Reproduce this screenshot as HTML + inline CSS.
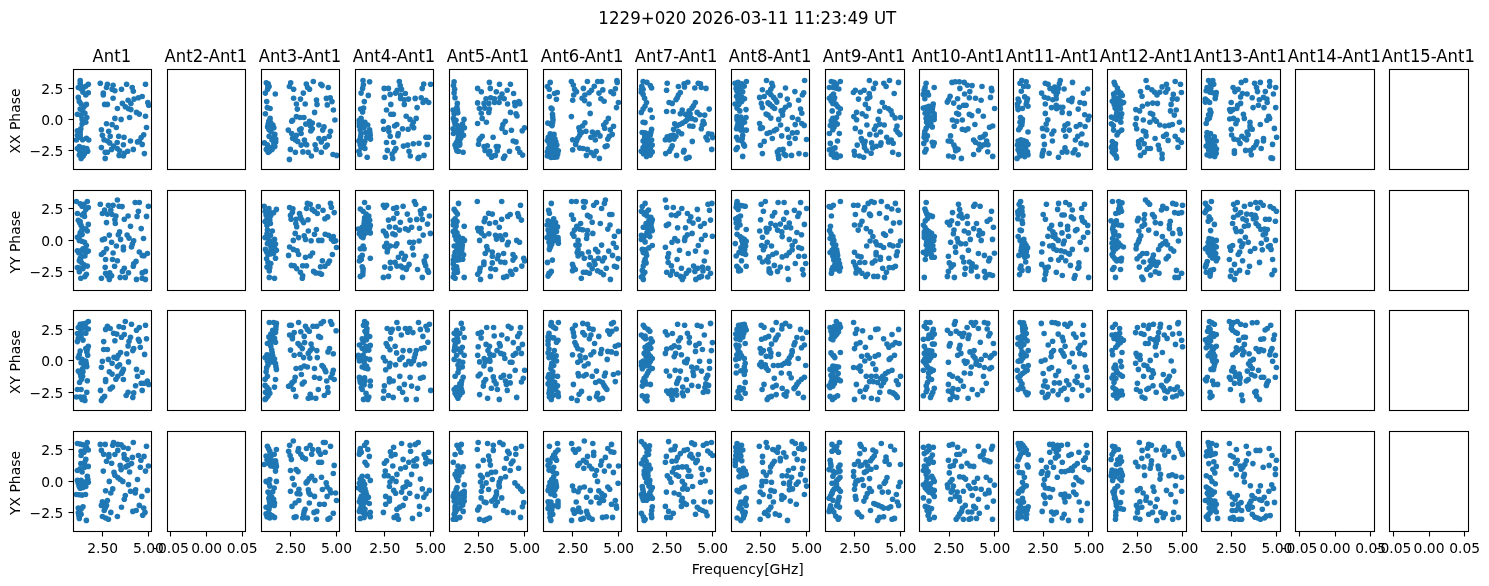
<!DOCTYPE html><html><head><meta charset="utf-8"><title>phase</title><style>html,body{margin:0;padding:0;background:#fff}svg{display:block;will-change:transform}text{font-family:"DejaVu Sans","Liberation Sans",sans-serif;fill:#000}line,rect.f{stroke:#000;stroke-width:1.1;fill:none}</style></head><body>
<svg width="1489" height="586" viewBox="0 0 1489 586">
<rect width="1489" height="586" fill="#fff"/>
<text transform="translate(747.30,24.00) scale(1.000,1.060)" font-size="16.67" text-anchor="middle">1229+020 2026-03-11 11:23:49 UT</text>
<text transform="translate(747.80,574.00) scale(1.010,1.000)" font-size="13.89" text-anchor="middle">Frequency[GHz]</text>
<g fill="#1f77b4"><circle cx="80.2" cy="80.5" r="2.8"/><circle cx="80.2" cy="83.3" r="2.8"/><circle cx="88.3" cy="84.3" r="2.8"/><circle cx="85.8" cy="86.2" r="2.8"/><circle cx="78.3" cy="87.5" r="2.8"/><circle cx="81.1" cy="89.0" r="2.8"/><circle cx="83.0" cy="92.2" r="2.8"/><circle cx="88.3" cy="92.7" r="2.8"/><circle cx="85.8" cy="95.0" r="2.8"/><circle cx="78.3" cy="97.4" r="2.8"/><circle cx="79.3" cy="101.6" r="2.8"/><circle cx="81.1" cy="104.0" r="2.8"/><circle cx="86.4" cy="104.4" r="2.8"/><circle cx="84.0" cy="106.8" r="2.8"/><circle cx="80.2" cy="109.1" r="2.8"/><circle cx="82.6" cy="110.9" r="2.8"/><circle cx="77.4" cy="114.3" r="2.8"/><circle cx="84.9" cy="113.2" r="2.8"/><circle cx="81.1" cy="115.6" r="2.8"/><circle cx="86.8" cy="117.5" r="2.8"/><circle cx="82.1" cy="119.4" r="2.8"/><circle cx="85.8" cy="122.2" r="2.8"/><circle cx="82.1" cy="124.1" r="2.8"/><circle cx="80.8" cy="128.8" r="2.8"/><circle cx="77.4" cy="130.7" r="2.8"/><circle cx="80.2" cy="131.6" r="2.8"/><circle cx="77.4" cy="135.3" r="2.8"/><circle cx="80.2" cy="137.2" r="2.8"/><circle cx="86.4" cy="138.2" r="2.8"/><circle cx="88.7" cy="140.0" r="2.8"/><circle cx="76.4" cy="140.0" r="2.8"/><circle cx="82.6" cy="139.7" r="2.8"/><circle cx="79.3" cy="146.6" r="2.8"/><circle cx="83.4" cy="147.9" r="2.8"/><circle cx="77.4" cy="148.5" r="2.8"/><circle cx="86.8" cy="148.5" r="2.8"/><circle cx="85.3" cy="150.4" r="2.8"/><circle cx="87.7" cy="151.3" r="2.8"/><circle cx="81.5" cy="152.2" r="2.8"/><circle cx="84.5" cy="153.7" r="2.8"/><circle cx="79.3" cy="155.1" r="2.8"/><circle cx="83.0" cy="156.0" r="2.8"/><circle cx="81.1" cy="158.4" r="2.8"/><circle cx="100.3" cy="83.3" r="2.8"/><circle cx="107.4" cy="84.3" r="2.8"/><circle cx="113.1" cy="85.2" r="2.8"/><circle cx="126.6" cy="84.3" r="2.8"/><circle cx="145.5" cy="84.3" r="2.8"/><circle cx="106.5" cy="87.5" r="2.8"/><circle cx="132.2" cy="87.5" r="2.8"/><circle cx="121.5" cy="89.3" r="2.8"/><circle cx="112.1" cy="89.3" r="2.8"/><circle cx="114.9" cy="90.7" r="2.8"/><circle cx="133.3" cy="91.2" r="2.8"/><circle cx="103.3" cy="93.1" r="2.8"/><circle cx="103.3" cy="95.0" r="2.8"/><circle cx="142.2" cy="96.5" r="2.8"/><circle cx="113.1" cy="98.2" r="2.8"/><circle cx="128.1" cy="100.2" r="2.8"/><circle cx="134.1" cy="99.1" r="2.8"/><circle cx="138.4" cy="97.8" r="2.8"/><circle cx="147.8" cy="102.5" r="2.8"/><circle cx="104.6" cy="104.4" r="2.8"/><circle cx="107.4" cy="104.4" r="2.8"/><circle cx="122.4" cy="103.4" r="2.8"/><circle cx="130.9" cy="103.4" r="2.8"/><circle cx="148.7" cy="105.3" r="2.8"/><circle cx="125.3" cy="106.8" r="2.8"/><circle cx="117.4" cy="108.5" r="2.8"/><circle cx="128.5" cy="108.7" r="2.8"/><circle cx="130.9" cy="109.6" r="2.8"/><circle cx="136.5" cy="112.4" r="2.8"/><circle cx="139.3" cy="114.1" r="2.8"/><circle cx="145.5" cy="116.2" r="2.8"/><circle cx="129.6" cy="117.5" r="2.8"/><circle cx="114.9" cy="118.4" r="2.8"/><circle cx="121.1" cy="119.4" r="2.8"/><circle cx="106.5" cy="123.7" r="2.8"/><circle cx="112.1" cy="124.6" r="2.8"/><circle cx="146.5" cy="127.5" r="2.8"/><circle cx="116.3" cy="127.5" r="2.8"/><circle cx="101.4" cy="129.7" r="2.8"/><circle cx="108.7" cy="131.2" r="2.8"/><circle cx="143.7" cy="134.8" r="2.8"/><circle cx="102.4" cy="135.3" r="2.8"/><circle cx="110.2" cy="136.3" r="2.8"/><circle cx="118.7" cy="136.3" r="2.8"/><circle cx="124.0" cy="137.2" r="2.8"/><circle cx="141.2" cy="137.6" r="2.8"/><circle cx="104.0" cy="139.7" r="2.8"/><circle cx="107.4" cy="141.0" r="2.8"/><circle cx="130.5" cy="141.0" r="2.8"/><circle cx="139.3" cy="141.0" r="2.8"/><circle cx="137.5" cy="141.9" r="2.8"/><circle cx="117.2" cy="142.5" r="2.8"/><circle cx="109.7" cy="142.9" r="2.8"/><circle cx="142.2" cy="144.4" r="2.8"/><circle cx="123.4" cy="144.7" r="2.8"/><circle cx="113.6" cy="146.1" r="2.8"/><circle cx="101.4" cy="147.6" r="2.8"/><circle cx="117.2" cy="148.5" r="2.8"/><circle cx="111.6" cy="149.4" r="2.8"/><circle cx="133.3" cy="149.4" r="2.8"/><circle cx="119.6" cy="150.7" r="2.8"/><circle cx="127.7" cy="151.3" r="2.8"/><circle cx="105.2" cy="152.2" r="2.8"/><circle cx="107.4" cy="152.2" r="2.8"/><circle cx="124.3" cy="153.2" r="2.8"/><circle cx="144.4" cy="153.6" r="2.8"/><circle cx="119.1" cy="155.4" r="2.8"/><circle cx="123.4" cy="156.0" r="2.8"/><circle cx="105.2" cy="158.4" r="2.8"/><circle cx="80.7" cy="86.2" r="2.8"/><circle cx="85.6" cy="151.1" r="2.8"/><circle cx="80.2" cy="134.4" r="2.8"/><circle cx="82.8" cy="156.1" r="2.8"/><circle cx="79.5" cy="150.4" r="2.8"/><circle cx="85.6" cy="149.6" r="2.8"/><circle cx="83.5" cy="87.6" r="2.8"/><circle cx="84.0" cy="150.8" r="2.8"/></g><rect class="f" x="73.5" y="69.5" width="78.0" height="100.0"/><line x1="68.5" y1="88.5" x2="73.5" y2="88.5"/><text transform="translate(63.30,94.00) scale(1.000,1.000)" font-size="13.89" text-anchor="end">2.5</text><line x1="68.5" y1="119.5" x2="73.5" y2="119.5"/><text transform="translate(63.30,125.00) scale(1.000,1.000)" font-size="13.89" text-anchor="end">0.0</text><line x1="68.5" y1="150.5" x2="73.5" y2="150.5"/><text transform="translate(63.30,156.00) scale(1.000,1.000)" font-size="13.89" text-anchor="end">−2.5</text><text transform="translate(20.00,121.00) rotate(-90) scale(1.000,1.000)" font-size="13.89" text-anchor="middle">XX Phase</text><text transform="translate(111.87,62.00) scale(0.985,1.060)" font-size="16.67" text-anchor="middle">Ant1</text>
<rect class="f" x="167.5" y="69.5" width="78.0" height="100.0"/><text transform="translate(205.91,62.00) scale(0.985,1.060)" font-size="16.67" text-anchor="middle">Ant2-Ant1</text>
<g fill="#1f77b4"><circle cx="266.3" cy="82.8" r="2.8"/><circle cx="268.2" cy="83.7" r="2.8"/><circle cx="269.1" cy="86.5" r="2.8"/><circle cx="267.6" cy="89.3" r="2.8"/><circle cx="265.4" cy="93.1" r="2.8"/><circle cx="275.3" cy="94.0" r="2.8"/><circle cx="266.7" cy="101.6" r="2.8"/><circle cx="267.3" cy="107.6" r="2.8"/><circle cx="270.1" cy="108.5" r="2.8"/><circle cx="265.4" cy="113.8" r="2.8"/><circle cx="270.1" cy="118.4" r="2.8"/><circle cx="268.8" cy="121.3" r="2.8"/><circle cx="269.5" cy="124.1" r="2.8"/><circle cx="272.9" cy="125.0" r="2.8"/><circle cx="267.6" cy="126.9" r="2.8"/><circle cx="273.8" cy="127.8" r="2.8"/><circle cx="269.1" cy="129.7" r="2.8"/><circle cx="271.0" cy="131.6" r="2.8"/><circle cx="274.8" cy="134.4" r="2.8"/><circle cx="269.1" cy="136.3" r="2.8"/><circle cx="273.8" cy="137.2" r="2.8"/><circle cx="275.7" cy="139.1" r="2.8"/><circle cx="272.0" cy="140.0" r="2.8"/><circle cx="264.4" cy="142.9" r="2.8"/><circle cx="275.7" cy="141.9" r="2.8"/><circle cx="273.8" cy="143.8" r="2.8"/><circle cx="267.3" cy="144.7" r="2.8"/><circle cx="274.8" cy="146.6" r="2.8"/><circle cx="270.1" cy="147.6" r="2.8"/><circle cx="266.3" cy="149.4" r="2.8"/><circle cx="272.0" cy="149.4" r="2.8"/><circle cx="268.2" cy="152.2" r="2.8"/><circle cx="269.5" cy="151.3" r="2.8"/><circle cx="290.7" cy="82.8" r="2.8"/><circle cx="289.4" cy="86.5" r="2.8"/><circle cx="293.6" cy="89.3" r="2.8"/><circle cx="306.3" cy="84.1" r="2.8"/><circle cx="313.3" cy="81.5" r="2.8"/><circle cx="320.8" cy="84.3" r="2.8"/><circle cx="322.1" cy="85.6" r="2.8"/><circle cx="328.3" cy="87.5" r="2.8"/><circle cx="307.6" cy="87.5" r="2.8"/><circle cx="309.5" cy="89.3" r="2.8"/><circle cx="303.3" cy="93.1" r="2.8"/><circle cx="293.6" cy="98.2" r="2.8"/><circle cx="300.5" cy="99.1" r="2.8"/><circle cx="316.5" cy="100.0" r="2.8"/><circle cx="326.4" cy="98.4" r="2.8"/><circle cx="330.2" cy="97.8" r="2.8"/><circle cx="332.0" cy="101.6" r="2.8"/><circle cx="296.4" cy="104.0" r="2.8"/><circle cx="305.2" cy="104.0" r="2.8"/><circle cx="317.0" cy="104.4" r="2.8"/><circle cx="327.3" cy="104.9" r="2.8"/><circle cx="297.3" cy="109.1" r="2.8"/><circle cx="333.4" cy="110.0" r="2.8"/><circle cx="314.6" cy="112.4" r="2.8"/><circle cx="296.4" cy="116.6" r="2.8"/><circle cx="300.1" cy="117.5" r="2.8"/><circle cx="303.9" cy="117.5" r="2.8"/><circle cx="292.6" cy="120.3" r="2.8"/><circle cx="291.7" cy="121.3" r="2.8"/><circle cx="334.9" cy="120.0" r="2.8"/><circle cx="309.5" cy="121.3" r="2.8"/><circle cx="312.3" cy="123.1" r="2.8"/><circle cx="305.8" cy="124.1" r="2.8"/><circle cx="301.1" cy="128.8" r="2.8"/><circle cx="299.6" cy="129.7" r="2.8"/><circle cx="310.4" cy="126.0" r="2.8"/><circle cx="318.9" cy="125.0" r="2.8"/><circle cx="324.0" cy="126.9" r="2.8"/><circle cx="312.3" cy="128.8" r="2.8"/><circle cx="288.3" cy="130.1" r="2.8"/><circle cx="310.8" cy="131.0" r="2.8"/><circle cx="322.7" cy="130.1" r="2.8"/><circle cx="330.5" cy="131.2" r="2.8"/><circle cx="301.1" cy="133.5" r="2.8"/><circle cx="291.7" cy="133.5" r="2.8"/><circle cx="296.4" cy="135.3" r="2.8"/><circle cx="292.6" cy="138.2" r="2.8"/><circle cx="318.9" cy="138.5" r="2.8"/><circle cx="324.5" cy="138.5" r="2.8"/><circle cx="329.2" cy="136.3" r="2.8"/><circle cx="295.4" cy="140.0" r="2.8"/><circle cx="297.7" cy="141.4" r="2.8"/><circle cx="304.4" cy="140.0" r="2.8"/><circle cx="321.3" cy="141.9" r="2.8"/><circle cx="305.2" cy="143.8" r="2.8"/><circle cx="301.1" cy="145.1" r="2.8"/><circle cx="306.7" cy="144.7" r="2.8"/><circle cx="315.1" cy="144.7" r="2.8"/><circle cx="327.3" cy="145.1" r="2.8"/><circle cx="325.5" cy="147.0" r="2.8"/><circle cx="290.4" cy="149.4" r="2.8"/><circle cx="316.1" cy="149.4" r="2.8"/><circle cx="295.4" cy="152.2" r="2.8"/><circle cx="302.9" cy="151.9" r="2.8"/><circle cx="308.2" cy="152.2" r="2.8"/><circle cx="321.3" cy="152.2" r="2.8"/><circle cx="311.4" cy="156.0" r="2.8"/><circle cx="333.0" cy="154.5" r="2.8"/><circle cx="336.7" cy="155.4" r="2.8"/><circle cx="289.4" cy="159.4" r="2.8"/><circle cx="271.7" cy="126.0" r="2.8"/><circle cx="267.9" cy="86.5" r="2.8"/><circle cx="269.8" cy="121.3" r="2.8"/><circle cx="268.2" cy="124.1" r="2.8"/><circle cx="269.3" cy="126.9" r="2.8"/><circle cx="269.1" cy="149.4" r="2.8"/><circle cx="269.3" cy="129.2" r="2.8"/><circle cx="270.8" cy="123.1" r="2.8"/></g><rect class="f" x="261.5" y="69.5" width="78.0" height="100.0"/><text transform="translate(299.94,62.00) scale(0.985,1.060)" font-size="16.67" text-anchor="middle">Ant3-Ant1</text>
<g fill="#1f77b4"><circle cx="363.0" cy="80.5" r="2.8"/><circle cx="369.6" cy="81.8" r="2.8"/><circle cx="363.4" cy="84.7" r="2.8"/><circle cx="362.6" cy="88.4" r="2.8"/><circle cx="361.1" cy="93.1" r="2.8"/><circle cx="368.3" cy="95.4" r="2.8"/><circle cx="364.3" cy="101.6" r="2.8"/><circle cx="363.6" cy="108.1" r="2.8"/><circle cx="360.6" cy="109.1" r="2.8"/><circle cx="362.6" cy="111.9" r="2.8"/><circle cx="361.1" cy="118.4" r="2.8"/><circle cx="359.3" cy="120.3" r="2.8"/><circle cx="364.9" cy="122.2" r="2.8"/><circle cx="361.1" cy="124.1" r="2.8"/><circle cx="367.7" cy="125.0" r="2.8"/><circle cx="359.3" cy="126.0" r="2.8"/><circle cx="364.0" cy="127.8" r="2.8"/><circle cx="369.6" cy="129.7" r="2.8"/><circle cx="360.2" cy="129.7" r="2.8"/><circle cx="365.8" cy="132.5" r="2.8"/><circle cx="361.1" cy="133.5" r="2.8"/><circle cx="370.2" cy="135.3" r="2.8"/><circle cx="366.8" cy="137.2" r="2.8"/><circle cx="360.2" cy="139.1" r="2.8"/><circle cx="370.5" cy="139.1" r="2.8"/><circle cx="364.9" cy="141.0" r="2.8"/><circle cx="358.9" cy="141.0" r="2.8"/><circle cx="364.0" cy="143.8" r="2.8"/><circle cx="360.2" cy="144.7" r="2.8"/><circle cx="361.1" cy="147.6" r="2.8"/><circle cx="364.9" cy="148.5" r="2.8"/><circle cx="358.9" cy="151.3" r="2.8"/><circle cx="359.8" cy="154.5" r="2.8"/><circle cx="367.2" cy="157.3" r="2.8"/><circle cx="399.3" cy="81.5" r="2.8"/><circle cx="400.2" cy="85.6" r="2.8"/><circle cx="423.7" cy="84.1" r="2.8"/><circle cx="430.6" cy="84.3" r="2.8"/><circle cx="422.2" cy="88.4" r="2.8"/><circle cx="384.2" cy="88.4" r="2.8"/><circle cx="388.4" cy="88.4" r="2.8"/><circle cx="397.2" cy="90.3" r="2.8"/><circle cx="401.5" cy="89.3" r="2.8"/><circle cx="395.5" cy="93.1" r="2.8"/><circle cx="390.2" cy="94.4" r="2.8"/><circle cx="400.6" cy="95.0" r="2.8"/><circle cx="405.3" cy="93.5" r="2.8"/><circle cx="384.2" cy="97.4" r="2.8"/><circle cx="400.6" cy="98.4" r="2.8"/><circle cx="404.3" cy="99.7" r="2.8"/><circle cx="408.5" cy="99.1" r="2.8"/><circle cx="415.2" cy="98.4" r="2.8"/><circle cx="421.2" cy="97.8" r="2.8"/><circle cx="425.9" cy="100.2" r="2.8"/><circle cx="423.1" cy="102.5" r="2.8"/><circle cx="428.7" cy="102.5" r="2.8"/><circle cx="390.8" cy="104.4" r="2.8"/><circle cx="404.3" cy="104.4" r="2.8"/><circle cx="417.1" cy="107.6" r="2.8"/><circle cx="386.5" cy="110.0" r="2.8"/><circle cx="390.8" cy="114.3" r="2.8"/><circle cx="393.4" cy="114.3" r="2.8"/><circle cx="406.2" cy="116.2" r="2.8"/><circle cx="410.0" cy="119.4" r="2.8"/><circle cx="416.2" cy="118.4" r="2.8"/><circle cx="383.3" cy="121.3" r="2.8"/><circle cx="413.3" cy="122.2" r="2.8"/><circle cx="396.8" cy="124.5" r="2.8"/><circle cx="394.6" cy="126.0" r="2.8"/><circle cx="412.2" cy="125.6" r="2.8"/><circle cx="388.4" cy="127.8" r="2.8"/><circle cx="383.7" cy="129.3" r="2.8"/><circle cx="402.5" cy="128.8" r="2.8"/><circle cx="408.1" cy="129.2" r="2.8"/><circle cx="413.7" cy="127.8" r="2.8"/><circle cx="388.9" cy="131.6" r="2.8"/><circle cx="398.3" cy="133.5" r="2.8"/><circle cx="390.2" cy="136.3" r="2.8"/><circle cx="397.8" cy="135.7" r="2.8"/><circle cx="425.9" cy="137.2" r="2.8"/><circle cx="428.7" cy="137.2" r="2.8"/><circle cx="386.5" cy="142.5" r="2.8"/><circle cx="393.6" cy="142.5" r="2.8"/><circle cx="403.4" cy="146.1" r="2.8"/><circle cx="407.7" cy="145.1" r="2.8"/><circle cx="413.3" cy="143.8" r="2.8"/><circle cx="419.0" cy="143.2" r="2.8"/><circle cx="427.2" cy="144.4" r="2.8"/><circle cx="395.9" cy="148.5" r="2.8"/><circle cx="387.4" cy="150.4" r="2.8"/><circle cx="394.6" cy="150.7" r="2.8"/><circle cx="409.0" cy="151.3" r="2.8"/><circle cx="392.1" cy="154.1" r="2.8"/><circle cx="410.3" cy="156.0" r="2.8"/><circle cx="385.2" cy="157.3" r="2.8"/><circle cx="392.7" cy="158.4" r="2.8"/><circle cx="419.0" cy="157.3" r="2.8"/><circle cx="424.0" cy="155.4" r="2.8"/><circle cx="418.0" cy="158.4" r="2.8"/><circle cx="360.7" cy="136.3" r="2.8"/><circle cx="364.4" cy="125.0" r="2.8"/><circle cx="360.7" cy="126.9" r="2.8"/><circle cx="369.9" cy="132.5" r="2.8"/><circle cx="359.3" cy="123.1" r="2.8"/><circle cx="360.2" cy="141.9" r="2.8"/><circle cx="361.1" cy="121.3" r="2.8"/><circle cx="361.4" cy="142.4" r="2.8"/></g><rect class="f" x="355.5" y="69.5" width="78.0" height="100.0"/><text transform="translate(393.98,62.00) scale(0.985,1.060)" font-size="16.67" text-anchor="middle">Ant4-Ant1</text>
<g fill="#1f77b4"><circle cx="454.1" cy="81.8" r="2.8"/><circle cx="453.5" cy="85.6" r="2.8"/><circle cx="454.6" cy="89.3" r="2.8"/><circle cx="454.1" cy="93.1" r="2.8"/><circle cx="455.0" cy="97.8" r="2.8"/><circle cx="457.3" cy="103.4" r="2.8"/><circle cx="456.9" cy="107.2" r="2.8"/><circle cx="453.1" cy="110.0" r="2.8"/><circle cx="454.1" cy="113.8" r="2.8"/><circle cx="457.8" cy="112.8" r="2.8"/><circle cx="453.5" cy="118.4" r="2.8"/><circle cx="456.0" cy="120.3" r="2.8"/><circle cx="464.0" cy="119.4" r="2.8"/><circle cx="455.0" cy="124.1" r="2.8"/><circle cx="462.5" cy="124.1" r="2.8"/><circle cx="459.7" cy="126.9" r="2.8"/><circle cx="453.1" cy="128.8" r="2.8"/><circle cx="464.4" cy="127.8" r="2.8"/><circle cx="457.8" cy="129.7" r="2.8"/><circle cx="461.6" cy="131.6" r="2.8"/><circle cx="453.5" cy="133.5" r="2.8"/><circle cx="458.8" cy="134.4" r="2.8"/><circle cx="463.5" cy="135.3" r="2.8"/><circle cx="460.7" cy="138.2" r="2.8"/><circle cx="457.8" cy="140.0" r="2.8"/><circle cx="459.7" cy="142.9" r="2.8"/><circle cx="455.0" cy="145.1" r="2.8"/><circle cx="459.7" cy="145.1" r="2.8"/><circle cx="456.9" cy="150.7" r="2.8"/><circle cx="458.4" cy="151.3" r="2.8"/><circle cx="463.1" cy="152.2" r="2.8"/><circle cx="489.4" cy="82.4" r="2.8"/><circle cx="499.5" cy="84.3" r="2.8"/><circle cx="510.4" cy="84.3" r="2.8"/><circle cx="477.6" cy="88.4" r="2.8"/><circle cx="490.3" cy="88.4" r="2.8"/><circle cx="481.3" cy="91.8" r="2.8"/><circle cx="496.3" cy="91.8" r="2.8"/><circle cx="507.2" cy="90.3" r="2.8"/><circle cx="502.0" cy="94.0" r="2.8"/><circle cx="513.6" cy="93.5" r="2.8"/><circle cx="486.0" cy="98.7" r="2.8"/><circle cx="490.7" cy="97.8" r="2.8"/><circle cx="494.5" cy="98.7" r="2.8"/><circle cx="500.1" cy="97.8" r="2.8"/><circle cx="504.2" cy="98.7" r="2.8"/><circle cx="477.6" cy="102.9" r="2.8"/><circle cx="484.1" cy="103.4" r="2.8"/><circle cx="488.8" cy="103.4" r="2.8"/><circle cx="494.5" cy="102.5" r="2.8"/><circle cx="499.1" cy="102.5" r="2.8"/><circle cx="507.6" cy="104.0" r="2.8"/><circle cx="514.7" cy="102.5" r="2.8"/><circle cx="518.9" cy="101.6" r="2.8"/><circle cx="519.8" cy="103.8" r="2.8"/><circle cx="515.1" cy="105.7" r="2.8"/><circle cx="479.4" cy="108.5" r="2.8"/><circle cx="484.7" cy="108.1" r="2.8"/><circle cx="489.4" cy="109.1" r="2.8"/><circle cx="481.3" cy="113.2" r="2.8"/><circle cx="488.8" cy="112.4" r="2.8"/><circle cx="510.4" cy="112.4" r="2.8"/><circle cx="516.0" cy="113.8" r="2.8"/><circle cx="517.0" cy="116.0" r="2.8"/><circle cx="482.2" cy="118.4" r="2.8"/><circle cx="505.3" cy="121.3" r="2.8"/><circle cx="477.6" cy="123.5" r="2.8"/><circle cx="486.4" cy="122.2" r="2.8"/><circle cx="502.9" cy="124.5" r="2.8"/><circle cx="502.0" cy="128.4" r="2.8"/><circle cx="524.5" cy="127.8" r="2.8"/><circle cx="522.2" cy="130.7" r="2.8"/><circle cx="511.4" cy="130.3" r="2.8"/><circle cx="505.3" cy="132.2" r="2.8"/><circle cx="482.2" cy="136.3" r="2.8"/><circle cx="480.4" cy="138.2" r="2.8"/><circle cx="493.1" cy="137.2" r="2.8"/><circle cx="479.1" cy="140.0" r="2.8"/><circle cx="513.2" cy="141.0" r="2.8"/><circle cx="516.0" cy="141.9" r="2.8"/><circle cx="478.5" cy="144.2" r="2.8"/><circle cx="484.1" cy="146.6" r="2.8"/><circle cx="487.3" cy="145.7" r="2.8"/><circle cx="496.3" cy="146.6" r="2.8"/><circle cx="498.2" cy="146.6" r="2.8"/><circle cx="517.9" cy="148.5" r="2.8"/><circle cx="485.1" cy="150.4" r="2.8"/><circle cx="489.8" cy="151.3" r="2.8"/><circle cx="497.3" cy="150.7" r="2.8"/><circle cx="509.5" cy="151.3" r="2.8"/><circle cx="519.8" cy="152.2" r="2.8"/><circle cx="488.8" cy="154.1" r="2.8"/><circle cx="492.6" cy="156.0" r="2.8"/><circle cx="495.4" cy="155.4" r="2.8"/><circle cx="504.8" cy="156.0" r="2.8"/><circle cx="522.6" cy="155.1" r="2.8"/><circle cx="491.6" cy="157.3" r="2.8"/><circle cx="503.5" cy="158.3" r="2.8"/><circle cx="457.4" cy="110.0" r="2.8"/><circle cx="458.3" cy="137.2" r="2.8"/><circle cx="455.7" cy="131.6" r="2.8"/><circle cx="456.4" cy="142.6" r="2.8"/><circle cx="454.3" cy="121.3" r="2.8"/><circle cx="455.5" cy="111.4" r="2.8"/><circle cx="457.4" cy="125.5" r="2.8"/><circle cx="456.0" cy="147.9" r="2.8"/></g><rect class="f" x="449.5" y="69.5" width="78.0" height="100.0"/><text transform="translate(488.01,62.00) scale(0.985,1.060)" font-size="16.67" text-anchor="middle">Ant5-Ant1</text>
<g fill="#1f77b4"><circle cx="550.2" cy="82.4" r="2.8"/><circle cx="547.4" cy="86.5" r="2.8"/><circle cx="549.3" cy="89.3" r="2.8"/><circle cx="557.3" cy="92.5" r="2.8"/><circle cx="554.5" cy="93.5" r="2.8"/><circle cx="549.3" cy="96.5" r="2.8"/><circle cx="556.4" cy="99.3" r="2.8"/><circle cx="551.1" cy="108.1" r="2.8"/><circle cx="552.1" cy="109.1" r="2.8"/><circle cx="552.5" cy="114.3" r="2.8"/><circle cx="553.0" cy="120.0" r="2.8"/><circle cx="547.8" cy="123.1" r="2.8"/><circle cx="551.1" cy="124.5" r="2.8"/><circle cx="552.1" cy="125.6" r="2.8"/><circle cx="550.2" cy="133.8" r="2.8"/><circle cx="554.0" cy="134.4" r="2.8"/><circle cx="548.3" cy="137.2" r="2.8"/><circle cx="552.1" cy="137.6" r="2.8"/><circle cx="554.9" cy="138.7" r="2.8"/><circle cx="547.4" cy="140.6" r="2.8"/><circle cx="551.1" cy="141.0" r="2.8"/><circle cx="555.8" cy="141.9" r="2.8"/><circle cx="549.3" cy="143.8" r="2.8"/><circle cx="554.0" cy="144.4" r="2.8"/><circle cx="556.8" cy="145.1" r="2.8"/><circle cx="551.1" cy="146.6" r="2.8"/><circle cx="548.3" cy="148.5" r="2.8"/><circle cx="555.8" cy="148.9" r="2.8"/><circle cx="552.1" cy="150.0" r="2.8"/><circle cx="558.3" cy="150.7" r="2.8"/><circle cx="547.4" cy="151.9" r="2.8"/><circle cx="554.0" cy="152.6" r="2.8"/><circle cx="550.2" cy="154.1" r="2.8"/><circle cx="557.7" cy="154.1" r="2.8"/><circle cx="547.4" cy="156.0" r="2.8"/><circle cx="553.0" cy="156.4" r="2.8"/><circle cx="556.8" cy="156.9" r="2.8"/><circle cx="551.1" cy="157.5" r="2.8"/><circle cx="571.4" cy="81.5" r="2.8"/><circle cx="587.4" cy="81.5" r="2.8"/><circle cx="597.7" cy="81.5" r="2.8"/><circle cx="601.5" cy="81.5" r="2.8"/><circle cx="616.9" cy="80.5" r="2.8"/><circle cx="617.2" cy="82.4" r="2.8"/><circle cx="573.3" cy="85.0" r="2.8"/><circle cx="594.3" cy="86.2" r="2.8"/><circle cx="583.4" cy="88.4" r="2.8"/><circle cx="574.6" cy="89.3" r="2.8"/><circle cx="615.4" cy="88.8" r="2.8"/><circle cx="591.5" cy="90.3" r="2.8"/><circle cx="602.8" cy="89.9" r="2.8"/><circle cx="576.5" cy="91.8" r="2.8"/><circle cx="589.1" cy="92.7" r="2.8"/><circle cx="610.9" cy="91.8" r="2.8"/><circle cx="599.0" cy="93.1" r="2.8"/><circle cx="613.5" cy="93.7" r="2.8"/><circle cx="573.7" cy="95.0" r="2.8"/><circle cx="584.9" cy="95.0" r="2.8"/><circle cx="582.1" cy="98.2" r="2.8"/><circle cx="600.9" cy="98.7" r="2.8"/><circle cx="572.7" cy="100.2" r="2.8"/><circle cx="584.6" cy="100.6" r="2.8"/><circle cx="604.1" cy="101.2" r="2.8"/><circle cx="618.4" cy="102.5" r="2.8"/><circle cx="589.1" cy="104.0" r="2.8"/><circle cx="616.5" cy="107.6" r="2.8"/><circle cx="590.2" cy="113.4" r="2.8"/><circle cx="571.4" cy="116.6" r="2.8"/><circle cx="608.4" cy="118.4" r="2.8"/><circle cx="584.9" cy="122.8" r="2.8"/><circle cx="606.0" cy="122.2" r="2.8"/><circle cx="603.7" cy="125.0" r="2.8"/><circle cx="582.5" cy="126.0" r="2.8"/><circle cx="578.9" cy="127.8" r="2.8"/><circle cx="613.5" cy="126.3" r="2.8"/><circle cx="604.7" cy="128.2" r="2.8"/><circle cx="579.7" cy="130.7" r="2.8"/><circle cx="610.3" cy="129.7" r="2.8"/><circle cx="585.9" cy="131.2" r="2.8"/><circle cx="581.6" cy="132.5" r="2.8"/><circle cx="592.4" cy="132.0" r="2.8"/><circle cx="597.7" cy="132.5" r="2.8"/><circle cx="579.7" cy="135.3" r="2.8"/><circle cx="594.7" cy="135.0" r="2.8"/><circle cx="600.0" cy="135.9" r="2.8"/><circle cx="612.2" cy="134.4" r="2.8"/><circle cx="609.3" cy="136.3" r="2.8"/><circle cx="590.9" cy="137.2" r="2.8"/><circle cx="577.8" cy="138.2" r="2.8"/><circle cx="572.7" cy="139.7" r="2.8"/><circle cx="607.8" cy="139.1" r="2.8"/><circle cx="595.3" cy="140.0" r="2.8"/><circle cx="576.5" cy="141.0" r="2.8"/><circle cx="575.6" cy="144.4" r="2.8"/><circle cx="607.1" cy="145.7" r="2.8"/><circle cx="605.2" cy="146.6" r="2.8"/><circle cx="579.7" cy="148.1" r="2.8"/><circle cx="572.7" cy="149.8" r="2.8"/><circle cx="583.1" cy="148.5" r="2.8"/><circle cx="587.4" cy="149.4" r="2.8"/><circle cx="596.2" cy="151.3" r="2.8"/><circle cx="591.1" cy="152.6" r="2.8"/><circle cx="586.4" cy="155.4" r="2.8"/><circle cx="594.0" cy="155.4" r="2.8"/><circle cx="599.4" cy="158.4" r="2.8"/><circle cx="552.6" cy="122.8" r="2.8"/><circle cx="554.4" cy="141.5" r="2.8"/><circle cx="554.0" cy="139.8" r="2.8"/><circle cx="552.7" cy="117.1" r="2.8"/><circle cx="554.0" cy="157.2" r="2.8"/><circle cx="550.2" cy="156.2" r="2.8"/><circle cx="552.6" cy="155.1" r="2.8"/><circle cx="551.1" cy="143.8" r="2.8"/></g><rect class="f" x="543.5" y="69.5" width="78.0" height="100.0"/><text transform="translate(582.04,62.00) scale(0.985,1.060)" font-size="16.67" text-anchor="middle">Ant6-Ant1</text>
<g fill="#1f77b4"><circle cx="643.1" cy="81.5" r="2.8"/><circle cx="646.9" cy="82.4" r="2.8"/><circle cx="641.8" cy="86.2" r="2.8"/><circle cx="650.3" cy="85.6" r="2.8"/><circle cx="651.6" cy="88.0" r="2.8"/><circle cx="643.1" cy="89.3" r="2.8"/><circle cx="641.3" cy="92.2" r="2.8"/><circle cx="643.1" cy="94.4" r="2.8"/><circle cx="644.6" cy="98.2" r="2.8"/><circle cx="646.5" cy="102.5" r="2.8"/><circle cx="645.0" cy="106.2" r="2.8"/><circle cx="643.1" cy="109.1" r="2.8"/><circle cx="650.3" cy="110.0" r="2.8"/><circle cx="641.3" cy="112.4" r="2.8"/><circle cx="652.2" cy="117.5" r="2.8"/><circle cx="643.1" cy="122.2" r="2.8"/><circle cx="645.0" cy="122.6" r="2.8"/><circle cx="651.6" cy="129.3" r="2.8"/><circle cx="642.2" cy="132.5" r="2.8"/><circle cx="645.0" cy="132.9" r="2.8"/><circle cx="650.3" cy="135.0" r="2.8"/><circle cx="644.6" cy="138.2" r="2.8"/><circle cx="647.8" cy="139.1" r="2.8"/><circle cx="651.6" cy="140.0" r="2.8"/><circle cx="643.1" cy="141.0" r="2.8"/><circle cx="646.5" cy="142.5" r="2.8"/><circle cx="649.7" cy="143.8" r="2.8"/><circle cx="645.0" cy="145.1" r="2.8"/><circle cx="652.2" cy="145.1" r="2.8"/><circle cx="647.8" cy="146.6" r="2.8"/><circle cx="643.1" cy="147.6" r="2.8"/><circle cx="650.3" cy="149.4" r="2.8"/><circle cx="646.0" cy="150.0" r="2.8"/><circle cx="641.3" cy="151.3" r="2.8"/><circle cx="652.2" cy="151.9" r="2.8"/><circle cx="647.8" cy="153.2" r="2.8"/><circle cx="643.5" cy="153.7" r="2.8"/><circle cx="650.3" cy="155.1" r="2.8"/><circle cx="646.5" cy="156.4" r="2.8"/><circle cx="667.2" cy="83.2" r="2.8"/><circle cx="687.8" cy="82.2" r="2.8"/><circle cx="684.1" cy="83.7" r="2.8"/><circle cx="698.2" cy="83.3" r="2.8"/><circle cx="700.4" cy="83.7" r="2.8"/><circle cx="678.4" cy="86.5" r="2.8"/><circle cx="684.5" cy="86.9" r="2.8"/><circle cx="694.8" cy="88.0" r="2.8"/><circle cx="701.3" cy="87.5" r="2.8"/><circle cx="706.0" cy="88.4" r="2.8"/><circle cx="666.6" cy="90.3" r="2.8"/><circle cx="680.3" cy="92.5" r="2.8"/><circle cx="678.4" cy="95.0" r="2.8"/><circle cx="677.3" cy="97.8" r="2.8"/><circle cx="676.0" cy="99.7" r="2.8"/><circle cx="669.1" cy="102.5" r="2.8"/><circle cx="672.2" cy="103.4" r="2.8"/><circle cx="695.3" cy="102.5" r="2.8"/><circle cx="693.5" cy="105.7" r="2.8"/><circle cx="692.0" cy="108.1" r="2.8"/><circle cx="709.2" cy="109.1" r="2.8"/><circle cx="682.2" cy="110.0" r="2.8"/><circle cx="666.6" cy="111.5" r="2.8"/><circle cx="673.2" cy="111.5" r="2.8"/><circle cx="689.1" cy="110.9" r="2.8"/><circle cx="697.2" cy="112.4" r="2.8"/><circle cx="680.3" cy="113.8" r="2.8"/><circle cx="685.4" cy="114.3" r="2.8"/><circle cx="690.1" cy="113.8" r="2.8"/><circle cx="699.8" cy="114.7" r="2.8"/><circle cx="704.7" cy="115.1" r="2.8"/><circle cx="688.2" cy="116.6" r="2.8"/><circle cx="691.6" cy="118.4" r="2.8"/><circle cx="687.3" cy="119.4" r="2.8"/><circle cx="695.3" cy="119.8" r="2.8"/><circle cx="685.4" cy="121.3" r="2.8"/><circle cx="703.2" cy="121.3" r="2.8"/><circle cx="682.6" cy="123.1" r="2.8"/><circle cx="679.8" cy="124.5" r="2.8"/><circle cx="674.7" cy="123.7" r="2.8"/><circle cx="704.2" cy="123.7" r="2.8"/><circle cx="676.9" cy="126.0" r="2.8"/><circle cx="689.7" cy="126.0" r="2.8"/><circle cx="692.9" cy="126.3" r="2.8"/><circle cx="702.3" cy="125.0" r="2.8"/><circle cx="673.6" cy="129.3" r="2.8"/><circle cx="701.3" cy="128.8" r="2.8"/><circle cx="678.4" cy="131.6" r="2.8"/><circle cx="681.6" cy="133.8" r="2.8"/><circle cx="673.2" cy="135.0" r="2.8"/><circle cx="708.5" cy="133.8" r="2.8"/><circle cx="711.7" cy="134.4" r="2.8"/><circle cx="670.4" cy="135.9" r="2.8"/><circle cx="667.2" cy="136.9" r="2.8"/><circle cx="676.0" cy="136.3" r="2.8"/><circle cx="706.0" cy="137.2" r="2.8"/><circle cx="712.6" cy="137.6" r="2.8"/><circle cx="665.3" cy="139.7" r="2.8"/><circle cx="674.1" cy="139.1" r="2.8"/><circle cx="669.4" cy="140.0" r="2.8"/><circle cx="707.4" cy="140.0" r="2.8"/><circle cx="692.3" cy="141.4" r="2.8"/><circle cx="672.2" cy="145.7" r="2.8"/><circle cx="670.9" cy="148.5" r="2.8"/><circle cx="711.7" cy="149.4" r="2.8"/><circle cx="684.1" cy="150.4" r="2.8"/><circle cx="683.5" cy="151.9" r="2.8"/><circle cx="669.4" cy="151.3" r="2.8"/><circle cx="665.7" cy="153.6" r="2.8"/><circle cx="676.6" cy="155.4" r="2.8"/><circle cx="689.1" cy="157.3" r="2.8"/><circle cx="686.3" cy="158.4" r="2.8"/><circle cx="650.0" cy="146.6" r="2.8"/><circle cx="647.7" cy="133.9" r="2.8"/><circle cx="650.3" cy="152.2" r="2.8"/><circle cx="649.1" cy="141.3" r="2.8"/><circle cx="650.9" cy="132.2" r="2.8"/><circle cx="641.5" cy="89.2" r="2.8"/><circle cx="644.8" cy="145.0" r="2.8"/><circle cx="644.8" cy="135.5" r="2.8"/></g><rect class="f" x="637.5" y="69.5" width="78.0" height="100.0"/><text transform="translate(676.08,62.00) scale(0.985,1.060)" font-size="16.67" text-anchor="middle">Ant7-Ant1</text>
<g fill="#1f77b4"><circle cx="738.0" cy="82.4" r="2.8"/><circle cx="746.4" cy="81.5" r="2.8"/><circle cx="735.1" cy="83.3" r="2.8"/><circle cx="741.7" cy="83.7" r="2.8"/><circle cx="738.0" cy="86.2" r="2.8"/><circle cx="744.2" cy="86.2" r="2.8"/><circle cx="736.1" cy="88.4" r="2.8"/><circle cx="740.8" cy="88.8" r="2.8"/><circle cx="737.0" cy="91.2" r="2.8"/><circle cx="742.7" cy="91.8" r="2.8"/><circle cx="738.9" cy="94.0" r="2.8"/><circle cx="736.6" cy="96.3" r="2.8"/><circle cx="741.7" cy="96.9" r="2.8"/><circle cx="744.5" cy="98.7" r="2.8"/><circle cx="738.0" cy="99.7" r="2.8"/><circle cx="741.7" cy="101.6" r="2.8"/><circle cx="735.1" cy="104.0" r="2.8"/><circle cx="738.9" cy="104.4" r="2.8"/><circle cx="737.0" cy="108.1" r="2.8"/><circle cx="746.0" cy="109.6" r="2.8"/><circle cx="739.8" cy="110.9" r="2.8"/><circle cx="737.0" cy="116.6" r="2.8"/><circle cx="740.8" cy="117.1" r="2.8"/><circle cx="746.0" cy="117.5" r="2.8"/><circle cx="737.0" cy="119.4" r="2.8"/><circle cx="742.7" cy="120.0" r="2.8"/><circle cx="744.5" cy="122.2" r="2.8"/><circle cx="738.0" cy="123.1" r="2.8"/><circle cx="741.7" cy="124.5" r="2.8"/><circle cx="736.6" cy="128.8" r="2.8"/><circle cx="740.8" cy="130.1" r="2.8"/><circle cx="746.4" cy="130.1" r="2.8"/><circle cx="742.7" cy="135.3" r="2.8"/><circle cx="736.6" cy="137.2" r="2.8"/><circle cx="738.0" cy="140.0" r="2.8"/><circle cx="741.7" cy="141.0" r="2.8"/><circle cx="743.6" cy="144.4" r="2.8"/><circle cx="744.5" cy="146.1" r="2.8"/><circle cx="737.4" cy="147.6" r="2.8"/><circle cx="736.1" cy="149.4" r="2.8"/><circle cx="742.7" cy="156.4" r="2.8"/><circle cx="766.5" cy="80.5" r="2.8"/><circle cx="804.6" cy="80.5" r="2.8"/><circle cx="771.8" cy="83.3" r="2.8"/><circle cx="772.7" cy="86.2" r="2.8"/><circle cx="785.5" cy="88.0" r="2.8"/><circle cx="762.4" cy="89.7" r="2.8"/><circle cx="770.8" cy="89.3" r="2.8"/><circle cx="794.9" cy="91.6" r="2.8"/><circle cx="768.0" cy="92.5" r="2.8"/><circle cx="770.8" cy="94.6" r="2.8"/><circle cx="803.7" cy="92.7" r="2.8"/><circle cx="780.2" cy="95.4" r="2.8"/><circle cx="802.4" cy="95.0" r="2.8"/><circle cx="764.2" cy="96.5" r="2.8"/><circle cx="759.6" cy="97.4" r="2.8"/><circle cx="773.6" cy="97.4" r="2.8"/><circle cx="787.3" cy="99.1" r="2.8"/><circle cx="775.5" cy="99.7" r="2.8"/><circle cx="798.6" cy="100.2" r="2.8"/><circle cx="776.8" cy="102.1" r="2.8"/><circle cx="761.4" cy="103.4" r="2.8"/><circle cx="768.0" cy="102.9" r="2.8"/><circle cx="769.9" cy="104.4" r="2.8"/><circle cx="789.2" cy="104.9" r="2.8"/><circle cx="762.4" cy="107.6" r="2.8"/><circle cx="772.3" cy="106.6" r="2.8"/><circle cx="785.5" cy="107.2" r="2.8"/><circle cx="774.6" cy="108.5" r="2.8"/><circle cx="800.5" cy="109.1" r="2.8"/><circle cx="783.0" cy="110.4" r="2.8"/><circle cx="781.1" cy="110.9" r="2.8"/><circle cx="801.8" cy="113.2" r="2.8"/><circle cx="766.1" cy="114.1" r="2.8"/><circle cx="768.0" cy="115.1" r="2.8"/><circle cx="782.6" cy="115.1" r="2.8"/><circle cx="770.8" cy="118.1" r="2.8"/><circle cx="792.4" cy="117.5" r="2.8"/><circle cx="778.7" cy="119.4" r="2.8"/><circle cx="798.0" cy="119.4" r="2.8"/><circle cx="759.6" cy="123.5" r="2.8"/><circle cx="801.8" cy="123.5" r="2.8"/><circle cx="780.6" cy="125.0" r="2.8"/><circle cx="795.2" cy="124.6" r="2.8"/><circle cx="804.2" cy="125.4" r="2.8"/><circle cx="760.5" cy="128.4" r="2.8"/><circle cx="762.4" cy="127.8" r="2.8"/><circle cx="776.5" cy="129.2" r="2.8"/><circle cx="787.3" cy="129.3" r="2.8"/><circle cx="774.2" cy="130.7" r="2.8"/><circle cx="769.9" cy="132.5" r="2.8"/><circle cx="767.1" cy="133.5" r="2.8"/><circle cx="792.4" cy="132.9" r="2.8"/><circle cx="797.1" cy="132.5" r="2.8"/><circle cx="781.7" cy="135.9" r="2.8"/><circle cx="788.7" cy="137.2" r="2.8"/><circle cx="772.3" cy="138.5" r="2.8"/><circle cx="795.2" cy="138.5" r="2.8"/><circle cx="806.5" cy="139.5" r="2.8"/><circle cx="764.2" cy="141.4" r="2.8"/><circle cx="789.6" cy="143.4" r="2.8"/><circle cx="760.5" cy="145.3" r="2.8"/><circle cx="779.3" cy="149.8" r="2.8"/><circle cx="783.0" cy="149.4" r="2.8"/><circle cx="777.4" cy="151.9" r="2.8"/><circle cx="762.4" cy="153.6" r="2.8"/><circle cx="784.0" cy="154.1" r="2.8"/><circle cx="799.0" cy="153.6" r="2.8"/><circle cx="805.6" cy="154.5" r="2.8"/><circle cx="778.3" cy="155.4" r="2.8"/><circle cx="785.8" cy="155.4" r="2.8"/><circle cx="791.5" cy="155.4" r="2.8"/><circle cx="778.7" cy="158.4" r="2.8"/><circle cx="741.2" cy="127.3" r="2.8"/><circle cx="738.4" cy="96.9" r="2.8"/><circle cx="742.2" cy="138.2" r="2.8"/><circle cx="740.3" cy="121.5" r="2.8"/><circle cx="739.8" cy="91.5" r="2.8"/><circle cx="739.8" cy="119.7" r="2.8"/><circle cx="743.6" cy="130.1" r="2.8"/><circle cx="737.3" cy="126.0" r="2.8"/></g><rect class="f" x="731.5" y="69.5" width="78.0" height="100.0"/><text transform="translate(770.11,62.00) scale(0.985,1.060)" font-size="16.67" text-anchor="middle">Ant8-Ant1</text>
<g fill="#1f77b4"><circle cx="831.3" cy="81.5" r="2.8"/><circle cx="834.1" cy="82.4" r="2.8"/><circle cx="840.3" cy="81.5" r="2.8"/><circle cx="836.5" cy="84.3" r="2.8"/><circle cx="829.4" cy="87.5" r="2.8"/><circle cx="833.1" cy="87.5" r="2.8"/><circle cx="838.8" cy="89.0" r="2.8"/><circle cx="833.5" cy="94.0" r="2.8"/><circle cx="829.4" cy="98.2" r="2.8"/><circle cx="834.6" cy="97.8" r="2.8"/><circle cx="831.3" cy="101.2" r="2.8"/><circle cx="832.8" cy="103.4" r="2.8"/><circle cx="836.0" cy="104.4" r="2.8"/><circle cx="837.8" cy="106.8" r="2.8"/><circle cx="840.3" cy="108.7" r="2.8"/><circle cx="832.2" cy="110.9" r="2.8"/><circle cx="838.8" cy="113.2" r="2.8"/><circle cx="836.5" cy="117.5" r="2.8"/><circle cx="832.8" cy="118.4" r="2.8"/><circle cx="831.3" cy="120.9" r="2.8"/><circle cx="835.0" cy="121.8" r="2.8"/><circle cx="837.3" cy="124.1" r="2.8"/><circle cx="830.3" cy="125.6" r="2.8"/><circle cx="834.1" cy="126.9" r="2.8"/><circle cx="832.8" cy="129.7" r="2.8"/><circle cx="829.4" cy="133.5" r="2.8"/><circle cx="839.3" cy="133.5" r="2.8"/><circle cx="837.5" cy="141.0" r="2.8"/><circle cx="830.3" cy="143.4" r="2.8"/><circle cx="835.0" cy="147.9" r="2.8"/><circle cx="829.4" cy="149.8" r="2.8"/><circle cx="832.2" cy="151.9" r="2.8"/><circle cx="831.3" cy="154.5" r="2.8"/><circle cx="836.0" cy="154.1" r="2.8"/><circle cx="840.3" cy="156.0" r="2.8"/><circle cx="834.1" cy="156.9" r="2.8"/><circle cx="836.9" cy="157.5" r="2.8"/><circle cx="869.4" cy="80.5" r="2.8"/><circle cx="889.5" cy="80.5" r="2.8"/><circle cx="898.5" cy="82.4" r="2.8"/><circle cx="875.4" cy="83.3" r="2.8"/><circle cx="883.8" cy="83.3" r="2.8"/><circle cx="886.1" cy="86.5" r="2.8"/><circle cx="873.5" cy="88.4" r="2.8"/><circle cx="855.3" cy="90.3" r="2.8"/><circle cx="864.1" cy="90.3" r="2.8"/><circle cx="853.4" cy="92.5" r="2.8"/><circle cx="860.4" cy="92.2" r="2.8"/><circle cx="869.2" cy="93.5" r="2.8"/><circle cx="894.2" cy="93.5" r="2.8"/><circle cx="869.8" cy="96.9" r="2.8"/><circle cx="858.5" cy="99.1" r="2.8"/><circle cx="867.3" cy="98.7" r="2.8"/><circle cx="882.3" cy="102.5" r="2.8"/><circle cx="865.4" cy="104.4" r="2.8"/><circle cx="884.8" cy="107.2" r="2.8"/><circle cx="868.4" cy="108.5" r="2.8"/><circle cx="888.5" cy="108.7" r="2.8"/><circle cx="879.7" cy="111.3" r="2.8"/><circle cx="891.0" cy="110.9" r="2.8"/><circle cx="856.6" cy="112.3" r="2.8"/><circle cx="862.2" cy="113.8" r="2.8"/><circle cx="892.3" cy="114.7" r="2.8"/><circle cx="866.0" cy="116.2" r="2.8"/><circle cx="853.8" cy="116.6" r="2.8"/><circle cx="895.1" cy="117.9" r="2.8"/><circle cx="900.4" cy="117.5" r="2.8"/><circle cx="856.6" cy="119.8" r="2.8"/><circle cx="878.2" cy="119.4" r="2.8"/><circle cx="879.7" cy="124.1" r="2.8"/><circle cx="866.9" cy="125.0" r="2.8"/><circle cx="876.0" cy="126.0" r="2.8"/><circle cx="884.2" cy="125.0" r="2.8"/><circle cx="897.0" cy="126.0" r="2.8"/><circle cx="855.3" cy="128.4" r="2.8"/><circle cx="874.4" cy="129.3" r="2.8"/><circle cx="896.0" cy="129.7" r="2.8"/><circle cx="860.4" cy="132.0" r="2.8"/><circle cx="880.5" cy="132.0" r="2.8"/><circle cx="897.9" cy="132.5" r="2.8"/><circle cx="869.8" cy="134.4" r="2.8"/><circle cx="876.3" cy="135.0" r="2.8"/><circle cx="899.8" cy="134.4" r="2.8"/><circle cx="886.7" cy="137.2" r="2.8"/><circle cx="861.3" cy="138.5" r="2.8"/><circle cx="862.2" cy="141.0" r="2.8"/><circle cx="865.1" cy="141.4" r="2.8"/><circle cx="891.3" cy="140.0" r="2.8"/><circle cx="888.5" cy="141.9" r="2.8"/><circle cx="871.6" cy="142.9" r="2.8"/><circle cx="893.2" cy="143.2" r="2.8"/><circle cx="881.0" cy="142.9" r="2.8"/><circle cx="864.1" cy="144.2" r="2.8"/><circle cx="857.2" cy="145.1" r="2.8"/><circle cx="880.5" cy="145.1" r="2.8"/><circle cx="876.3" cy="146.2" r="2.8"/><circle cx="864.5" cy="147.6" r="2.8"/><circle cx="872.6" cy="147.9" r="2.8"/><circle cx="866.6" cy="150.7" r="2.8"/><circle cx="854.2" cy="151.3" r="2.8"/><circle cx="892.7" cy="152.2" r="2.8"/><circle cx="871.1" cy="153.2" r="2.8"/><circle cx="854.7" cy="155.1" r="2.8"/><circle cx="898.5" cy="154.5" r="2.8"/><circle cx="859.4" cy="156.0" r="2.8"/><circle cx="863.6" cy="157.3" r="2.8"/><circle cx="833.6" cy="102.8" r="2.8"/><circle cx="836.0" cy="88.2" r="2.8"/><circle cx="831.5" cy="96.1" r="2.8"/><circle cx="832.2" cy="148.9" r="2.8"/><circle cx="833.7" cy="100.6" r="2.8"/><circle cx="833.9" cy="82.9" r="2.8"/><circle cx="833.1" cy="154.4" r="2.8"/><circle cx="832.7" cy="123.7" r="2.8"/></g><rect class="f" x="825.5" y="69.5" width="79.0" height="100.0"/><text transform="translate(864.15,62.00) scale(0.985,1.060)" font-size="16.67" text-anchor="middle">Ant9-Ant1</text>
<g fill="#1f77b4"><circle cx="926.1" cy="83.3" r="2.8"/><circle cx="934.2" cy="87.5" r="2.8"/><circle cx="925.1" cy="87.5" r="2.8"/><circle cx="924.2" cy="90.3" r="2.8"/><circle cx="927.4" cy="92.2" r="2.8"/><circle cx="923.3" cy="94.4" r="2.8"/><circle cx="928.5" cy="95.0" r="2.8"/><circle cx="924.8" cy="98.7" r="2.8"/><circle cx="933.2" cy="104.0" r="2.8"/><circle cx="928.9" cy="106.2" r="2.8"/><circle cx="923.3" cy="108.1" r="2.8"/><circle cx="927.0" cy="109.1" r="2.8"/><circle cx="932.3" cy="109.6" r="2.8"/><circle cx="929.8" cy="111.9" r="2.8"/><circle cx="925.1" cy="113.2" r="2.8"/><circle cx="934.2" cy="113.8" r="2.8"/><circle cx="928.0" cy="115.6" r="2.8"/><circle cx="931.7" cy="117.5" r="2.8"/><circle cx="926.1" cy="118.4" r="2.8"/><circle cx="929.5" cy="120.0" r="2.8"/><circle cx="934.2" cy="119.4" r="2.8"/><circle cx="926.6" cy="122.2" r="2.8"/><circle cx="930.8" cy="123.1" r="2.8"/><circle cx="928.0" cy="125.6" r="2.8"/><circle cx="932.3" cy="126.9" r="2.8"/><circle cx="926.1" cy="128.4" r="2.8"/><circle cx="924.8" cy="131.6" r="2.8"/><circle cx="927.4" cy="135.9" r="2.8"/><circle cx="924.2" cy="137.2" r="2.8"/><circle cx="926.1" cy="140.0" r="2.8"/><circle cx="923.8" cy="143.4" r="2.8"/><circle cx="932.3" cy="142.3" r="2.8"/><circle cx="934.2" cy="142.9" r="2.8"/><circle cx="933.2" cy="145.7" r="2.8"/><circle cx="926.1" cy="149.4" r="2.8"/><circle cx="924.8" cy="151.9" r="2.8"/><circle cx="952.0" cy="82.4" r="2.8"/><circle cx="955.2" cy="81.8" r="2.8"/><circle cx="959.3" cy="81.8" r="2.8"/><circle cx="964.2" cy="82.4" r="2.8"/><circle cx="982.0" cy="86.5" r="2.8"/><circle cx="967.4" cy="85.2" r="2.8"/><circle cx="972.1" cy="85.6" r="2.8"/><circle cx="991.4" cy="88.4" r="2.8"/><circle cx="959.9" cy="88.4" r="2.8"/><circle cx="991.8" cy="90.7" r="2.8"/><circle cx="969.8" cy="91.6" r="2.8"/><circle cx="964.6" cy="94.0" r="2.8"/><circle cx="950.1" cy="96.3" r="2.8"/><circle cx="957.6" cy="98.7" r="2.8"/><circle cx="969.3" cy="97.8" r="2.8"/><circle cx="975.5" cy="98.2" r="2.8"/><circle cx="990.5" cy="97.4" r="2.8"/><circle cx="948.6" cy="99.7" r="2.8"/><circle cx="981.1" cy="100.2" r="2.8"/><circle cx="947.3" cy="102.1" r="2.8"/><circle cx="953.7" cy="103.1" r="2.8"/><circle cx="963.6" cy="105.3" r="2.8"/><circle cx="959.3" cy="107.2" r="2.8"/><circle cx="966.1" cy="105.3" r="2.8"/><circle cx="994.6" cy="108.5" r="2.8"/><circle cx="978.3" cy="110.9" r="2.8"/><circle cx="956.7" cy="113.2" r="2.8"/><circle cx="969.3" cy="114.3" r="2.8"/><circle cx="958.6" cy="114.3" r="2.8"/><circle cx="971.7" cy="115.6" r="2.8"/><circle cx="983.3" cy="116.2" r="2.8"/><circle cx="952.4" cy="120.0" r="2.8"/><circle cx="962.3" cy="120.0" r="2.8"/><circle cx="956.7" cy="121.3" r="2.8"/><circle cx="974.9" cy="124.5" r="2.8"/><circle cx="954.2" cy="126.3" r="2.8"/><circle cx="992.7" cy="126.0" r="2.8"/><circle cx="989.5" cy="127.3" r="2.8"/><circle cx="962.3" cy="129.3" r="2.8"/><circle cx="968.0" cy="128.8" r="2.8"/><circle cx="965.5" cy="130.1" r="2.8"/><circle cx="985.2" cy="134.4" r="2.8"/><circle cx="950.5" cy="135.9" r="2.8"/><circle cx="983.0" cy="136.7" r="2.8"/><circle cx="980.2" cy="137.6" r="2.8"/><circle cx="973.6" cy="140.0" r="2.8"/><circle cx="948.2" cy="141.0" r="2.8"/><circle cx="951.1" cy="141.5" r="2.8"/><circle cx="986.7" cy="141.0" r="2.8"/><circle cx="975.5" cy="142.3" r="2.8"/><circle cx="953.9" cy="145.1" r="2.8"/><circle cx="979.2" cy="144.2" r="2.8"/><circle cx="983.9" cy="144.7" r="2.8"/><circle cx="988.0" cy="144.7" r="2.8"/><circle cx="981.1" cy="146.6" r="2.8"/><circle cx="955.2" cy="147.9" r="2.8"/><circle cx="958.0" cy="149.4" r="2.8"/><circle cx="978.7" cy="149.8" r="2.8"/><circle cx="955.7" cy="150.7" r="2.8"/><circle cx="987.7" cy="151.7" r="2.8"/><circle cx="973.6" cy="154.5" r="2.8"/><circle cx="948.6" cy="156.0" r="2.8"/><circle cx="953.3" cy="156.9" r="2.8"/><circle cx="992.7" cy="156.4" r="2.8"/><circle cx="961.4" cy="158.4" r="2.8"/><circle cx="931.2" cy="120.3" r="2.8"/><circle cx="929.4" cy="109.1" r="2.8"/><circle cx="932.7" cy="106.8" r="2.8"/><circle cx="928.9" cy="118.0" r="2.8"/><circle cx="924.5" cy="134.4" r="2.8"/><circle cx="934.2" cy="116.6" r="2.8"/><circle cx="928.7" cy="122.8" r="2.8"/><circle cx="926.1" cy="107.2" r="2.8"/></g><rect class="f" x="919.5" y="69.5" width="79.0" height="100.0"/><text transform="translate(958.18,62.00) scale(0.985,1.060)" font-size="16.67" text-anchor="middle">Ant10-Ant1</text>
<g fill="#1f77b4"><circle cx="1021.8" cy="80.5" r="2.8"/><circle cx="1026.2" cy="81.8" r="2.8"/><circle cx="1020.0" cy="83.3" r="2.8"/><circle cx="1023.7" cy="86.5" r="2.8"/><circle cx="1028.0" cy="86.5" r="2.8"/><circle cx="1021.3" cy="91.2" r="2.8"/><circle cx="1024.7" cy="96.9" r="2.8"/><circle cx="1018.1" cy="99.1" r="2.8"/><circle cx="1027.5" cy="98.7" r="2.8"/><circle cx="1019.0" cy="101.6" r="2.8"/><circle cx="1017.5" cy="104.0" r="2.8"/><circle cx="1026.2" cy="104.4" r="2.8"/><circle cx="1028.0" cy="106.2" r="2.8"/><circle cx="1022.4" cy="108.5" r="2.8"/><circle cx="1018.1" cy="109.6" r="2.8"/><circle cx="1020.5" cy="117.5" r="2.8"/><circle cx="1022.4" cy="119.4" r="2.8"/><circle cx="1020.0" cy="122.2" r="2.8"/><circle cx="1021.8" cy="125.0" r="2.8"/><circle cx="1018.6" cy="129.7" r="2.8"/><circle cx="1028.0" cy="132.0" r="2.8"/><circle cx="1020.9" cy="139.7" r="2.8"/><circle cx="1018.1" cy="141.0" r="2.8"/><circle cx="1026.2" cy="141.5" r="2.8"/><circle cx="1021.8" cy="142.9" r="2.8"/><circle cx="1028.0" cy="144.4" r="2.8"/><circle cx="1017.5" cy="145.1" r="2.8"/><circle cx="1023.7" cy="146.1" r="2.8"/><circle cx="1020.0" cy="147.6" r="2.8"/><circle cx="1025.6" cy="148.5" r="2.8"/><circle cx="1018.1" cy="149.8" r="2.8"/><circle cx="1022.4" cy="150.7" r="2.8"/><circle cx="1027.5" cy="151.9" r="2.8"/><circle cx="1019.4" cy="152.6" r="2.8"/><circle cx="1024.3" cy="154.1" r="2.8"/><circle cx="1028.0" cy="154.7" r="2.8"/><circle cx="1020.0" cy="156.0" r="2.8"/><circle cx="1024.7" cy="156.6" r="2.8"/><circle cx="1017.1" cy="158.4" r="2.8"/><circle cx="1060.3" cy="80.5" r="2.8"/><circle cx="1072.5" cy="82.4" r="2.8"/><circle cx="1045.3" cy="83.3" r="2.8"/><circle cx="1048.1" cy="84.3" r="2.8"/><circle cx="1059.4" cy="83.7" r="2.8"/><circle cx="1054.7" cy="87.1" r="2.8"/><circle cx="1050.0" cy="88.4" r="2.8"/><circle cx="1058.5" cy="88.4" r="2.8"/><circle cx="1064.1" cy="89.0" r="2.8"/><circle cx="1087.6" cy="89.0" r="2.8"/><circle cx="1053.8" cy="91.2" r="2.8"/><circle cx="1057.5" cy="92.2" r="2.8"/><circle cx="1041.6" cy="93.1" r="2.8"/><circle cx="1083.4" cy="93.1" r="2.8"/><circle cx="1056.2" cy="95.0" r="2.8"/><circle cx="1044.4" cy="97.2" r="2.8"/><circle cx="1048.1" cy="98.2" r="2.8"/><circle cx="1052.8" cy="99.7" r="2.8"/><circle cx="1056.2" cy="98.7" r="2.8"/><circle cx="1072.2" cy="98.4" r="2.8"/><circle cx="1068.8" cy="100.2" r="2.8"/><circle cx="1071.6" cy="101.6" r="2.8"/><circle cx="1080.0" cy="102.5" r="2.8"/><circle cx="1084.4" cy="103.4" r="2.8"/><circle cx="1045.3" cy="104.0" r="2.8"/><circle cx="1056.2" cy="105.3" r="2.8"/><circle cx="1051.5" cy="107.6" r="2.8"/><circle cx="1060.0" cy="107.2" r="2.8"/><circle cx="1056.6" cy="108.7" r="2.8"/><circle cx="1062.8" cy="107.2" r="2.8"/><circle cx="1078.2" cy="109.1" r="2.8"/><circle cx="1062.2" cy="112.4" r="2.8"/><circle cx="1045.3" cy="113.4" r="2.8"/><circle cx="1069.3" cy="113.4" r="2.8"/><circle cx="1084.7" cy="114.7" r="2.8"/><circle cx="1089.1" cy="116.2" r="2.8"/><circle cx="1047.8" cy="119.8" r="2.8"/><circle cx="1088.1" cy="119.8" r="2.8"/><circle cx="1046.2" cy="124.1" r="2.8"/><circle cx="1067.8" cy="123.7" r="2.8"/><circle cx="1065.0" cy="125.6" r="2.8"/><circle cx="1080.0" cy="124.6" r="2.8"/><circle cx="1076.3" cy="126.5" r="2.8"/><circle cx="1085.1" cy="126.5" r="2.8"/><circle cx="1042.5" cy="128.4" r="2.8"/><circle cx="1046.8" cy="129.7" r="2.8"/><circle cx="1063.7" cy="130.1" r="2.8"/><circle cx="1069.3" cy="130.1" r="2.8"/><circle cx="1053.8" cy="131.0" r="2.8"/><circle cx="1051.9" cy="134.0" r="2.8"/><circle cx="1081.9" cy="134.0" r="2.8"/><circle cx="1043.4" cy="136.3" r="2.8"/><circle cx="1065.6" cy="136.3" r="2.8"/><circle cx="1077.8" cy="136.3" r="2.8"/><circle cx="1075.4" cy="140.0" r="2.8"/><circle cx="1052.4" cy="141.0" r="2.8"/><circle cx="1044.4" cy="144.4" r="2.8"/><circle cx="1081.0" cy="143.4" r="2.8"/><circle cx="1086.2" cy="144.7" r="2.8"/><circle cx="1065.0" cy="147.9" r="2.8"/><circle cx="1075.0" cy="149.8" r="2.8"/><circle cx="1043.4" cy="150.4" r="2.8"/><circle cx="1066.9" cy="151.9" r="2.8"/><circle cx="1062.2" cy="152.2" r="2.8"/><circle cx="1049.1" cy="153.2" r="2.8"/><circle cx="1073.1" cy="152.8" r="2.8"/><circle cx="1042.5" cy="153.2" r="2.8"/><circle cx="1078.2" cy="154.7" r="2.8"/><circle cx="1042.1" cy="156.0" r="2.8"/><circle cx="1058.5" cy="157.3" r="2.8"/><circle cx="1022.8" cy="148.0" r="2.8"/><circle cx="1020.2" cy="127.4" r="2.8"/><circle cx="1017.8" cy="106.8" r="2.8"/><circle cx="1022.1" cy="122.2" r="2.8"/><circle cx="1026.8" cy="101.6" r="2.8"/><circle cx="1024.9" cy="151.3" r="2.8"/><circle cx="1021.2" cy="153.4" r="2.8"/><circle cx="1023.5" cy="140.6" r="2.8"/></g><rect class="f" x="1013.5" y="69.5" width="79.0" height="100.0"/><text transform="translate(1052.22,62.00) scale(0.985,1.060)" font-size="16.67" text-anchor="middle">Ant11-Ant1</text>
<g fill="#1f77b4"><circle cx="1114.2" cy="82.4" r="2.8"/><circle cx="1115.1" cy="84.7" r="2.8"/><circle cx="1117.4" cy="88.0" r="2.8"/><circle cx="1118.5" cy="91.2" r="2.8"/><circle cx="1113.6" cy="94.0" r="2.8"/><circle cx="1120.8" cy="93.1" r="2.8"/><circle cx="1122.3" cy="95.5" r="2.8"/><circle cx="1114.2" cy="97.4" r="2.8"/><circle cx="1118.9" cy="97.8" r="2.8"/><circle cx="1112.3" cy="101.2" r="2.8"/><circle cx="1116.1" cy="101.6" r="2.8"/><circle cx="1120.8" cy="101.6" r="2.8"/><circle cx="1123.6" cy="102.5" r="2.8"/><circle cx="1114.2" cy="104.4" r="2.8"/><circle cx="1118.5" cy="105.3" r="2.8"/><circle cx="1115.1" cy="108.1" r="2.8"/><circle cx="1120.4" cy="108.7" r="2.8"/><circle cx="1117.0" cy="110.9" r="2.8"/><circle cx="1121.7" cy="113.8" r="2.8"/><circle cx="1118.9" cy="114.3" r="2.8"/><circle cx="1111.4" cy="117.1" r="2.8"/><circle cx="1116.1" cy="116.6" r="2.8"/><circle cx="1120.8" cy="117.5" r="2.8"/><circle cx="1116.6" cy="119.4" r="2.8"/><circle cx="1120.8" cy="122.2" r="2.8"/><circle cx="1111.4" cy="123.7" r="2.8"/><circle cx="1113.3" cy="125.6" r="2.8"/><circle cx="1113.6" cy="130.1" r="2.8"/><circle cx="1121.7" cy="130.1" r="2.8"/><circle cx="1118.5" cy="132.2" r="2.8"/><circle cx="1117.0" cy="135.0" r="2.8"/><circle cx="1112.3" cy="141.5" r="2.8"/><circle cx="1115.5" cy="143.8" r="2.8"/><circle cx="1112.3" cy="146.1" r="2.8"/><circle cx="1115.1" cy="146.6" r="2.8"/><circle cx="1111.4" cy="147.6" r="2.8"/><circle cx="1115.5" cy="150.0" r="2.8"/><circle cx="1112.3" cy="151.9" r="2.8"/><circle cx="1116.1" cy="156.0" r="2.8"/><circle cx="1116.6" cy="157.9" r="2.8"/><circle cx="1146.1" cy="80.5" r="2.8"/><circle cx="1175.2" cy="81.5" r="2.8"/><circle cx="1180.5" cy="84.3" r="2.8"/><circle cx="1166.4" cy="84.3" r="2.8"/><circle cx="1147.6" cy="87.5" r="2.8"/><circle cx="1162.1" cy="86.9" r="2.8"/><circle cx="1151.8" cy="89.7" r="2.8"/><circle cx="1167.7" cy="89.0" r="2.8"/><circle cx="1140.5" cy="91.6" r="2.8"/><circle cx="1154.6" cy="92.2" r="2.8"/><circle cx="1159.8" cy="92.2" r="2.8"/><circle cx="1165.8" cy="92.2" r="2.8"/><circle cx="1181.4" cy="92.5" r="2.8"/><circle cx="1157.0" cy="95.0" r="2.8"/><circle cx="1173.3" cy="94.4" r="2.8"/><circle cx="1142.0" cy="96.3" r="2.8"/><circle cx="1172.4" cy="99.1" r="2.8"/><circle cx="1177.1" cy="99.1" r="2.8"/><circle cx="1147.6" cy="104.0" r="2.8"/><circle cx="1152.7" cy="103.1" r="2.8"/><circle cx="1157.4" cy="103.4" r="2.8"/><circle cx="1171.1" cy="104.4" r="2.8"/><circle cx="1142.4" cy="106.2" r="2.8"/><circle cx="1135.8" cy="109.6" r="2.8"/><circle cx="1176.2" cy="110.0" r="2.8"/><circle cx="1139.6" cy="110.9" r="2.8"/><circle cx="1170.5" cy="110.9" r="2.8"/><circle cx="1150.4" cy="113.2" r="2.8"/><circle cx="1152.7" cy="114.3" r="2.8"/><circle cx="1174.3" cy="115.1" r="2.8"/><circle cx="1136.4" cy="118.4" r="2.8"/><circle cx="1143.3" cy="120.0" r="2.8"/><circle cx="1154.2" cy="119.4" r="2.8"/><circle cx="1149.9" cy="122.2" r="2.8"/><circle cx="1156.4" cy="121.3" r="2.8"/><circle cx="1179.4" cy="122.2" r="2.8"/><circle cx="1135.4" cy="124.5" r="2.8"/><circle cx="1159.8" cy="125.0" r="2.8"/><circle cx="1164.9" cy="126.0" r="2.8"/><circle cx="1169.2" cy="125.4" r="2.8"/><circle cx="1172.4" cy="124.5" r="2.8"/><circle cx="1136.7" cy="128.8" r="2.8"/><circle cx="1182.4" cy="130.1" r="2.8"/><circle cx="1143.3" cy="131.0" r="2.8"/><circle cx="1145.6" cy="132.0" r="2.8"/><circle cx="1166.4" cy="134.4" r="2.8"/><circle cx="1146.1" cy="135.9" r="2.8"/><circle cx="1163.6" cy="136.3" r="2.8"/><circle cx="1175.2" cy="136.3" r="2.8"/><circle cx="1155.1" cy="138.5" r="2.8"/><circle cx="1141.4" cy="139.7" r="2.8"/><circle cx="1178.0" cy="139.7" r="2.8"/><circle cx="1168.1" cy="140.4" r="2.8"/><circle cx="1138.6" cy="141.5" r="2.8"/><circle cx="1181.4" cy="142.5" r="2.8"/><circle cx="1138.6" cy="144.7" r="2.8"/><circle cx="1144.2" cy="143.8" r="2.8"/><circle cx="1158.3" cy="145.3" r="2.8"/><circle cx="1139.6" cy="147.6" r="2.8"/><circle cx="1147.6" cy="148.5" r="2.8"/><circle cx="1150.4" cy="148.5" r="2.8"/><circle cx="1178.0" cy="147.2" r="2.8"/><circle cx="1159.3" cy="149.4" r="2.8"/><circle cx="1144.2" cy="152.2" r="2.8"/><circle cx="1162.1" cy="154.1" r="2.8"/><circle cx="1140.5" cy="155.4" r="2.8"/><circle cx="1162.1" cy="158.4" r="2.8"/><circle cx="1116.6" cy="113.8" r="2.8"/><circle cx="1114.0" cy="118.3" r="2.8"/><circle cx="1120.4" cy="93.4" r="2.8"/><circle cx="1116.1" cy="92.6" r="2.8"/><circle cx="1121.1" cy="103.9" r="2.8"/><circle cx="1113.7" cy="144.1" r="2.8"/><circle cx="1113.5" cy="145.7" r="2.8"/><circle cx="1114.2" cy="153.9" r="2.8"/></g><rect class="f" x="1107.5" y="69.5" width="79.0" height="100.0"/><text transform="translate(1146.26,62.00) scale(0.985,1.060)" font-size="16.67" text-anchor="middle">Ant12-Ant1</text>
<g fill="#1f77b4"><circle cx="1208.6" cy="80.5" r="2.8"/><circle cx="1212.8" cy="80.5" r="2.8"/><circle cx="1210.5" cy="83.3" r="2.8"/><circle cx="1213.7" cy="84.3" r="2.8"/><circle cx="1207.1" cy="87.5" r="2.8"/><circle cx="1210.9" cy="88.0" r="2.8"/><circle cx="1206.2" cy="90.7" r="2.8"/><circle cx="1210.0" cy="92.2" r="2.8"/><circle cx="1216.2" cy="92.5" r="2.8"/><circle cx="1212.8" cy="92.7" r="2.8"/><circle cx="1215.2" cy="98.4" r="2.8"/><circle cx="1205.3" cy="99.1" r="2.8"/><circle cx="1209.6" cy="102.5" r="2.8"/><circle cx="1205.3" cy="102.1" r="2.8"/><circle cx="1210.0" cy="110.0" r="2.8"/><circle cx="1210.9" cy="112.4" r="2.8"/><circle cx="1208.6" cy="114.7" r="2.8"/><circle cx="1209.4" cy="117.9" r="2.8"/><circle cx="1207.5" cy="119.4" r="2.8"/><circle cx="1206.2" cy="123.5" r="2.8"/><circle cx="1207.1" cy="132.5" r="2.8"/><circle cx="1210.5" cy="133.5" r="2.8"/><circle cx="1206.8" cy="136.3" r="2.8"/><circle cx="1214.3" cy="136.9" r="2.8"/><circle cx="1209.0" cy="138.2" r="2.8"/><circle cx="1211.8" cy="140.0" r="2.8"/><circle cx="1216.2" cy="141.0" r="2.8"/><circle cx="1208.1" cy="141.9" r="2.8"/><circle cx="1212.8" cy="142.9" r="2.8"/><circle cx="1210.0" cy="144.7" r="2.8"/><circle cx="1206.2" cy="146.1" r="2.8"/><circle cx="1214.7" cy="146.1" r="2.8"/><circle cx="1210.9" cy="147.9" r="2.8"/><circle cx="1216.5" cy="149.1" r="2.8"/><circle cx="1208.6" cy="150.0" r="2.8"/><circle cx="1212.8" cy="150.9" r="2.8"/><circle cx="1216.2" cy="153.2" r="2.8"/><circle cx="1207.1" cy="154.7" r="2.8"/><circle cx="1211.8" cy="155.1" r="2.8"/><circle cx="1214.7" cy="156.4" r="2.8"/><circle cx="1210.0" cy="156.0" r="2.8"/><circle cx="1245.6" cy="80.5" r="2.8"/><circle cx="1241.3" cy="82.4" r="2.8"/><circle cx="1260.3" cy="82.4" r="2.8"/><circle cx="1269.7" cy="81.5" r="2.8"/><circle cx="1254.6" cy="83.3" r="2.8"/><circle cx="1269.7" cy="86.2" r="2.8"/><circle cx="1233.1" cy="87.5" r="2.8"/><circle cx="1256.5" cy="87.5" r="2.8"/><circle cx="1275.7" cy="87.5" r="2.8"/><circle cx="1238.1" cy="89.3" r="2.8"/><circle cx="1234.9" cy="91.6" r="2.8"/><circle cx="1257.5" cy="91.6" r="2.8"/><circle cx="1265.3" cy="91.6" r="2.8"/><circle cx="1242.4" cy="93.5" r="2.8"/><circle cx="1247.1" cy="94.0" r="2.8"/><circle cx="1273.4" cy="94.0" r="2.8"/><circle cx="1240.6" cy="96.9" r="2.8"/><circle cx="1252.2" cy="97.8" r="2.8"/><circle cx="1263.5" cy="97.4" r="2.8"/><circle cx="1259.3" cy="99.7" r="2.8"/><circle cx="1266.9" cy="99.1" r="2.8"/><circle cx="1231.2" cy="102.5" r="2.8"/><circle cx="1240.6" cy="103.4" r="2.8"/><circle cx="1267.2" cy="102.5" r="2.8"/><circle cx="1237.7" cy="105.3" r="2.8"/><circle cx="1258.4" cy="105.3" r="2.8"/><circle cx="1253.1" cy="107.6" r="2.8"/><circle cx="1264.0" cy="107.6" r="2.8"/><circle cx="1275.7" cy="107.6" r="2.8"/><circle cx="1236.8" cy="108.5" r="2.8"/><circle cx="1229.7" cy="109.6" r="2.8"/><circle cx="1233.1" cy="109.6" r="2.8"/><circle cx="1230.6" cy="111.5" r="2.8"/><circle cx="1243.4" cy="114.3" r="2.8"/><circle cx="1268.7" cy="116.2" r="2.8"/><circle cx="1244.3" cy="118.4" r="2.8"/><circle cx="1229.7" cy="119.0" r="2.8"/><circle cx="1233.4" cy="118.4" r="2.8"/><circle cx="1269.7" cy="118.4" r="2.8"/><circle cx="1237.2" cy="120.3" r="2.8"/><circle cx="1266.9" cy="120.3" r="2.8"/><circle cx="1250.0" cy="122.2" r="2.8"/><circle cx="1235.9" cy="123.7" r="2.8"/><circle cx="1260.3" cy="124.5" r="2.8"/><circle cx="1250.0" cy="126.0" r="2.8"/><circle cx="1250.3" cy="128.4" r="2.8"/><circle cx="1274.4" cy="128.4" r="2.8"/><circle cx="1231.2" cy="129.3" r="2.8"/><circle cx="1252.2" cy="129.3" r="2.8"/><circle cx="1247.1" cy="132.0" r="2.8"/><circle cx="1231.6" cy="135.0" r="2.8"/><circle cx="1248.1" cy="134.8" r="2.8"/><circle cx="1241.9" cy="136.3" r="2.8"/><circle cx="1276.6" cy="137.2" r="2.8"/><circle cx="1244.7" cy="138.5" r="2.8"/><circle cx="1234.0" cy="139.1" r="2.8"/><circle cx="1238.1" cy="140.0" r="2.8"/><circle cx="1246.6" cy="139.7" r="2.8"/><circle cx="1263.5" cy="138.5" r="2.8"/><circle cx="1263.5" cy="141.0" r="2.8"/><circle cx="1256.9" cy="141.9" r="2.8"/><circle cx="1240.0" cy="143.4" r="2.8"/><circle cx="1272.5" cy="144.4" r="2.8"/><circle cx="1256.0" cy="144.7" r="2.8"/><circle cx="1253.7" cy="147.6" r="2.8"/><circle cx="1261.2" cy="148.5" r="2.8"/><circle cx="1245.6" cy="150.4" r="2.8"/><circle cx="1250.3" cy="150.4" r="2.8"/><circle cx="1234.4" cy="150.7" r="2.8"/><circle cx="1234.4" cy="153.2" r="2.8"/><circle cx="1251.3" cy="154.7" r="2.8"/><circle cx="1271.0" cy="157.9" r="2.8"/><circle cx="1272.5" cy="158.4" r="2.8"/><circle cx="1213.7" cy="148.5" r="2.8"/><circle cx="1210.1" cy="115.2" r="2.8"/><circle cx="1213.7" cy="153.7" r="2.8"/><circle cx="1207.4" cy="139.1" r="2.8"/><circle cx="1211.4" cy="153.5" r="2.8"/><circle cx="1215.7" cy="95.4" r="2.8"/><circle cx="1207.4" cy="100.8" r="2.8"/><circle cx="1208.6" cy="89.8" r="2.8"/></g><rect class="f" x="1201.5" y="69.5" width="79.0" height="100.0"/><text transform="translate(1240.29,62.00) scale(0.985,1.060)" font-size="16.67" text-anchor="middle">Ant13-Ant1</text>
<rect class="f" x="1295.5" y="69.5" width="79.0" height="100.0"/><text transform="translate(1334.33,62.00) scale(0.985,1.060)" font-size="16.67" text-anchor="middle">Ant14-Ant1</text>
<rect class="f" x="1389.5" y="69.5" width="79.0" height="100.0"/><text transform="translate(1428.36,62.00) scale(0.985,1.060)" font-size="16.67" text-anchor="middle">Ant15-Ant1</text>
<g fill="#1f77b4"><circle cx="76.4" cy="201.5" r="2.8"/><circle cx="87.3" cy="201.5" r="2.8"/><circle cx="80.2" cy="203.8" r="2.8"/><circle cx="84.0" cy="204.3" r="2.8"/><circle cx="82.1" cy="206.2" r="2.8"/><circle cx="88.3" cy="207.5" r="2.8"/><circle cx="85.8" cy="209.4" r="2.8"/><circle cx="77.4" cy="213.5" r="2.8"/><circle cx="84.0" cy="213.2" r="2.8"/><circle cx="82.1" cy="215.0" r="2.8"/><circle cx="84.5" cy="216.5" r="2.8"/><circle cx="78.3" cy="220.3" r="2.8"/><circle cx="80.2" cy="221.6" r="2.8"/><circle cx="88.3" cy="224.4" r="2.8"/><circle cx="81.1" cy="225.4" r="2.8"/><circle cx="83.0" cy="228.2" r="2.8"/><circle cx="85.8" cy="229.1" r="2.8"/><circle cx="87.3" cy="231.0" r="2.8"/><circle cx="80.2" cy="232.9" r="2.8"/><circle cx="82.1" cy="234.4" r="2.8"/><circle cx="77.4" cy="237.2" r="2.8"/><circle cx="79.3" cy="240.4" r="2.8"/><circle cx="84.5" cy="242.3" r="2.8"/><circle cx="86.4" cy="245.5" r="2.8"/><circle cx="83.0" cy="248.8" r="2.8"/><circle cx="77.4" cy="250.7" r="2.8"/><circle cx="88.3" cy="251.1" r="2.8"/><circle cx="78.9" cy="253.0" r="2.8"/><circle cx="85.8" cy="252.6" r="2.8"/><circle cx="82.1" cy="256.0" r="2.8"/><circle cx="84.9" cy="256.0" r="2.8"/><circle cx="80.2" cy="258.2" r="2.8"/><circle cx="79.3" cy="260.7" r="2.8"/><circle cx="81.5" cy="262.5" r="2.8"/><circle cx="84.0" cy="264.8" r="2.8"/><circle cx="87.3" cy="266.1" r="2.8"/><circle cx="77.4" cy="267.6" r="2.8"/><circle cx="83.0" cy="268.6" r="2.8"/><circle cx="79.3" cy="271.7" r="2.8"/><circle cx="86.4" cy="274.2" r="2.8"/><circle cx="84.9" cy="276.6" r="2.8"/><circle cx="80.8" cy="278.3" r="2.8"/><circle cx="117.4" cy="200.0" r="2.8"/><circle cx="135.2" cy="202.5" r="2.8"/><circle cx="139.3" cy="202.5" r="2.8"/><circle cx="100.3" cy="204.3" r="2.8"/><circle cx="108.4" cy="205.3" r="2.8"/><circle cx="113.1" cy="205.3" r="2.8"/><circle cx="119.1" cy="206.2" r="2.8"/><circle cx="122.1" cy="206.6" r="2.8"/><circle cx="148.4" cy="206.2" r="2.8"/><circle cx="104.6" cy="210.0" r="2.8"/><circle cx="110.8" cy="210.0" r="2.8"/><circle cx="138.4" cy="211.3" r="2.8"/><circle cx="102.4" cy="213.5" r="2.8"/><circle cx="107.4" cy="214.1" r="2.8"/><circle cx="112.1" cy="214.5" r="2.8"/><circle cx="115.9" cy="216.0" r="2.8"/><circle cx="128.1" cy="216.0" r="2.8"/><circle cx="146.5" cy="216.4" r="2.8"/><circle cx="137.1" cy="216.4" r="2.8"/><circle cx="124.3" cy="219.2" r="2.8"/><circle cx="114.9" cy="219.7" r="2.8"/><circle cx="106.5" cy="222.6" r="2.8"/><circle cx="115.3" cy="223.5" r="2.8"/><circle cx="130.5" cy="226.3" r="2.8"/><circle cx="141.2" cy="228.6" r="2.8"/><circle cx="119.6" cy="231.9" r="2.8"/><circle cx="109.3" cy="235.1" r="2.8"/><circle cx="118.3" cy="234.8" r="2.8"/><circle cx="127.1" cy="235.1" r="2.8"/><circle cx="129.0" cy="238.1" r="2.8"/><circle cx="104.6" cy="238.9" r="2.8"/><circle cx="102.4" cy="239.8" r="2.8"/><circle cx="120.6" cy="239.4" r="2.8"/><circle cx="143.5" cy="238.5" r="2.8"/><circle cx="133.7" cy="240.8" r="2.8"/><circle cx="111.6" cy="242.3" r="2.8"/><circle cx="132.4" cy="244.1" r="2.8"/><circle cx="116.4" cy="246.0" r="2.8"/><circle cx="123.4" cy="247.0" r="2.8"/><circle cx="131.5" cy="247.0" r="2.8"/><circle cx="106.5" cy="248.8" r="2.8"/><circle cx="123.4" cy="249.8" r="2.8"/><circle cx="139.3" cy="252.0" r="2.8"/><circle cx="103.7" cy="252.6" r="2.8"/><circle cx="113.1" cy="253.0" r="2.8"/><circle cx="147.4" cy="253.5" r="2.8"/><circle cx="101.4" cy="254.5" r="2.8"/><circle cx="142.2" cy="255.4" r="2.8"/><circle cx="144.0" cy="255.8" r="2.8"/><circle cx="105.6" cy="259.5" r="2.8"/><circle cx="112.5" cy="259.5" r="2.8"/><circle cx="117.4" cy="260.7" r="2.8"/><circle cx="136.0" cy="261.4" r="2.8"/><circle cx="133.7" cy="263.9" r="2.8"/><circle cx="133.3" cy="266.3" r="2.8"/><circle cx="114.6" cy="266.3" r="2.8"/><circle cx="105.2" cy="267.2" r="2.8"/><circle cx="124.3" cy="268.2" r="2.8"/><circle cx="122.4" cy="271.4" r="2.8"/><circle cx="145.4" cy="271.4" r="2.8"/><circle cx="105.6" cy="273.2" r="2.8"/><circle cx="109.7" cy="272.9" r="2.8"/><circle cx="128.5" cy="272.7" r="2.8"/><circle cx="142.2" cy="272.9" r="2.8"/><circle cx="107.4" cy="275.7" r="2.8"/><circle cx="111.6" cy="275.7" r="2.8"/><circle cx="120.2" cy="277.4" r="2.8"/><circle cx="125.3" cy="277.4" r="2.8"/><circle cx="101.4" cy="278.3" r="2.8"/><circle cx="142.2" cy="278.3" r="2.8"/><circle cx="136.5" cy="279.4" r="2.8"/><circle cx="145.4" cy="279.4" r="2.8"/><circle cx="109.3" cy="279.4" r="2.8"/><circle cx="80.2" cy="268.1" r="2.8"/><circle cx="85.6" cy="250.0" r="2.8"/><circle cx="79.7" cy="222.8" r="2.8"/><circle cx="81.9" cy="241.3" r="2.8"/><circle cx="81.0" cy="250.9" r="2.8"/><circle cx="79.7" cy="235.8" r="2.8"/><circle cx="80.7" cy="258.3" r="2.8"/><circle cx="81.6" cy="230.5" r="2.8"/></g><rect class="f" x="73.5" y="190.5" width="78.0" height="100.0"/><line x1="68.5" y1="208.5" x2="73.5" y2="208.5"/><text transform="translate(63.30,214.00) scale(1.000,1.000)" font-size="13.89" text-anchor="end">2.5</text><line x1="68.5" y1="240.5" x2="73.5" y2="240.5"/><text transform="translate(63.30,246.00) scale(1.000,1.000)" font-size="13.89" text-anchor="end">0.0</text><line x1="68.5" y1="271.5" x2="73.5" y2="271.5"/><text transform="translate(63.30,277.00) scale(1.000,1.000)" font-size="13.89" text-anchor="end">−2.5</text><text transform="translate(20.00,242.00) rotate(-90) scale(1.000,1.000)" font-size="13.89" text-anchor="middle">YY Phase</text>
<rect class="f" x="167.5" y="190.5" width="78.0" height="100.0"/>
<g fill="#1f77b4"><circle cx="264.2" cy="206.2" r="2.8"/><circle cx="268.9" cy="208.5" r="2.8"/><circle cx="276.4" cy="209.4" r="2.8"/><circle cx="265.1" cy="211.3" r="2.8"/><circle cx="269.8" cy="212.2" r="2.8"/><circle cx="273.6" cy="212.8" r="2.8"/><circle cx="266.1" cy="215.0" r="2.8"/><circle cx="270.8" cy="215.4" r="2.8"/><circle cx="267.0" cy="218.8" r="2.8"/><circle cx="269.8" cy="219.7" r="2.8"/><circle cx="265.1" cy="221.6" r="2.8"/><circle cx="270.4" cy="223.5" r="2.8"/><circle cx="267.0" cy="225.4" r="2.8"/><circle cx="267.4" cy="230.1" r="2.8"/><circle cx="272.3" cy="231.0" r="2.8"/><circle cx="267.0" cy="233.8" r="2.8"/><circle cx="270.4" cy="235.3" r="2.8"/><circle cx="265.1" cy="237.6" r="2.8"/><circle cx="268.0" cy="238.5" r="2.8"/><circle cx="274.5" cy="239.4" r="2.8"/><circle cx="271.7" cy="241.3" r="2.8"/><circle cx="267.4" cy="243.6" r="2.8"/><circle cx="275.5" cy="244.1" r="2.8"/><circle cx="270.8" cy="246.0" r="2.8"/><circle cx="274.5" cy="247.9" r="2.8"/><circle cx="265.5" cy="249.4" r="2.8"/><circle cx="276.4" cy="250.2" r="2.8"/><circle cx="271.7" cy="251.7" r="2.8"/><circle cx="273.6" cy="253.5" r="2.8"/><circle cx="268.0" cy="254.5" r="2.8"/><circle cx="266.6" cy="258.8" r="2.8"/><circle cx="275.5" cy="258.2" r="2.8"/><circle cx="268.0" cy="262.4" r="2.8"/><circle cx="270.8" cy="263.5" r="2.8"/><circle cx="267.0" cy="267.1" r="2.8"/><circle cx="269.8" cy="267.6" r="2.8"/><circle cx="269.3" cy="271.0" r="2.8"/><circle cx="269.3" cy="277.4" r="2.8"/><circle cx="274.5" cy="278.3" r="2.8"/><circle cx="307.4" cy="203.4" r="2.8"/><circle cx="310.2" cy="204.3" r="2.8"/><circle cx="330.5" cy="203.4" r="2.8"/><circle cx="331.4" cy="207.2" r="2.8"/><circle cx="289.6" cy="207.5" r="2.8"/><circle cx="318.3" cy="206.6" r="2.8"/><circle cx="292.9" cy="208.8" r="2.8"/><circle cx="306.5" cy="208.5" r="2.8"/><circle cx="312.1" cy="209.4" r="2.8"/><circle cx="323.0" cy="210.3" r="2.8"/><circle cx="314.5" cy="211.3" r="2.8"/><circle cx="292.4" cy="212.2" r="2.8"/><circle cx="299.5" cy="213.5" r="2.8"/><circle cx="334.2" cy="212.6" r="2.8"/><circle cx="317.3" cy="213.5" r="2.8"/><circle cx="290.5" cy="215.4" r="2.8"/><circle cx="327.7" cy="216.9" r="2.8"/><circle cx="300.4" cy="216.9" r="2.8"/><circle cx="324.9" cy="218.8" r="2.8"/><circle cx="291.1" cy="219.2" r="2.8"/><circle cx="296.1" cy="219.2" r="2.8"/><circle cx="301.8" cy="219.7" r="2.8"/><circle cx="308.0" cy="219.7" r="2.8"/><circle cx="303.6" cy="222.6" r="2.8"/><circle cx="295.8" cy="223.5" r="2.8"/><circle cx="296.7" cy="226.7" r="2.8"/><circle cx="316.4" cy="229.5" r="2.8"/><circle cx="308.3" cy="231.0" r="2.8"/><circle cx="295.2" cy="233.4" r="2.8"/><circle cx="314.5" cy="234.2" r="2.8"/><circle cx="325.2" cy="234.2" r="2.8"/><circle cx="328.6" cy="235.3" r="2.8"/><circle cx="304.2" cy="235.7" r="2.8"/><circle cx="333.3" cy="236.6" r="2.8"/><circle cx="298.6" cy="237.6" r="2.8"/><circle cx="331.4" cy="238.9" r="2.8"/><circle cx="305.5" cy="239.4" r="2.8"/><circle cx="293.3" cy="240.4" r="2.8"/><circle cx="311.1" cy="240.8" r="2.8"/><circle cx="318.7" cy="240.4" r="2.8"/><circle cx="321.8" cy="240.4" r="2.8"/><circle cx="335.6" cy="240.8" r="2.8"/><circle cx="333.7" cy="241.3" r="2.8"/><circle cx="289.6" cy="247.0" r="2.8"/><circle cx="336.5" cy="247.5" r="2.8"/><circle cx="293.3" cy="249.4" r="2.8"/><circle cx="297.1" cy="250.7" r="2.8"/><circle cx="312.6" cy="253.0" r="2.8"/><circle cx="298.6" cy="254.5" r="2.8"/><circle cx="332.4" cy="254.5" r="2.8"/><circle cx="288.6" cy="255.4" r="2.8"/><circle cx="310.2" cy="256.0" r="2.8"/><circle cx="305.5" cy="257.3" r="2.8"/><circle cx="322.4" cy="260.7" r="2.8"/><circle cx="329.5" cy="261.0" r="2.8"/><circle cx="328.0" cy="263.3" r="2.8"/><circle cx="291.4" cy="265.4" r="2.8"/><circle cx="294.2" cy="265.7" r="2.8"/><circle cx="302.7" cy="265.7" r="2.8"/><circle cx="306.5" cy="265.7" r="2.8"/><circle cx="324.9" cy="266.3" r="2.8"/><circle cx="320.5" cy="266.7" r="2.8"/><circle cx="296.7" cy="268.6" r="2.8"/><circle cx="313.6" cy="271.4" r="2.8"/><circle cx="300.4" cy="272.3" r="2.8"/><circle cx="315.8" cy="272.9" r="2.8"/><circle cx="319.6" cy="273.2" r="2.8"/><circle cx="321.5" cy="274.2" r="2.8"/><circle cx="302.7" cy="275.7" r="2.8"/><circle cx="302.3" cy="278.3" r="2.8"/><circle cx="270.8" cy="254.0" r="2.8"/><circle cx="274.1" cy="250.7" r="2.8"/><circle cx="271.2" cy="248.8" r="2.8"/><circle cx="267.8" cy="236.4" r="2.8"/><circle cx="266.7" cy="251.9" r="2.8"/><circle cx="268.7" cy="221.1" r="2.8"/><circle cx="267.8" cy="222.6" r="2.8"/><circle cx="268.9" cy="265.0" r="2.8"/></g><rect class="f" x="261.5" y="190.5" width="78.0" height="100.0"/>
<g fill="#1f77b4"><circle cx="364.6" cy="202.5" r="2.8"/><circle cx="368.4" cy="207.5" r="2.8"/><circle cx="360.3" cy="209.0" r="2.8"/><circle cx="363.1" cy="211.3" r="2.8"/><circle cx="366.0" cy="214.1" r="2.8"/><circle cx="368.8" cy="216.0" r="2.8"/><circle cx="364.6" cy="217.9" r="2.8"/><circle cx="369.7" cy="220.3" r="2.8"/><circle cx="366.9" cy="222.2" r="2.8"/><circle cx="364.1" cy="223.5" r="2.8"/><circle cx="370.3" cy="225.4" r="2.8"/><circle cx="367.8" cy="226.3" r="2.8"/><circle cx="362.2" cy="227.2" r="2.8"/><circle cx="358.4" cy="229.1" r="2.8"/><circle cx="365.0" cy="229.5" r="2.8"/><circle cx="361.3" cy="231.0" r="2.8"/><circle cx="368.8" cy="231.0" r="2.8"/><circle cx="370.3" cy="232.9" r="2.8"/><circle cx="359.4" cy="233.8" r="2.8"/><circle cx="364.1" cy="234.2" r="2.8"/><circle cx="361.3" cy="236.6" r="2.8"/><circle cx="363.1" cy="237.6" r="2.8"/><circle cx="363.1" cy="246.0" r="2.8"/><circle cx="360.3" cy="248.8" r="2.8"/><circle cx="364.1" cy="248.8" r="2.8"/><circle cx="362.2" cy="255.4" r="2.8"/><circle cx="360.3" cy="257.3" r="2.8"/><circle cx="370.3" cy="258.2" r="2.8"/><circle cx="361.3" cy="259.5" r="2.8"/><circle cx="359.4" cy="261.0" r="2.8"/><circle cx="362.2" cy="266.7" r="2.8"/><circle cx="363.1" cy="268.9" r="2.8"/><circle cx="362.8" cy="274.7" r="2.8"/><circle cx="360.3" cy="276.4" r="2.8"/><circle cx="414.4" cy="201.5" r="2.8"/><circle cx="415.7" cy="204.3" r="2.8"/><circle cx="383.4" cy="205.3" r="2.8"/><circle cx="386.6" cy="205.3" r="2.8"/><circle cx="403.1" cy="206.2" r="2.8"/><circle cx="384.7" cy="207.5" r="2.8"/><circle cx="393.6" cy="208.5" r="2.8"/><circle cx="396.6" cy="207.5" r="2.8"/><circle cx="424.2" cy="208.5" r="2.8"/><circle cx="420.4" cy="210.7" r="2.8"/><circle cx="396.9" cy="213.2" r="2.8"/><circle cx="407.3" cy="214.1" r="2.8"/><circle cx="421.0" cy="214.1" r="2.8"/><circle cx="429.4" cy="216.0" r="2.8"/><circle cx="393.6" cy="218.4" r="2.8"/><circle cx="416.7" cy="219.4" r="2.8"/><circle cx="422.3" cy="219.4" r="2.8"/><circle cx="388.5" cy="220.1" r="2.8"/><circle cx="410.1" cy="220.1" r="2.8"/><circle cx="400.3" cy="222.2" r="2.8"/><circle cx="427.5" cy="224.1" r="2.8"/><circle cx="389.4" cy="226.9" r="2.8"/><circle cx="395.4" cy="227.2" r="2.8"/><circle cx="411.6" cy="227.2" r="2.8"/><circle cx="419.5" cy="228.2" r="2.8"/><circle cx="405.4" cy="228.7" r="2.8"/><circle cx="399.4" cy="230.1" r="2.8"/><circle cx="408.2" cy="230.1" r="2.8"/><circle cx="383.4" cy="231.0" r="2.8"/><circle cx="430.4" cy="233.4" r="2.8"/><circle cx="385.7" cy="233.4" r="2.8"/><circle cx="392.8" cy="233.8" r="2.8"/><circle cx="395.1" cy="234.8" r="2.8"/><circle cx="386.6" cy="235.7" r="2.8"/><circle cx="423.2" cy="235.1" r="2.8"/><circle cx="419.1" cy="241.0" r="2.8"/><circle cx="409.7" cy="242.3" r="2.8"/><circle cx="413.5" cy="242.3" r="2.8"/><circle cx="386.6" cy="243.2" r="2.8"/><circle cx="396.9" cy="243.8" r="2.8"/><circle cx="384.7" cy="246.6" r="2.8"/><circle cx="390.4" cy="246.0" r="2.8"/><circle cx="395.6" cy="246.0" r="2.8"/><circle cx="412.5" cy="247.9" r="2.8"/><circle cx="387.6" cy="249.4" r="2.8"/><circle cx="387.2" cy="252.0" r="2.8"/><circle cx="401.6" cy="253.2" r="2.8"/><circle cx="413.5" cy="255.0" r="2.8"/><circle cx="405.4" cy="256.3" r="2.8"/><circle cx="426.0" cy="256.3" r="2.8"/><circle cx="398.4" cy="257.3" r="2.8"/><circle cx="404.1" cy="259.2" r="2.8"/><circle cx="424.2" cy="260.7" r="2.8"/><circle cx="390.4" cy="262.4" r="2.8"/><circle cx="395.1" cy="262.4" r="2.8"/><circle cx="424.7" cy="262.9" r="2.8"/><circle cx="409.1" cy="264.4" r="2.8"/><circle cx="425.7" cy="265.7" r="2.8"/><circle cx="396.9" cy="266.1" r="2.8"/><circle cx="400.7" cy="266.1" r="2.8"/><circle cx="384.7" cy="267.1" r="2.8"/><circle cx="390.4" cy="268.2" r="2.8"/><circle cx="402.6" cy="267.6" r="2.8"/><circle cx="406.9" cy="267.6" r="2.8"/><circle cx="417.6" cy="269.5" r="2.8"/><circle cx="406.3" cy="269.5" r="2.8"/><circle cx="427.5" cy="270.4" r="2.8"/><circle cx="428.5" cy="272.3" r="2.8"/><circle cx="388.5" cy="276.4" r="2.8"/><circle cx="383.4" cy="277.4" r="2.8"/><circle cx="402.6" cy="277.4" r="2.8"/><circle cx="422.3" cy="277.4" r="2.8"/><circle cx="365.0" cy="226.8" r="2.8"/><circle cx="366.4" cy="232.6" r="2.8"/><circle cx="364.4" cy="220.7" r="2.8"/><circle cx="361.3" cy="233.8" r="2.8"/><circle cx="367.2" cy="219.1" r="2.8"/><circle cx="369.5" cy="228.2" r="2.8"/><circle cx="363.0" cy="271.8" r="2.8"/><circle cx="364.6" cy="226.5" r="2.8"/></g><rect class="f" x="355.5" y="190.5" width="78.0" height="100.0"/>
<g fill="#1f77b4"><circle cx="458.5" cy="203.4" r="2.8"/><circle cx="454.2" cy="209.4" r="2.8"/><circle cx="457.4" cy="214.1" r="2.8"/><circle cx="455.1" cy="218.8" r="2.8"/><circle cx="453.3" cy="220.7" r="2.8"/><circle cx="457.0" cy="221.6" r="2.8"/><circle cx="453.3" cy="225.0" r="2.8"/><circle cx="456.1" cy="225.9" r="2.8"/><circle cx="464.2" cy="226.3" r="2.8"/><circle cx="455.1" cy="230.1" r="2.8"/><circle cx="453.3" cy="231.6" r="2.8"/><circle cx="457.0" cy="232.9" r="2.8"/><circle cx="454.8" cy="235.7" r="2.8"/><circle cx="458.5" cy="236.6" r="2.8"/><circle cx="462.7" cy="238.5" r="2.8"/><circle cx="456.1" cy="239.4" r="2.8"/><circle cx="464.5" cy="240.4" r="2.8"/><circle cx="460.8" cy="241.3" r="2.8"/><circle cx="458.0" cy="243.2" r="2.8"/><circle cx="462.3" cy="245.1" r="2.8"/><circle cx="454.2" cy="246.0" r="2.8"/><circle cx="459.8" cy="247.0" r="2.8"/><circle cx="457.0" cy="249.8" r="2.8"/><circle cx="461.7" cy="250.7" r="2.8"/><circle cx="455.1" cy="252.2" r="2.8"/><circle cx="459.8" cy="253.5" r="2.8"/><circle cx="463.6" cy="254.8" r="2.8"/><circle cx="454.2" cy="256.0" r="2.8"/><circle cx="458.9" cy="256.9" r="2.8"/><circle cx="462.7" cy="259.2" r="2.8"/><circle cx="453.3" cy="260.1" r="2.8"/><circle cx="457.0" cy="260.1" r="2.8"/><circle cx="453.3" cy="263.9" r="2.8"/><circle cx="456.6" cy="266.7" r="2.8"/><circle cx="453.8" cy="268.6" r="2.8"/><circle cx="457.4" cy="272.3" r="2.8"/><circle cx="454.2" cy="273.2" r="2.8"/><circle cx="453.3" cy="277.0" r="2.8"/><circle cx="455.1" cy="278.3" r="2.8"/><circle cx="464.2" cy="277.4" r="2.8"/><circle cx="477.3" cy="201.5" r="2.8"/><circle cx="501.7" cy="201.5" r="2.8"/><circle cx="520.5" cy="205.3" r="2.8"/><circle cx="488.6" cy="213.2" r="2.8"/><circle cx="492.3" cy="214.1" r="2.8"/><circle cx="510.2" cy="214.5" r="2.8"/><circle cx="517.7" cy="213.5" r="2.8"/><circle cx="507.7" cy="216.4" r="2.8"/><circle cx="518.6" cy="216.4" r="2.8"/><circle cx="485.2" cy="218.4" r="2.8"/><circle cx="501.7" cy="219.2" r="2.8"/><circle cx="521.4" cy="220.1" r="2.8"/><circle cx="484.2" cy="221.6" r="2.8"/><circle cx="489.5" cy="223.5" r="2.8"/><circle cx="495.5" cy="222.6" r="2.8"/><circle cx="499.3" cy="227.2" r="2.8"/><circle cx="477.7" cy="228.2" r="2.8"/><circle cx="481.1" cy="228.6" r="2.8"/><circle cx="478.6" cy="231.0" r="2.8"/><circle cx="481.4" cy="232.9" r="2.8"/><circle cx="488.9" cy="233.8" r="2.8"/><circle cx="495.5" cy="235.3" r="2.8"/><circle cx="500.2" cy="235.7" r="2.8"/><circle cx="505.5" cy="234.8" r="2.8"/><circle cx="484.2" cy="235.7" r="2.8"/><circle cx="496.5" cy="239.1" r="2.8"/><circle cx="502.1" cy="239.4" r="2.8"/><circle cx="479.6" cy="240.4" r="2.8"/><circle cx="516.7" cy="240.4" r="2.8"/><circle cx="508.3" cy="242.3" r="2.8"/><circle cx="519.5" cy="242.3" r="2.8"/><circle cx="507.3" cy="244.7" r="2.8"/><circle cx="486.7" cy="246.6" r="2.8"/><circle cx="487.6" cy="249.8" r="2.8"/><circle cx="492.3" cy="252.0" r="2.8"/><circle cx="503.6" cy="253.5" r="2.8"/><circle cx="485.2" cy="253.5" r="2.8"/><circle cx="513.0" cy="254.5" r="2.8"/><circle cx="498.3" cy="255.4" r="2.8"/><circle cx="492.3" cy="256.3" r="2.8"/><circle cx="514.9" cy="257.3" r="2.8"/><circle cx="523.7" cy="258.2" r="2.8"/><circle cx="513.0" cy="260.1" r="2.8"/><circle cx="497.4" cy="258.8" r="2.8"/><circle cx="524.6" cy="261.0" r="2.8"/><circle cx="483.9" cy="262.0" r="2.8"/><circle cx="500.8" cy="262.0" r="2.8"/><circle cx="504.9" cy="262.4" r="2.8"/><circle cx="492.3" cy="262.9" r="2.8"/><circle cx="521.8" cy="266.1" r="2.8"/><circle cx="483.9" cy="264.4" r="2.8"/><circle cx="480.1" cy="268.2" r="2.8"/><circle cx="490.8" cy="268.6" r="2.8"/><circle cx="495.5" cy="269.5" r="2.8"/><circle cx="515.8" cy="269.5" r="2.8"/><circle cx="510.5" cy="271.4" r="2.8"/><circle cx="479.6" cy="271.4" r="2.8"/><circle cx="477.7" cy="274.2" r="2.8"/><circle cx="512.0" cy="274.2" r="2.8"/><circle cx="490.4" cy="276.4" r="2.8"/><circle cx="506.8" cy="276.4" r="2.8"/><circle cx="503.6" cy="277.4" r="2.8"/><circle cx="480.5" cy="279.4" r="2.8"/><circle cx="459.8" cy="259.6" r="2.8"/><circle cx="457.0" cy="246.5" r="2.8"/><circle cx="460.3" cy="244.1" r="2.8"/><circle cx="457.0" cy="269.5" r="2.8"/><circle cx="455.8" cy="211.8" r="2.8"/><circle cx="462.0" cy="247.9" r="2.8"/><circle cx="455.0" cy="232.9" r="2.8"/><circle cx="454.7" cy="223.3" r="2.8"/></g><rect class="f" x="449.5" y="190.5" width="78.0" height="100.0"/>
<g fill="#1f77b4"><circle cx="551.3" cy="203.4" r="2.8"/><circle cx="548.6" cy="210.3" r="2.8"/><circle cx="549.4" cy="213.2" r="2.8"/><circle cx="553.7" cy="218.8" r="2.8"/><circle cx="548.1" cy="220.7" r="2.8"/><circle cx="551.8" cy="221.6" r="2.8"/><circle cx="555.6" cy="222.6" r="2.8"/><circle cx="547.1" cy="225.0" r="2.8"/><circle cx="550.9" cy="225.4" r="2.8"/><circle cx="557.5" cy="226.9" r="2.8"/><circle cx="553.7" cy="227.8" r="2.8"/><circle cx="548.1" cy="230.1" r="2.8"/><circle cx="551.8" cy="230.6" r="2.8"/><circle cx="556.5" cy="231.6" r="2.8"/><circle cx="549.0" cy="233.8" r="2.8"/><circle cx="553.7" cy="234.8" r="2.8"/><circle cx="547.1" cy="237.6" r="2.8"/><circle cx="558.0" cy="237.6" r="2.8"/><circle cx="550.9" cy="238.5" r="2.8"/><circle cx="554.7" cy="240.4" r="2.8"/><circle cx="549.0" cy="242.3" r="2.8"/><circle cx="558.4" cy="243.2" r="2.8"/><circle cx="551.8" cy="244.1" r="2.8"/><circle cx="550.0" cy="246.0" r="2.8"/><circle cx="549.4" cy="249.4" r="2.8"/><circle cx="552.4" cy="260.1" r="2.8"/><circle cx="547.5" cy="262.4" r="2.8"/><circle cx="551.3" cy="271.4" r="2.8"/><circle cx="549.0" cy="273.2" r="2.8"/><circle cx="548.1" cy="276.1" r="2.8"/><circle cx="571.6" cy="201.5" r="2.8"/><circle cx="576.2" cy="201.5" r="2.8"/><circle cx="583.4" cy="201.5" r="2.8"/><circle cx="585.3" cy="201.9" r="2.8"/><circle cx="605.4" cy="200.0" r="2.8"/><circle cx="596.5" cy="202.5" r="2.8"/><circle cx="604.4" cy="203.4" r="2.8"/><circle cx="593.7" cy="205.3" r="2.8"/><circle cx="583.8" cy="207.2" r="2.8"/><circle cx="601.6" cy="208.5" r="2.8"/><circle cx="609.7" cy="214.5" r="2.8"/><circle cx="611.9" cy="214.5" r="2.8"/><circle cx="571.6" cy="215.0" r="2.8"/><circle cx="587.5" cy="215.4" r="2.8"/><circle cx="590.0" cy="216.9" r="2.8"/><circle cx="573.4" cy="219.2" r="2.8"/><circle cx="592.2" cy="222.2" r="2.8"/><circle cx="600.3" cy="223.5" r="2.8"/><circle cx="580.6" cy="223.5" r="2.8"/><circle cx="610.0" cy="225.0" r="2.8"/><circle cx="576.8" cy="226.3" r="2.8"/><circle cx="607.8" cy="229.1" r="2.8"/><circle cx="574.4" cy="230.1" r="2.8"/><circle cx="579.6" cy="229.1" r="2.8"/><circle cx="582.8" cy="229.7" r="2.8"/><circle cx="587.5" cy="230.6" r="2.8"/><circle cx="618.5" cy="231.4" r="2.8"/><circle cx="592.8" cy="233.4" r="2.8"/><circle cx="572.5" cy="233.8" r="2.8"/><circle cx="587.1" cy="234.8" r="2.8"/><circle cx="574.0" cy="236.3" r="2.8"/><circle cx="614.4" cy="236.3" r="2.8"/><circle cx="586.6" cy="238.5" r="2.8"/><circle cx="578.1" cy="240.4" r="2.8"/><circle cx="613.4" cy="243.2" r="2.8"/><circle cx="575.9" cy="245.1" r="2.8"/><circle cx="579.1" cy="245.1" r="2.8"/><circle cx="601.6" cy="245.1" r="2.8"/><circle cx="616.2" cy="247.5" r="2.8"/><circle cx="595.6" cy="249.4" r="2.8"/><circle cx="578.1" cy="249.8" r="2.8"/><circle cx="597.8" cy="251.7" r="2.8"/><circle cx="608.7" cy="251.1" r="2.8"/><circle cx="588.5" cy="252.0" r="2.8"/><circle cx="577.2" cy="252.6" r="2.8"/><circle cx="581.9" cy="253.9" r="2.8"/><circle cx="578.1" cy="256.0" r="2.8"/><circle cx="612.5" cy="255.4" r="2.8"/><circle cx="590.3" cy="257.3" r="2.8"/><circle cx="604.4" cy="257.7" r="2.8"/><circle cx="584.3" cy="258.2" r="2.8"/><circle cx="598.4" cy="258.2" r="2.8"/><circle cx="618.1" cy="258.6" r="2.8"/><circle cx="602.5" cy="261.0" r="2.8"/><circle cx="594.1" cy="261.0" r="2.8"/><circle cx="595.0" cy="264.2" r="2.8"/><circle cx="572.5" cy="264.2" r="2.8"/><circle cx="589.4" cy="264.8" r="2.8"/><circle cx="573.4" cy="267.1" r="2.8"/><circle cx="614.4" cy="266.3" r="2.8"/><circle cx="616.6" cy="267.1" r="2.8"/><circle cx="606.3" cy="268.2" r="2.8"/><circle cx="592.2" cy="268.6" r="2.8"/><circle cx="575.3" cy="269.5" r="2.8"/><circle cx="572.5" cy="270.8" r="2.8"/><circle cx="597.5" cy="270.8" r="2.8"/><circle cx="583.4" cy="272.3" r="2.8"/><circle cx="600.7" cy="272.3" r="2.8"/><circle cx="586.2" cy="272.3" r="2.8"/><circle cx="589.4" cy="273.2" r="2.8"/><circle cx="603.5" cy="274.6" r="2.8"/><circle cx="581.3" cy="278.3" r="2.8"/><circle cx="610.4" cy="279.4" r="2.8"/><circle cx="551.4" cy="241.3" r="2.8"/><circle cx="554.2" cy="237.6" r="2.8"/><circle cx="549.7" cy="273.7" r="2.8"/><circle cx="558.2" cy="240.4" r="2.8"/><circle cx="549.5" cy="223.3" r="2.8"/><circle cx="550.6" cy="246.8" r="2.8"/><circle cx="554.7" cy="225.2" r="2.8"/><circle cx="553.2" cy="224.0" r="2.8"/></g><rect class="f" x="543.5" y="190.5" width="78.0" height="100.0"/>
<g fill="#1f77b4"><circle cx="645.1" cy="203.4" r="2.8"/><circle cx="642.3" cy="206.6" r="2.8"/><circle cx="648.5" cy="210.0" r="2.8"/><circle cx="641.4" cy="211.3" r="2.8"/><circle cx="644.2" cy="214.1" r="2.8"/><circle cx="647.0" cy="216.0" r="2.8"/><circle cx="650.8" cy="217.3" r="2.8"/><circle cx="652.3" cy="219.7" r="2.8"/><circle cx="648.9" cy="220.7" r="2.8"/><circle cx="646.1" cy="223.5" r="2.8"/><circle cx="650.8" cy="225.0" r="2.8"/><circle cx="643.3" cy="227.2" r="2.8"/><circle cx="648.5" cy="227.8" r="2.8"/><circle cx="652.3" cy="230.6" r="2.8"/><circle cx="647.0" cy="232.5" r="2.8"/><circle cx="641.4" cy="235.3" r="2.8"/><circle cx="645.1" cy="235.7" r="2.8"/><circle cx="649.8" cy="236.6" r="2.8"/><circle cx="641.4" cy="239.4" r="2.8"/><circle cx="645.1" cy="241.9" r="2.8"/><circle cx="652.3" cy="245.5" r="2.8"/><circle cx="648.9" cy="247.9" r="2.8"/><circle cx="642.3" cy="249.4" r="2.8"/><circle cx="645.1" cy="249.8" r="2.8"/><circle cx="643.3" cy="252.6" r="2.8"/><circle cx="646.6" cy="255.4" r="2.8"/><circle cx="645.1" cy="259.2" r="2.8"/><circle cx="644.2" cy="262.0" r="2.8"/><circle cx="646.1" cy="262.9" r="2.8"/><circle cx="643.3" cy="266.1" r="2.8"/><circle cx="642.3" cy="270.4" r="2.8"/><circle cx="644.8" cy="272.3" r="2.8"/><circle cx="641.4" cy="277.0" r="2.8"/><circle cx="643.3" cy="279.4" r="2.8"/><circle cx="665.4" cy="200.0" r="2.8"/><circle cx="708.0" cy="204.3" r="2.8"/><circle cx="711.8" cy="203.4" r="2.8"/><circle cx="666.7" cy="207.5" r="2.8"/><circle cx="673.3" cy="207.5" r="2.8"/><circle cx="681.8" cy="208.5" r="2.8"/><circle cx="697.3" cy="209.4" r="2.8"/><circle cx="709.5" cy="210.3" r="2.8"/><circle cx="678.6" cy="213.2" r="2.8"/><circle cx="687.4" cy="213.5" r="2.8"/><circle cx="671.4" cy="215.0" r="2.8"/><circle cx="676.1" cy="215.4" r="2.8"/><circle cx="690.8" cy="216.9" r="2.8"/><circle cx="698.3" cy="219.2" r="2.8"/><circle cx="710.5" cy="220.1" r="2.8"/><circle cx="689.3" cy="221.0" r="2.8"/><circle cx="693.0" cy="223.1" r="2.8"/><circle cx="668.6" cy="224.1" r="2.8"/><circle cx="704.3" cy="223.5" r="2.8"/><circle cx="666.4" cy="225.4" r="2.8"/><circle cx="700.5" cy="226.3" r="2.8"/><circle cx="677.6" cy="227.8" r="2.8"/><circle cx="685.5" cy="227.8" r="2.8"/><circle cx="692.1" cy="233.4" r="2.8"/><circle cx="687.4" cy="234.8" r="2.8"/><circle cx="705.2" cy="235.3" r="2.8"/><circle cx="712.4" cy="236.3" r="2.8"/><circle cx="685.1" cy="237.6" r="2.8"/><circle cx="674.8" cy="238.5" r="2.8"/><circle cx="677.6" cy="241.0" r="2.8"/><circle cx="701.5" cy="239.4" r="2.8"/><circle cx="672.0" cy="242.3" r="2.8"/><circle cx="684.6" cy="240.4" r="2.8"/><circle cx="698.3" cy="245.5" r="2.8"/><circle cx="665.4" cy="247.3" r="2.8"/><circle cx="679.5" cy="250.2" r="2.8"/><circle cx="695.5" cy="251.1" r="2.8"/><circle cx="706.2" cy="252.0" r="2.8"/><circle cx="688.3" cy="253.5" r="2.8"/><circle cx="668.6" cy="253.5" r="2.8"/><circle cx="667.7" cy="257.3" r="2.8"/><circle cx="677.1" cy="259.5" r="2.8"/><circle cx="704.3" cy="261.0" r="2.8"/><circle cx="668.2" cy="262.5" r="2.8"/><circle cx="671.4" cy="265.7" r="2.8"/><circle cx="693.6" cy="266.1" r="2.8"/><circle cx="681.4" cy="268.2" r="2.8"/><circle cx="702.4" cy="267.1" r="2.8"/><circle cx="697.7" cy="268.2" r="2.8"/><circle cx="708.0" cy="268.2" r="2.8"/><circle cx="688.9" cy="270.4" r="2.8"/><circle cx="666.7" cy="272.3" r="2.8"/><circle cx="672.4" cy="271.0" r="2.8"/><circle cx="694.9" cy="271.4" r="2.8"/><circle cx="703.0" cy="271.0" r="2.8"/><circle cx="710.5" cy="273.2" r="2.8"/><circle cx="670.5" cy="275.1" r="2.8"/><circle cx="676.7" cy="274.2" r="2.8"/><circle cx="686.4" cy="273.2" r="2.8"/><circle cx="680.4" cy="276.4" r="2.8"/><circle cx="683.6" cy="277.0" r="2.8"/><circle cx="707.7" cy="277.0" r="2.8"/><circle cx="701.5" cy="276.4" r="2.8"/><circle cx="699.2" cy="277.4" r="2.8"/><circle cx="695.8" cy="279.4" r="2.8"/><circle cx="682.3" cy="279.4" r="2.8"/><circle cx="643.1" cy="274.7" r="2.8"/><circle cx="649.6" cy="231.6" r="2.8"/><circle cx="645.9" cy="252.6" r="2.8"/><circle cx="651.5" cy="227.8" r="2.8"/><circle cx="651.5" cy="222.4" r="2.8"/><circle cx="646.4" cy="212.0" r="2.8"/><circle cx="643.3" cy="237.6" r="2.8"/><circle cx="645.9" cy="227.5" r="2.8"/></g><rect class="f" x="637.5" y="190.5" width="78.0" height="100.0"/>
<g fill="#1f77b4"><circle cx="737.1" cy="201.5" r="2.8"/><circle cx="740.0" cy="205.3" r="2.8"/><circle cx="736.2" cy="207.2" r="2.8"/><circle cx="745.2" cy="206.2" r="2.8"/><circle cx="738.1" cy="209.4" r="2.8"/><circle cx="740.5" cy="216.0" r="2.8"/><circle cx="735.8" cy="218.8" r="2.8"/><circle cx="739.0" cy="220.7" r="2.8"/><circle cx="736.2" cy="223.1" r="2.8"/><circle cx="740.0" cy="225.0" r="2.8"/><circle cx="737.1" cy="227.8" r="2.8"/><circle cx="746.2" cy="229.5" r="2.8"/><circle cx="737.1" cy="234.2" r="2.8"/><circle cx="740.0" cy="236.6" r="2.8"/><circle cx="744.3" cy="239.4" r="2.8"/><circle cx="741.8" cy="240.4" r="2.8"/><circle cx="746.2" cy="241.3" r="2.8"/><circle cx="735.3" cy="243.6" r="2.8"/><circle cx="742.8" cy="244.1" r="2.8"/><circle cx="745.6" cy="246.0" r="2.8"/><circle cx="740.9" cy="247.9" r="2.8"/><circle cx="744.7" cy="249.8" r="2.8"/><circle cx="739.0" cy="252.6" r="2.8"/><circle cx="742.8" cy="253.5" r="2.8"/><circle cx="736.2" cy="256.0" r="2.8"/><circle cx="745.6" cy="254.5" r="2.8"/><circle cx="741.5" cy="260.7" r="2.8"/><circle cx="736.8" cy="266.3" r="2.8"/><circle cx="746.2" cy="266.3" r="2.8"/><circle cx="740.5" cy="270.4" r="2.8"/><circle cx="738.6" cy="271.0" r="2.8"/><circle cx="765.3" cy="201.5" r="2.8"/><circle cx="778.1" cy="202.5" r="2.8"/><circle cx="784.1" cy="202.5" r="2.8"/><circle cx="800.6" cy="202.5" r="2.8"/><circle cx="761.2" cy="204.3" r="2.8"/><circle cx="806.6" cy="208.5" r="2.8"/><circle cx="794.4" cy="210.3" r="2.8"/><circle cx="763.4" cy="211.3" r="2.8"/><circle cx="786.5" cy="212.6" r="2.8"/><circle cx="774.7" cy="212.6" r="2.8"/><circle cx="799.1" cy="213.2" r="2.8"/><circle cx="772.4" cy="216.0" r="2.8"/><circle cx="797.8" cy="216.5" r="2.8"/><circle cx="783.7" cy="219.2" r="2.8"/><circle cx="760.6" cy="219.7" r="2.8"/><circle cx="770.9" cy="223.5" r="2.8"/><circle cx="780.3" cy="224.1" r="2.8"/><circle cx="789.3" cy="223.1" r="2.8"/><circle cx="804.4" cy="224.4" r="2.8"/><circle cx="775.6" cy="225.4" r="2.8"/><circle cx="786.0" cy="227.2" r="2.8"/><circle cx="766.2" cy="228.2" r="2.8"/><circle cx="769.1" cy="228.6" r="2.8"/><circle cx="790.7" cy="227.8" r="2.8"/><circle cx="777.5" cy="230.1" r="2.8"/><circle cx="759.7" cy="231.0" r="2.8"/><circle cx="781.8" cy="231.9" r="2.8"/><circle cx="766.8" cy="231.9" r="2.8"/><circle cx="796.9" cy="232.5" r="2.8"/><circle cx="801.5" cy="234.8" r="2.8"/><circle cx="782.2" cy="236.6" r="2.8"/><circle cx="762.5" cy="237.2" r="2.8"/><circle cx="789.3" cy="239.4" r="2.8"/><circle cx="795.0" cy="241.3" r="2.8"/><circle cx="767.2" cy="242.3" r="2.8"/><circle cx="792.2" cy="245.5" r="2.8"/><circle cx="761.6" cy="245.5" r="2.8"/><circle cx="771.5" cy="246.0" r="2.8"/><circle cx="764.9" cy="246.6" r="2.8"/><circle cx="798.7" cy="247.5" r="2.8"/><circle cx="801.5" cy="248.5" r="2.8"/><circle cx="792.2" cy="249.8" r="2.8"/><circle cx="763.4" cy="249.8" r="2.8"/><circle cx="789.3" cy="252.6" r="2.8"/><circle cx="776.2" cy="253.0" r="2.8"/><circle cx="772.8" cy="254.5" r="2.8"/><circle cx="786.5" cy="255.4" r="2.8"/><circle cx="782.2" cy="256.9" r="2.8"/><circle cx="798.7" cy="256.3" r="2.8"/><circle cx="804.4" cy="256.3" r="2.8"/><circle cx="768.7" cy="256.9" r="2.8"/><circle cx="759.7" cy="257.7" r="2.8"/><circle cx="766.8" cy="260.1" r="2.8"/><circle cx="762.5" cy="262.0" r="2.8"/><circle cx="768.1" cy="262.0" r="2.8"/><circle cx="795.3" cy="263.5" r="2.8"/><circle cx="805.7" cy="263.5" r="2.8"/><circle cx="774.3" cy="265.4" r="2.8"/><circle cx="780.3" cy="267.1" r="2.8"/><circle cx="787.5" cy="268.2" r="2.8"/><circle cx="769.1" cy="268.9" r="2.8"/><circle cx="802.5" cy="269.5" r="2.8"/><circle cx="777.5" cy="271.4" r="2.8"/><circle cx="769.1" cy="271.7" r="2.8"/><circle cx="770.6" cy="272.9" r="2.8"/><circle cx="803.4" cy="274.6" r="2.8"/><circle cx="788.4" cy="279.4" r="2.8"/><circle cx="736.7" cy="204.3" r="2.8"/><circle cx="738.6" cy="268.4" r="2.8"/><circle cx="738.2" cy="217.4" r="2.8"/><circle cx="741.8" cy="250.7" r="2.8"/><circle cx="743.7" cy="247.0" r="2.8"/><circle cx="742.6" cy="205.7" r="2.8"/><circle cx="742.1" cy="238.0" r="2.8"/><circle cx="741.8" cy="251.2" r="2.8"/></g><rect class="f" x="731.5" y="190.5" width="78.0" height="100.0"/>
<g fill="#1f77b4"><circle cx="840.4" cy="201.5" r="2.8"/><circle cx="833.3" cy="205.3" r="2.8"/><circle cx="829.1" cy="206.6" r="2.8"/><circle cx="831.0" cy="207.2" r="2.8"/><circle cx="831.4" cy="216.0" r="2.8"/><circle cx="830.5" cy="226.3" r="2.8"/><circle cx="829.5" cy="230.6" r="2.8"/><circle cx="831.0" cy="233.8" r="2.8"/><circle cx="832.9" cy="236.6" r="2.8"/><circle cx="830.1" cy="238.5" r="2.8"/><circle cx="833.8" cy="240.4" r="2.8"/><circle cx="832.5" cy="243.2" r="2.8"/><circle cx="835.7" cy="245.1" r="2.8"/><circle cx="833.8" cy="247.9" r="2.8"/><circle cx="836.7" cy="249.8" r="2.8"/><circle cx="830.1" cy="252.6" r="2.8"/><circle cx="834.8" cy="252.6" r="2.8"/><circle cx="837.6" cy="255.4" r="2.8"/><circle cx="832.9" cy="256.3" r="2.8"/><circle cx="836.3" cy="258.2" r="2.8"/><circle cx="838.5" cy="260.1" r="2.8"/><circle cx="833.8" cy="260.1" r="2.8"/><circle cx="836.7" cy="262.4" r="2.8"/><circle cx="839.5" cy="263.9" r="2.8"/><circle cx="834.8" cy="264.8" r="2.8"/><circle cx="837.6" cy="266.1" r="2.8"/><circle cx="840.4" cy="267.6" r="2.8"/><circle cx="832.9" cy="267.6" r="2.8"/><circle cx="836.7" cy="268.9" r="2.8"/><circle cx="839.5" cy="271.0" r="2.8"/><circle cx="831.4" cy="273.2" r="2.8"/><circle cx="832.0" cy="269.5" r="2.8"/><circle cx="871.4" cy="201.5" r="2.8"/><circle cx="874.2" cy="202.5" r="2.8"/><circle cx="881.3" cy="201.5" r="2.8"/><circle cx="895.4" cy="203.4" r="2.8"/><circle cx="868.2" cy="203.4" r="2.8"/><circle cx="853.6" cy="205.3" r="2.8"/><circle cx="857.9" cy="205.3" r="2.8"/><circle cx="887.4" cy="206.6" r="2.8"/><circle cx="864.8" cy="207.5" r="2.8"/><circle cx="863.9" cy="210.0" r="2.8"/><circle cx="891.7" cy="209.0" r="2.8"/><circle cx="898.2" cy="210.3" r="2.8"/><circle cx="855.4" cy="214.5" r="2.8"/><circle cx="869.5" cy="214.1" r="2.8"/><circle cx="870.5" cy="215.4" r="2.8"/><circle cx="879.5" cy="213.5" r="2.8"/><circle cx="886.4" cy="217.9" r="2.8"/><circle cx="862.0" cy="221.2" r="2.8"/><circle cx="893.5" cy="223.1" r="2.8"/><circle cx="899.6" cy="222.6" r="2.8"/><circle cx="854.5" cy="225.0" r="2.8"/><circle cx="860.1" cy="225.0" r="2.8"/><circle cx="866.3" cy="228.6" r="2.8"/><circle cx="858.2" cy="230.1" r="2.8"/><circle cx="890.7" cy="231.0" r="2.8"/><circle cx="870.5" cy="231.9" r="2.8"/><circle cx="883.6" cy="233.8" r="2.8"/><circle cx="885.5" cy="235.3" r="2.8"/><circle cx="872.9" cy="236.6" r="2.8"/><circle cx="870.1" cy="241.0" r="2.8"/><circle cx="900.5" cy="241.0" r="2.8"/><circle cx="875.7" cy="241.9" r="2.8"/><circle cx="877.0" cy="244.7" r="2.8"/><circle cx="880.4" cy="245.5" r="2.8"/><circle cx="889.8" cy="244.7" r="2.8"/><circle cx="866.7" cy="246.0" r="2.8"/><circle cx="893.0" cy="246.0" r="2.8"/><circle cx="898.2" cy="245.5" r="2.8"/><circle cx="883.6" cy="247.5" r="2.8"/><circle cx="897.3" cy="251.7" r="2.8"/><circle cx="854.5" cy="252.2" r="2.8"/><circle cx="876.1" cy="252.6" r="2.8"/><circle cx="876.1" cy="255.0" r="2.8"/><circle cx="896.4" cy="255.4" r="2.8"/><circle cx="857.9" cy="256.0" r="2.8"/><circle cx="861.1" cy="256.9" r="2.8"/><circle cx="880.4" cy="257.3" r="2.8"/><circle cx="888.9" cy="258.2" r="2.8"/><circle cx="880.4" cy="259.5" r="2.8"/><circle cx="875.1" cy="260.7" r="2.8"/><circle cx="853.6" cy="262.0" r="2.8"/><circle cx="864.8" cy="262.5" r="2.8"/><circle cx="872.3" cy="262.9" r="2.8"/><circle cx="859.8" cy="262.5" r="2.8"/><circle cx="855.4" cy="265.4" r="2.8"/><circle cx="895.4" cy="266.3" r="2.8"/><circle cx="882.7" cy="268.2" r="2.8"/><circle cx="889.2" cy="267.6" r="2.8"/><circle cx="893.0" cy="267.6" r="2.8"/><circle cx="856.4" cy="268.6" r="2.8"/><circle cx="859.2" cy="270.4" r="2.8"/><circle cx="886.4" cy="272.3" r="2.8"/><circle cx="856.0" cy="272.9" r="2.8"/><circle cx="862.0" cy="273.2" r="2.8"/><circle cx="867.6" cy="274.2" r="2.8"/><circle cx="865.8" cy="276.4" r="2.8"/><circle cx="873.8" cy="276.4" r="2.8"/><circle cx="877.6" cy="276.4" r="2.8"/><circle cx="884.5" cy="277.4" r="2.8"/><circle cx="837.1" cy="252.6" r="2.8"/><circle cx="838.1" cy="266.4" r="2.8"/><circle cx="832.2" cy="270.4" r="2.8"/><circle cx="835.5" cy="255.4" r="2.8"/><circle cx="833.4" cy="267.1" r="2.8"/><circle cx="836.7" cy="262.5" r="2.8"/><circle cx="832.0" cy="250.2" r="2.8"/><circle cx="835.7" cy="257.8" r="2.8"/></g><rect class="f" x="825.5" y="190.5" width="79.0" height="100.0"/>
<g fill="#1f77b4"><circle cx="926.2" cy="202.5" r="2.8"/><circle cx="924.9" cy="209.0" r="2.8"/><circle cx="926.8" cy="214.1" r="2.8"/><circle cx="932.4" cy="216.4" r="2.8"/><circle cx="927.5" cy="218.4" r="2.8"/><circle cx="925.3" cy="220.7" r="2.8"/><circle cx="923.4" cy="225.0" r="2.8"/><circle cx="926.8" cy="230.1" r="2.8"/><circle cx="924.3" cy="231.9" r="2.8"/><circle cx="931.5" cy="233.4" r="2.8"/><circle cx="928.1" cy="234.8" r="2.8"/><circle cx="934.3" cy="236.6" r="2.8"/><circle cx="924.3" cy="237.6" r="2.8"/><circle cx="930.9" cy="238.5" r="2.8"/><circle cx="927.1" cy="239.4" r="2.8"/><circle cx="933.7" cy="240.4" r="2.8"/><circle cx="929.4" cy="242.3" r="2.8"/><circle cx="926.2" cy="245.1" r="2.8"/><circle cx="932.8" cy="245.5" r="2.8"/><circle cx="929.0" cy="247.9" r="2.8"/><circle cx="933.7" cy="249.8" r="2.8"/><circle cx="927.1" cy="249.8" r="2.8"/><circle cx="923.4" cy="252.2" r="2.8"/><circle cx="930.5" cy="251.7" r="2.8"/><circle cx="926.2" cy="254.5" r="2.8"/><circle cx="931.8" cy="257.3" r="2.8"/><circle cx="934.3" cy="257.3" r="2.8"/><circle cx="925.3" cy="259.5" r="2.8"/><circle cx="924.3" cy="277.4" r="2.8"/><circle cx="958.5" cy="204.3" r="2.8"/><circle cx="975.0" cy="204.3" r="2.8"/><circle cx="980.1" cy="206.2" r="2.8"/><circle cx="973.7" cy="206.2" r="2.8"/><circle cx="959.6" cy="209.4" r="2.8"/><circle cx="991.5" cy="211.3" r="2.8"/><circle cx="952.5" cy="212.6" r="2.8"/><circle cx="960.9" cy="214.1" r="2.8"/><circle cx="959.1" cy="216.0" r="2.8"/><circle cx="967.1" cy="216.4" r="2.8"/><circle cx="962.4" cy="217.9" r="2.8"/><circle cx="990.0" cy="219.2" r="2.8"/><circle cx="987.2" cy="221.2" r="2.8"/><circle cx="947.4" cy="222.2" r="2.8"/><circle cx="951.6" cy="220.7" r="2.8"/><circle cx="957.7" cy="223.5" r="2.8"/><circle cx="967.5" cy="223.5" r="2.8"/><circle cx="976.5" cy="223.5" r="2.8"/><circle cx="949.7" cy="225.0" r="2.8"/><circle cx="993.4" cy="227.2" r="2.8"/><circle cx="973.7" cy="228.6" r="2.8"/><circle cx="954.0" cy="230.1" r="2.8"/><circle cx="964.3" cy="231.0" r="2.8"/><circle cx="979.3" cy="230.6" r="2.8"/><circle cx="968.4" cy="232.9" r="2.8"/><circle cx="953.4" cy="233.8" r="2.8"/><circle cx="982.5" cy="233.4" r="2.8"/><circle cx="978.8" cy="235.3" r="2.8"/><circle cx="957.2" cy="238.5" r="2.8"/><circle cx="970.3" cy="239.4" r="2.8"/><circle cx="981.2" cy="240.4" r="2.8"/><circle cx="992.5" cy="239.4" r="2.8"/><circle cx="950.6" cy="242.3" r="2.8"/><circle cx="958.1" cy="241.9" r="2.8"/><circle cx="960.9" cy="243.8" r="2.8"/><circle cx="965.6" cy="243.8" r="2.8"/><circle cx="955.3" cy="247.0" r="2.8"/><circle cx="968.4" cy="250.3" r="2.8"/><circle cx="955.7" cy="252.2" r="2.8"/><circle cx="994.4" cy="253.2" r="2.8"/><circle cx="978.4" cy="253.5" r="2.8"/><circle cx="984.4" cy="255.4" r="2.8"/><circle cx="948.4" cy="256.3" r="2.8"/><circle cx="962.4" cy="257.3" r="2.8"/><circle cx="989.7" cy="258.2" r="2.8"/><circle cx="988.7" cy="261.0" r="2.8"/><circle cx="963.8" cy="262.0" r="2.8"/><circle cx="969.4" cy="262.0" r="2.8"/><circle cx="949.3" cy="262.9" r="2.8"/><circle cx="972.2" cy="263.9" r="2.8"/><circle cx="953.4" cy="264.8" r="2.8"/><circle cx="976.0" cy="267.1" r="2.8"/><circle cx="951.2" cy="267.1" r="2.8"/><circle cx="965.3" cy="268.2" r="2.8"/><circle cx="971.3" cy="267.6" r="2.8"/><circle cx="971.3" cy="271.0" r="2.8"/><circle cx="948.4" cy="271.4" r="2.8"/><circle cx="984.4" cy="271.4" r="2.8"/><circle cx="964.7" cy="274.2" r="2.8"/><circle cx="986.9" cy="275.1" r="2.8"/><circle cx="989.7" cy="274.6" r="2.8"/><circle cx="992.5" cy="275.5" r="2.8"/><circle cx="947.4" cy="276.4" r="2.8"/><circle cx="954.4" cy="277.4" r="2.8"/><circle cx="977.5" cy="276.4" r="2.8"/><circle cx="985.3" cy="277.4" r="2.8"/><circle cx="926.7" cy="242.3" r="2.8"/><circle cx="929.2" cy="245.1" r="2.8"/><circle cx="924.3" cy="234.8" r="2.8"/><circle cx="931.2" cy="254.5" r="2.8"/><circle cx="929.1" cy="231.8" r="2.8"/><circle cx="925.8" cy="211.6" r="2.8"/><circle cx="929.6" cy="215.2" r="2.8"/><circle cx="925.1" cy="227.5" r="2.8"/></g><rect class="f" x="919.5" y="190.5" width="79.0" height="100.0"/>
<g fill="#1f77b4"><circle cx="1020.6" cy="201.5" r="2.8"/><circle cx="1019.1" cy="204.3" r="2.8"/><circle cx="1022.0" cy="207.5" r="2.8"/><circle cx="1017.8" cy="211.7" r="2.8"/><circle cx="1022.0" cy="211.3" r="2.8"/><circle cx="1018.2" cy="214.5" r="2.8"/><circle cx="1022.9" cy="215.4" r="2.8"/><circle cx="1017.8" cy="218.8" r="2.8"/><circle cx="1022.0" cy="220.7" r="2.8"/><circle cx="1022.5" cy="223.5" r="2.8"/><circle cx="1020.1" cy="230.1" r="2.8"/><circle cx="1021.4" cy="230.6" r="2.8"/><circle cx="1018.2" cy="236.6" r="2.8"/><circle cx="1023.8" cy="239.4" r="2.8"/><circle cx="1020.1" cy="240.4" r="2.8"/><circle cx="1024.8" cy="243.2" r="2.8"/><circle cx="1022.0" cy="245.1" r="2.8"/><circle cx="1022.9" cy="247.9" r="2.8"/><circle cx="1027.6" cy="247.9" r="2.8"/><circle cx="1021.0" cy="250.7" r="2.8"/><circle cx="1026.3" cy="251.7" r="2.8"/><circle cx="1023.8" cy="253.5" r="2.8"/><circle cx="1018.8" cy="255.4" r="2.8"/><circle cx="1027.2" cy="256.0" r="2.8"/><circle cx="1024.8" cy="257.3" r="2.8"/><circle cx="1025.7" cy="262.0" r="2.8"/><circle cx="1021.0" cy="266.1" r="2.8"/><circle cx="1020.1" cy="268.6" r="2.8"/><circle cx="1028.2" cy="268.6" r="2.8"/><circle cx="1022.0" cy="270.4" r="2.8"/><circle cx="1028.2" cy="270.4" r="2.8"/><circle cx="1019.5" cy="274.6" r="2.8"/><circle cx="1046.4" cy="204.3" r="2.8"/><circle cx="1058.6" cy="203.4" r="2.8"/><circle cx="1065.7" cy="202.5" r="2.8"/><circle cx="1069.5" cy="204.7" r="2.8"/><circle cx="1084.5" cy="204.3" r="2.8"/><circle cx="1057.6" cy="209.4" r="2.8"/><circle cx="1072.3" cy="210.0" r="2.8"/><circle cx="1081.7" cy="208.5" r="2.8"/><circle cx="1043.2" cy="214.5" r="2.8"/><circle cx="1062.0" cy="215.0" r="2.8"/><circle cx="1064.2" cy="215.0" r="2.8"/><circle cx="1045.4" cy="219.2" r="2.8"/><circle cx="1071.3" cy="216.9" r="2.8"/><circle cx="1073.6" cy="218.8" r="2.8"/><circle cx="1081.7" cy="217.5" r="2.8"/><circle cx="1082.6" cy="220.7" r="2.8"/><circle cx="1084.5" cy="222.2" r="2.8"/><circle cx="1060.5" cy="224.4" r="2.8"/><circle cx="1051.6" cy="225.4" r="2.8"/><circle cx="1087.7" cy="225.4" r="2.8"/><circle cx="1067.6" cy="226.3" r="2.8"/><circle cx="1049.7" cy="228.6" r="2.8"/><circle cx="1067.6" cy="229.5" r="2.8"/><circle cx="1075.5" cy="230.6" r="2.8"/><circle cx="1077.0" cy="229.5" r="2.8"/><circle cx="1052.9" cy="231.9" r="2.8"/><circle cx="1087.7" cy="232.5" r="2.8"/><circle cx="1062.0" cy="232.9" r="2.8"/><circle cx="1054.8" cy="234.4" r="2.8"/><circle cx="1047.9" cy="236.3" r="2.8"/><circle cx="1052.9" cy="236.3" r="2.8"/><circle cx="1068.5" cy="236.3" r="2.8"/><circle cx="1083.5" cy="237.2" r="2.8"/><circle cx="1055.8" cy="238.5" r="2.8"/><circle cx="1058.2" cy="240.4" r="2.8"/><circle cx="1064.2" cy="241.0" r="2.8"/><circle cx="1080.2" cy="242.3" r="2.8"/><circle cx="1042.6" cy="243.8" r="2.8"/><circle cx="1063.3" cy="243.8" r="2.8"/><circle cx="1049.7" cy="246.0" r="2.8"/><circle cx="1052.9" cy="245.6" r="2.8"/><circle cx="1053.9" cy="248.8" r="2.8"/><circle cx="1072.3" cy="249.4" r="2.8"/><circle cx="1086.4" cy="249.4" r="2.8"/><circle cx="1056.7" cy="250.2" r="2.8"/><circle cx="1061.0" cy="250.7" r="2.8"/><circle cx="1064.8" cy="251.7" r="2.8"/><circle cx="1041.7" cy="252.0" r="2.8"/><circle cx="1068.5" cy="253.5" r="2.8"/><circle cx="1069.5" cy="254.1" r="2.8"/><circle cx="1061.4" cy="257.3" r="2.8"/><circle cx="1050.7" cy="259.5" r="2.8"/><circle cx="1058.6" cy="260.1" r="2.8"/><circle cx="1065.7" cy="260.7" r="2.8"/><circle cx="1078.9" cy="262.9" r="2.8"/><circle cx="1041.7" cy="264.4" r="2.8"/><circle cx="1070.4" cy="265.4" r="2.8"/><circle cx="1045.1" cy="267.6" r="2.8"/><circle cx="1048.2" cy="267.1" r="2.8"/><circle cx="1078.9" cy="267.1" r="2.8"/><circle cx="1077.9" cy="268.2" r="2.8"/><circle cx="1046.0" cy="271.4" r="2.8"/><circle cx="1056.3" cy="272.3" r="2.8"/><circle cx="1045.4" cy="274.2" r="2.8"/><circle cx="1062.3" cy="275.5" r="2.8"/><circle cx="1075.1" cy="275.5" r="2.8"/><circle cx="1044.5" cy="279.4" r="2.8"/><circle cx="1074.2" cy="278.3" r="2.8"/><circle cx="1088.6" cy="277.4" r="2.8"/><circle cx="1023.4" cy="250.7" r="2.8"/><circle cx="1021.5" cy="247.9" r="2.8"/><circle cx="1025.5" cy="254.5" r="2.8"/><circle cx="1019.9" cy="209.6" r="2.8"/><circle cx="1026.2" cy="245.6" r="2.8"/><circle cx="1022.4" cy="241.8" r="2.8"/><circle cx="1022.9" cy="242.3" r="2.8"/><circle cx="1021.3" cy="254.5" r="2.8"/></g><rect class="f" x="1013.5" y="190.5" width="79.0" height="100.0"/>
<g fill="#1f77b4"><circle cx="1112.5" cy="201.5" r="2.8"/><circle cx="1118.7" cy="201.5" r="2.8"/><circle cx="1122.0" cy="202.8" r="2.8"/><circle cx="1119.6" cy="205.7" r="2.8"/><circle cx="1118.7" cy="209.0" r="2.8"/><circle cx="1121.5" cy="211.3" r="2.8"/><circle cx="1115.8" cy="213.5" r="2.8"/><circle cx="1111.1" cy="220.7" r="2.8"/><circle cx="1116.4" cy="220.7" r="2.8"/><circle cx="1114.0" cy="223.5" r="2.8"/><circle cx="1118.3" cy="225.0" r="2.8"/><circle cx="1121.5" cy="225.4" r="2.8"/><circle cx="1112.6" cy="229.1" r="2.8"/><circle cx="1114.9" cy="231.9" r="2.8"/><circle cx="1114.0" cy="234.8" r="2.8"/><circle cx="1118.7" cy="235.7" r="2.8"/><circle cx="1112.6" cy="238.5" r="2.8"/><circle cx="1116.4" cy="240.4" r="2.8"/><circle cx="1112.1" cy="243.2" r="2.8"/><circle cx="1114.0" cy="245.1" r="2.8"/><circle cx="1120.2" cy="245.1" r="2.8"/><circle cx="1112.6" cy="247.9" r="2.8"/><circle cx="1123.4" cy="247.0" r="2.8"/><circle cx="1115.8" cy="248.8" r="2.8"/><circle cx="1113.4" cy="251.7" r="2.8"/><circle cx="1112.1" cy="254.5" r="2.8"/><circle cx="1113.0" cy="256.3" r="2.8"/><circle cx="1121.5" cy="258.2" r="2.8"/><circle cx="1116.8" cy="261.0" r="2.8"/><circle cx="1121.1" cy="261.0" r="2.8"/><circle cx="1114.0" cy="267.6" r="2.8"/><circle cx="1112.6" cy="269.5" r="2.8"/><circle cx="1120.5" cy="269.5" r="2.8"/><circle cx="1115.5" cy="277.4" r="2.8"/><circle cx="1145.5" cy="200.0" r="2.8"/><circle cx="1147.8" cy="202.5" r="2.8"/><circle cx="1149.6" cy="204.3" r="2.8"/><circle cx="1172.7" cy="203.4" r="2.8"/><circle cx="1175.9" cy="204.3" r="2.8"/><circle cx="1182.5" cy="205.3" r="2.8"/><circle cx="1162.8" cy="206.2" r="2.8"/><circle cx="1166.5" cy="208.5" r="2.8"/><circle cx="1161.5" cy="210.0" r="2.8"/><circle cx="1174.6" cy="212.6" r="2.8"/><circle cx="1178.4" cy="213.2" r="2.8"/><circle cx="1181.6" cy="212.6" r="2.8"/><circle cx="1144.6" cy="214.5" r="2.8"/><circle cx="1152.5" cy="214.5" r="2.8"/><circle cx="1154.3" cy="216.9" r="2.8"/><circle cx="1138.4" cy="218.4" r="2.8"/><circle cx="1144.0" cy="219.2" r="2.8"/><circle cx="1137.4" cy="220.7" r="2.8"/><circle cx="1170.3" cy="221.2" r="2.8"/><circle cx="1155.3" cy="222.6" r="2.8"/><circle cx="1160.5" cy="223.5" r="2.8"/><circle cx="1144.6" cy="224.4" r="2.8"/><circle cx="1142.1" cy="226.3" r="2.8"/><circle cx="1169.4" cy="225.0" r="2.8"/><circle cx="1169.4" cy="228.6" r="2.8"/><circle cx="1179.3" cy="229.5" r="2.8"/><circle cx="1148.7" cy="230.1" r="2.8"/><circle cx="1138.9" cy="231.0" r="2.8"/><circle cx="1172.7" cy="233.4" r="2.8"/><circle cx="1180.2" cy="233.4" r="2.8"/><circle cx="1156.2" cy="233.4" r="2.8"/><circle cx="1140.8" cy="235.7" r="2.8"/><circle cx="1162.4" cy="236.6" r="2.8"/><circle cx="1139.3" cy="239.4" r="2.8"/><circle cx="1178.4" cy="241.0" r="2.8"/><circle cx="1165.6" cy="241.3" r="2.8"/><circle cx="1138.4" cy="241.9" r="2.8"/><circle cx="1162.8" cy="243.8" r="2.8"/><circle cx="1136.5" cy="245.1" r="2.8"/><circle cx="1160.5" cy="245.5" r="2.8"/><circle cx="1167.5" cy="244.7" r="2.8"/><circle cx="1136.1" cy="248.8" r="2.8"/><circle cx="1158.6" cy="249.4" r="2.8"/><circle cx="1170.9" cy="248.8" r="2.8"/><circle cx="1173.7" cy="251.1" r="2.8"/><circle cx="1142.7" cy="253.5" r="2.8"/><circle cx="1146.8" cy="253.5" r="2.8"/><circle cx="1153.4" cy="255.0" r="2.8"/><circle cx="1139.9" cy="256.0" r="2.8"/><circle cx="1168.4" cy="256.3" r="2.8"/><circle cx="1137.1" cy="258.8" r="2.8"/><circle cx="1152.5" cy="258.2" r="2.8"/><circle cx="1166.2" cy="258.8" r="2.8"/><circle cx="1150.2" cy="260.7" r="2.8"/><circle cx="1143.6" cy="262.0" r="2.8"/><circle cx="1154.3" cy="261.6" r="2.8"/><circle cx="1158.1" cy="262.4" r="2.8"/><circle cx="1151.5" cy="264.8" r="2.8"/><circle cx="1156.2" cy="265.4" r="2.8"/><circle cx="1139.3" cy="267.1" r="2.8"/><circle cx="1149.6" cy="267.1" r="2.8"/><circle cx="1146.8" cy="269.5" r="2.8"/><circle cx="1176.5" cy="270.4" r="2.8"/><circle cx="1155.3" cy="271.7" r="2.8"/><circle cx="1159.0" cy="273.2" r="2.8"/><circle cx="1181.6" cy="273.2" r="2.8"/><circle cx="1150.6" cy="275.1" r="2.8"/><circle cx="1141.8" cy="277.0" r="2.8"/><circle cx="1175.0" cy="277.4" r="2.8"/><circle cx="1178.4" cy="277.4" r="2.8"/><circle cx="1143.1" cy="279.4" r="2.8"/><circle cx="1118.0" cy="247.0" r="2.8"/><circle cx="1113.3" cy="226.3" r="2.8"/><circle cx="1113.3" cy="231.9" r="2.8"/><circle cx="1119.1" cy="259.6" r="2.8"/><circle cx="1120.5" cy="208.5" r="2.8"/><circle cx="1114.9" cy="258.7" r="2.8"/><circle cx="1118.3" cy="242.7" r="2.8"/><circle cx="1118.7" cy="212.4" r="2.8"/></g><rect class="f" x="1107.5" y="190.5" width="79.0" height="100.0"/>
<g fill="#1f77b4"><circle cx="1211.4" cy="201.5" r="2.8"/><circle cx="1205.4" cy="203.4" r="2.8"/><circle cx="1207.3" cy="206.6" r="2.8"/><circle cx="1209.5" cy="208.5" r="2.8"/><circle cx="1206.3" cy="210.3" r="2.8"/><circle cx="1205.0" cy="212.6" r="2.8"/><circle cx="1209.1" cy="216.9" r="2.8"/><circle cx="1210.6" cy="219.2" r="2.8"/><circle cx="1208.2" cy="221.2" r="2.8"/><circle cx="1214.4" cy="224.4" r="2.8"/><circle cx="1210.6" cy="230.6" r="2.8"/><circle cx="1209.1" cy="238.5" r="2.8"/><circle cx="1212.0" cy="239.4" r="2.8"/><circle cx="1216.3" cy="240.4" r="2.8"/><circle cx="1208.2" cy="242.3" r="2.8"/><circle cx="1212.9" cy="242.8" r="2.8"/><circle cx="1210.1" cy="244.7" r="2.8"/><circle cx="1214.8" cy="246.0" r="2.8"/><circle cx="1207.3" cy="247.0" r="2.8"/><circle cx="1212.0" cy="247.9" r="2.8"/><circle cx="1205.4" cy="248.8" r="2.8"/><circle cx="1216.3" cy="247.0" r="2.8"/><circle cx="1210.1" cy="250.3" r="2.8"/><circle cx="1213.8" cy="251.1" r="2.8"/><circle cx="1208.2" cy="252.2" r="2.8"/><circle cx="1212.0" cy="253.5" r="2.8"/><circle cx="1215.7" cy="253.5" r="2.8"/><circle cx="1210.1" cy="255.4" r="2.8"/><circle cx="1214.4" cy="256.3" r="2.8"/><circle cx="1212.5" cy="257.9" r="2.8"/><circle cx="1217.6" cy="258.2" r="2.8"/><circle cx="1216.3" cy="260.7" r="2.8"/><circle cx="1207.3" cy="261.6" r="2.8"/><circle cx="1206.3" cy="264.8" r="2.8"/><circle cx="1205.4" cy="267.1" r="2.8"/><circle cx="1213.5" cy="269.5" r="2.8"/><circle cx="1210.6" cy="270.4" r="2.8"/><circle cx="1206.3" cy="272.3" r="2.8"/><circle cx="1210.1" cy="276.1" r="2.8"/><circle cx="1237.3" cy="202.5" r="2.8"/><circle cx="1233.6" cy="204.3" r="2.8"/><circle cx="1250.4" cy="204.3" r="2.8"/><circle cx="1255.7" cy="202.5" r="2.8"/><circle cx="1260.4" cy="202.5" r="2.8"/><circle cx="1244.4" cy="206.2" r="2.8"/><circle cx="1263.2" cy="205.3" r="2.8"/><circle cx="1257.6" cy="208.1" r="2.8"/><circle cx="1270.2" cy="206.6" r="2.8"/><circle cx="1273.5" cy="208.5" r="2.8"/><circle cx="1235.4" cy="209.4" r="2.8"/><circle cx="1276.4" cy="211.3" r="2.8"/><circle cx="1240.7" cy="212.6" r="2.8"/><circle cx="1246.7" cy="214.1" r="2.8"/><circle cx="1251.4" cy="214.5" r="2.8"/><circle cx="1237.9" cy="215.0" r="2.8"/><circle cx="1255.1" cy="215.4" r="2.8"/><circle cx="1233.6" cy="217.3" r="2.8"/><circle cx="1242.9" cy="218.8" r="2.8"/><circle cx="1253.3" cy="218.8" r="2.8"/><circle cx="1256.1" cy="217.9" r="2.8"/><circle cx="1265.5" cy="219.2" r="2.8"/><circle cx="1269.2" cy="219.2" r="2.8"/><circle cx="1246.3" cy="220.3" r="2.8"/><circle cx="1275.4" cy="221.2" r="2.8"/><circle cx="1232.6" cy="223.5" r="2.8"/><circle cx="1256.1" cy="223.5" r="2.8"/><circle cx="1248.2" cy="225.4" r="2.8"/><circle cx="1244.4" cy="226.3" r="2.8"/><circle cx="1258.5" cy="225.9" r="2.8"/><circle cx="1235.4" cy="228.6" r="2.8"/><circle cx="1260.8" cy="229.5" r="2.8"/><circle cx="1267.3" cy="229.5" r="2.8"/><circle cx="1264.5" cy="229.1" r="2.8"/><circle cx="1236.4" cy="231.4" r="2.8"/><circle cx="1241.1" cy="231.4" r="2.8"/><circle cx="1265.5" cy="233.4" r="2.8"/><circle cx="1263.2" cy="234.8" r="2.8"/><circle cx="1245.4" cy="237.2" r="2.8"/><circle cx="1266.4" cy="239.4" r="2.8"/><circle cx="1275.4" cy="240.4" r="2.8"/><circle cx="1240.1" cy="241.0" r="2.8"/><circle cx="1248.2" cy="242.3" r="2.8"/><circle cx="1242.9" cy="243.8" r="2.8"/><circle cx="1261.3" cy="243.2" r="2.8"/><circle cx="1232.6" cy="245.5" r="2.8"/><circle cx="1229.8" cy="247.0" r="2.8"/><circle cx="1270.2" cy="245.5" r="2.8"/><circle cx="1241.6" cy="246.6" r="2.8"/><circle cx="1268.3" cy="246.6" r="2.8"/><circle cx="1254.8" cy="248.5" r="2.8"/><circle cx="1271.1" cy="249.4" r="2.8"/><circle cx="1262.3" cy="249.8" r="2.8"/><circle cx="1230.7" cy="250.2" r="2.8"/><circle cx="1250.4" cy="251.3" r="2.8"/><circle cx="1239.7" cy="252.0" r="2.8"/><circle cx="1238.2" cy="254.5" r="2.8"/><circle cx="1229.4" cy="259.5" r="2.8"/><circle cx="1242.6" cy="260.7" r="2.8"/><circle cx="1272.6" cy="259.5" r="2.8"/><circle cx="1259.5" cy="262.4" r="2.8"/><circle cx="1234.5" cy="264.4" r="2.8"/><circle cx="1249.5" cy="266.3" r="2.8"/><circle cx="1231.3" cy="270.4" r="2.8"/><circle cx="1239.6" cy="270.4" r="2.8"/><circle cx="1274.5" cy="270.4" r="2.8"/><circle cx="1247.6" cy="272.3" r="2.8"/><circle cx="1236.0" cy="273.2" r="2.8"/><circle cx="1272.0" cy="274.6" r="2.8"/><circle cx="1230.4" cy="276.4" r="2.8"/><circle cx="1234.5" cy="279.4" r="2.8"/><circle cx="1211.0" cy="240.7" r="2.8"/><circle cx="1210.1" cy="250.1" r="2.8"/><circle cx="1212.0" cy="253.3" r="2.8"/><circle cx="1210.4" cy="273.2" r="2.8"/><circle cx="1211.0" cy="251.7" r="2.8"/><circle cx="1206.3" cy="264.3" r="2.8"/><circle cx="1210.1" cy="247.5" r="2.8"/><circle cx="1212.0" cy="250.7" r="2.8"/></g><rect class="f" x="1201.5" y="190.5" width="79.0" height="100.0"/>
<rect class="f" x="1295.5" y="190.5" width="79.0" height="100.0"/>
<rect class="f" x="1389.5" y="190.5" width="79.0" height="100.0"/>
<g fill="#1f77b4"><circle cx="88.3" cy="321.5" r="2.8"/><circle cx="85.8" cy="323.4" r="2.8"/><circle cx="80.2" cy="324.3" r="2.8"/><circle cx="78.3" cy="327.5" r="2.8"/><circle cx="83.0" cy="327.2" r="2.8"/><circle cx="88.3" cy="329.0" r="2.8"/><circle cx="81.1" cy="330.3" r="2.8"/><circle cx="77.4" cy="333.5" r="2.8"/><circle cx="85.8" cy="333.2" r="2.8"/><circle cx="81.1" cy="336.0" r="2.8"/><circle cx="78.3" cy="338.4" r="2.8"/><circle cx="83.0" cy="340.1" r="2.8"/><circle cx="77.4" cy="341.6" r="2.8"/><circle cx="88.3" cy="346.3" r="2.8"/><circle cx="85.8" cy="348.6" r="2.8"/><circle cx="80.2" cy="351.0" r="2.8"/><circle cx="86.8" cy="351.9" r="2.8"/><circle cx="79.3" cy="354.8" r="2.8"/><circle cx="87.7" cy="355.3" r="2.8"/><circle cx="78.3" cy="357.6" r="2.8"/><circle cx="82.1" cy="359.4" r="2.8"/><circle cx="85.8" cy="361.0" r="2.8"/><circle cx="81.1" cy="362.8" r="2.8"/><circle cx="84.0" cy="364.7" r="2.8"/><circle cx="86.8" cy="366.6" r="2.8"/><circle cx="82.6" cy="368.8" r="2.8"/><circle cx="78.3" cy="371.1" r="2.8"/><circle cx="83.0" cy="371.7" r="2.8"/><circle cx="80.2" cy="373.5" r="2.8"/><circle cx="82.6" cy="376.3" r="2.8"/><circle cx="81.5" cy="379.2" r="2.8"/><circle cx="87.3" cy="380.7" r="2.8"/><circle cx="79.6" cy="382.5" r="2.8"/><circle cx="77.4" cy="389.5" r="2.8"/><circle cx="81.1" cy="389.5" r="2.8"/><circle cx="86.8" cy="392.3" r="2.8"/><circle cx="76.4" cy="397.0" r="2.8"/><circle cx="80.2" cy="397.0" r="2.8"/><circle cx="84.0" cy="397.0" r="2.8"/><circle cx="82.1" cy="399.4" r="2.8"/><circle cx="84.9" cy="400.4" r="2.8"/><circle cx="125.3" cy="321.5" r="2.8"/><circle cx="131.5" cy="324.3" r="2.8"/><circle cx="145.5" cy="325.3" r="2.8"/><circle cx="107.4" cy="326.2" r="2.8"/><circle cx="119.1" cy="326.6" r="2.8"/><circle cx="123.4" cy="327.5" r="2.8"/><circle cx="139.3" cy="327.5" r="2.8"/><circle cx="110.2" cy="328.5" r="2.8"/><circle cx="105.6" cy="329.4" r="2.8"/><circle cx="136.5" cy="330.3" r="2.8"/><circle cx="113.6" cy="333.2" r="2.8"/><circle cx="116.8" cy="334.1" r="2.8"/><circle cx="124.3" cy="334.5" r="2.8"/><circle cx="121.5" cy="337.3" r="2.8"/><circle cx="130.5" cy="337.3" r="2.8"/><circle cx="146.5" cy="338.8" r="2.8"/><circle cx="138.4" cy="339.2" r="2.8"/><circle cx="114.9" cy="340.7" r="2.8"/><circle cx="103.7" cy="341.6" r="2.8"/><circle cx="129.0" cy="341.2" r="2.8"/><circle cx="139.3" cy="341.2" r="2.8"/><circle cx="128.1" cy="345.9" r="2.8"/><circle cx="140.3" cy="347.2" r="2.8"/><circle cx="133.7" cy="348.6" r="2.8"/><circle cx="103.7" cy="349.5" r="2.8"/><circle cx="107.4" cy="349.5" r="2.8"/><circle cx="132.8" cy="350.6" r="2.8"/><circle cx="120.6" cy="352.5" r="2.8"/><circle cx="126.8" cy="353.8" r="2.8"/><circle cx="144.6" cy="354.4" r="2.8"/><circle cx="118.3" cy="355.3" r="2.8"/><circle cx="114.0" cy="357.2" r="2.8"/><circle cx="108.4" cy="359.4" r="2.8"/><circle cx="116.8" cy="358.5" r="2.8"/><circle cx="102.4" cy="361.3" r="2.8"/><circle cx="128.5" cy="361.9" r="2.8"/><circle cx="112.1" cy="363.2" r="2.8"/><circle cx="119.6" cy="364.7" r="2.8"/><circle cx="117.4" cy="366.6" r="2.8"/><circle cx="101.4" cy="367.3" r="2.8"/><circle cx="123.4" cy="369.4" r="2.8"/><circle cx="136.5" cy="369.4" r="2.8"/><circle cx="109.3" cy="371.7" r="2.8"/><circle cx="122.4" cy="371.7" r="2.8"/><circle cx="142.2" cy="372.2" r="2.8"/><circle cx="112.1" cy="374.1" r="2.8"/><circle cx="121.5" cy="373.5" r="2.8"/><circle cx="117.8" cy="376.3" r="2.8"/><circle cx="137.5" cy="376.3" r="2.8"/><circle cx="115.9" cy="379.2" r="2.8"/><circle cx="105.6" cy="379.5" r="2.8"/><circle cx="123.4" cy="379.5" r="2.8"/><circle cx="105.6" cy="381.4" r="2.8"/><circle cx="147.4" cy="381.0" r="2.8"/><circle cx="141.2" cy="383.3" r="2.8"/><circle cx="144.0" cy="383.3" r="2.8"/><circle cx="148.7" cy="384.4" r="2.8"/><circle cx="135.6" cy="385.7" r="2.8"/><circle cx="112.5" cy="387.1" r="2.8"/><circle cx="110.2" cy="388.9" r="2.8"/><circle cx="100.5" cy="390.4" r="2.8"/><circle cx="142.2" cy="390.4" r="2.8"/><circle cx="128.1" cy="392.3" r="2.8"/><circle cx="133.7" cy="392.9" r="2.8"/><circle cx="126.2" cy="395.5" r="2.8"/><circle cx="104.6" cy="396.4" r="2.8"/><circle cx="132.8" cy="397.4" r="2.8"/><circle cx="102.7" cy="398.3" r="2.8"/><circle cx="101.4" cy="400.4" r="2.8"/><circle cx="83.0" cy="323.9" r="2.8"/><circle cx="86.3" cy="363.8" r="2.8"/><circle cx="81.1" cy="333.2" r="2.8"/><circle cx="82.6" cy="398.7" r="2.8"/><circle cx="80.9" cy="376.3" r="2.8"/><circle cx="85.6" cy="328.1" r="2.8"/><circle cx="83.0" cy="362.1" r="2.8"/><circle cx="87.5" cy="349.1" r="2.8"/></g><rect class="f" x="73.5" y="310.5" width="78.0" height="100.0"/><line x1="68.5" y1="329.5" x2="73.5" y2="329.5"/><text transform="translate(63.30,335.00) scale(1.000,1.000)" font-size="13.89" text-anchor="end">2.5</text><line x1="68.5" y1="360.5" x2="73.5" y2="360.5"/><text transform="translate(63.30,366.00) scale(1.000,1.000)" font-size="13.89" text-anchor="end">0.0</text><line x1="68.5" y1="392.5" x2="73.5" y2="392.5"/><text transform="translate(63.30,398.00) scale(1.000,1.000)" font-size="13.89" text-anchor="end">−2.5</text><text transform="translate(20.00,362.00) rotate(-90) scale(1.000,1.000)" font-size="13.89" text-anchor="middle">XY Phase</text>
<rect class="f" x="167.5" y="310.5" width="78.0" height="100.0"/>
<g fill="#1f77b4"><circle cx="269.3" cy="322.5" r="2.8"/><circle cx="273.6" cy="322.5" r="2.8"/><circle cx="276.4" cy="323.4" r="2.8"/><circle cx="276.0" cy="326.2" r="2.8"/><circle cx="272.7" cy="330.3" r="2.8"/><circle cx="275.5" cy="332.2" r="2.8"/><circle cx="270.8" cy="334.1" r="2.8"/><circle cx="268.9" cy="336.9" r="2.8"/><circle cx="274.5" cy="338.4" r="2.8"/><circle cx="270.4" cy="340.7" r="2.8"/><circle cx="275.5" cy="342.2" r="2.8"/><circle cx="267.4" cy="343.5" r="2.8"/><circle cx="270.8" cy="346.3" r="2.8"/><circle cx="271.7" cy="350.1" r="2.8"/><circle cx="267.0" cy="354.8" r="2.8"/><circle cx="272.7" cy="355.7" r="2.8"/><circle cx="265.1" cy="357.6" r="2.8"/><circle cx="269.8" cy="358.5" r="2.8"/><circle cx="274.5" cy="359.1" r="2.8"/><circle cx="267.4" cy="361.3" r="2.8"/><circle cx="271.7" cy="361.9" r="2.8"/><circle cx="275.5" cy="363.6" r="2.8"/><circle cx="268.0" cy="365.1" r="2.8"/><circle cx="266.6" cy="367.9" r="2.8"/><circle cx="276.4" cy="369.4" r="2.8"/><circle cx="266.1" cy="371.7" r="2.8"/><circle cx="267.4" cy="376.3" r="2.8"/><circle cx="265.1" cy="379.2" r="2.8"/><circle cx="275.5" cy="379.5" r="2.8"/><circle cx="265.1" cy="385.4" r="2.8"/><circle cx="274.5" cy="387.1" r="2.8"/><circle cx="268.9" cy="389.5" r="2.8"/><circle cx="265.5" cy="392.3" r="2.8"/><circle cx="269.8" cy="393.2" r="2.8"/><circle cx="268.0" cy="396.1" r="2.8"/><circle cx="266.1" cy="398.3" r="2.8"/><circle cx="265.1" cy="399.4" r="2.8"/><circle cx="298.6" cy="322.5" r="2.8"/><circle cx="323.4" cy="321.5" r="2.8"/><circle cx="330.5" cy="321.5" r="2.8"/><circle cx="321.1" cy="323.4" r="2.8"/><circle cx="331.8" cy="324.3" r="2.8"/><circle cx="289.6" cy="325.3" r="2.8"/><circle cx="291.4" cy="325.3" r="2.8"/><circle cx="305.5" cy="326.2" r="2.8"/><circle cx="313.0" cy="326.2" r="2.8"/><circle cx="316.8" cy="326.2" r="2.8"/><circle cx="307.4" cy="329.4" r="2.8"/><circle cx="309.3" cy="331.3" r="2.8"/><circle cx="336.1" cy="330.7" r="2.8"/><circle cx="300.8" cy="331.8" r="2.8"/><circle cx="294.2" cy="332.6" r="2.8"/><circle cx="289.6" cy="335.0" r="2.8"/><circle cx="292.4" cy="336.9" r="2.8"/><circle cx="304.2" cy="336.4" r="2.8"/><circle cx="318.7" cy="336.4" r="2.8"/><circle cx="320.5" cy="337.5" r="2.8"/><circle cx="292.4" cy="338.8" r="2.8"/><circle cx="304.6" cy="342.6" r="2.8"/><circle cx="298.0" cy="343.5" r="2.8"/><circle cx="311.1" cy="344.1" r="2.8"/><circle cx="299.9" cy="345.4" r="2.8"/><circle cx="302.3" cy="348.6" r="2.8"/><circle cx="312.1" cy="348.6" r="2.8"/><circle cx="329.5" cy="348.6" r="2.8"/><circle cx="290.5" cy="350.1" r="2.8"/><circle cx="310.2" cy="350.6" r="2.8"/><circle cx="316.8" cy="350.6" r="2.8"/><circle cx="328.0" cy="351.9" r="2.8"/><circle cx="308.3" cy="353.4" r="2.8"/><circle cx="333.3" cy="353.8" r="2.8"/><circle cx="299.9" cy="354.2" r="2.8"/><circle cx="294.2" cy="355.3" r="2.8"/><circle cx="303.6" cy="357.6" r="2.8"/><circle cx="317.3" cy="357.6" r="2.8"/><circle cx="309.8" cy="358.1" r="2.8"/><circle cx="322.0" cy="365.5" r="2.8"/><circle cx="304.2" cy="366.0" r="2.8"/><circle cx="323.4" cy="367.0" r="2.8"/><circle cx="307.4" cy="367.0" r="2.8"/><circle cx="300.8" cy="367.9" r="2.8"/><circle cx="296.1" cy="368.5" r="2.8"/><circle cx="314.5" cy="368.5" r="2.8"/><circle cx="324.9" cy="369.8" r="2.8"/><circle cx="333.3" cy="370.2" r="2.8"/><circle cx="325.8" cy="371.7" r="2.8"/><circle cx="332.4" cy="373.5" r="2.8"/><circle cx="301.4" cy="374.5" r="2.8"/><circle cx="295.2" cy="377.3" r="2.8"/><circle cx="314.5" cy="377.3" r="2.8"/><circle cx="319.6" cy="378.2" r="2.8"/><circle cx="330.9" cy="377.3" r="2.8"/><circle cx="334.2" cy="379.5" r="2.8"/><circle cx="294.2" cy="381.0" r="2.8"/><circle cx="326.7" cy="381.0" r="2.8"/><circle cx="304.2" cy="382.0" r="2.8"/><circle cx="292.0" cy="382.9" r="2.8"/><circle cx="302.3" cy="383.9" r="2.8"/><circle cx="290.5" cy="385.4" r="2.8"/><circle cx="288.6" cy="386.3" r="2.8"/><circle cx="327.7" cy="387.6" r="2.8"/><circle cx="293.3" cy="389.5" r="2.8"/><circle cx="318.3" cy="389.5" r="2.8"/><circle cx="328.0" cy="392.3" r="2.8"/><circle cx="310.2" cy="394.2" r="2.8"/><circle cx="324.3" cy="395.5" r="2.8"/><circle cx="295.8" cy="396.4" r="2.8"/><circle cx="311.1" cy="397.4" r="2.8"/><circle cx="315.8" cy="398.3" r="2.8"/><circle cx="308.3" cy="398.3" r="2.8"/><circle cx="269.8" cy="355.2" r="2.8"/><circle cx="272.2" cy="352.9" r="2.8"/><circle cx="272.7" cy="336.3" r="2.8"/><circle cx="270.6" cy="343.5" r="2.8"/><circle cx="267.0" cy="387.4" r="2.8"/><circle cx="271.7" cy="337.7" r="2.8"/><circle cx="275.9" cy="366.5" r="2.8"/><circle cx="275.8" cy="329.2" r="2.8"/></g><rect class="f" x="261.5" y="310.5" width="78.0" height="100.0"/>
<g fill="#1f77b4"><circle cx="364.6" cy="321.5" r="2.8"/><circle cx="366.5" cy="323.4" r="2.8"/><circle cx="363.5" cy="325.3" r="2.8"/><circle cx="366.9" cy="328.5" r="2.8"/><circle cx="365.0" cy="331.3" r="2.8"/><circle cx="366.5" cy="334.1" r="2.8"/><circle cx="369.7" cy="336.5" r="2.8"/><circle cx="362.2" cy="338.8" r="2.8"/><circle cx="366.5" cy="339.7" r="2.8"/><circle cx="363.1" cy="342.2" r="2.8"/><circle cx="359.4" cy="345.0" r="2.8"/><circle cx="370.3" cy="345.4" r="2.8"/><circle cx="366.0" cy="346.3" r="2.8"/><circle cx="362.2" cy="348.2" r="2.8"/><circle cx="368.8" cy="350.1" r="2.8"/><circle cx="365.0" cy="351.0" r="2.8"/><circle cx="358.4" cy="355.3" r="2.8"/><circle cx="363.1" cy="355.3" r="2.8"/><circle cx="360.3" cy="358.5" r="2.8"/><circle cx="366.0" cy="358.5" r="2.8"/><circle cx="369.7" cy="359.4" r="2.8"/><circle cx="359.4" cy="361.0" r="2.8"/><circle cx="364.1" cy="362.3" r="2.8"/><circle cx="366.5" cy="366.0" r="2.8"/><circle cx="362.2" cy="367.0" r="2.8"/><circle cx="367.8" cy="368.8" r="2.8"/><circle cx="359.4" cy="377.3" r="2.8"/><circle cx="364.6" cy="377.9" r="2.8"/><circle cx="361.3" cy="379.5" r="2.8"/><circle cx="365.0" cy="381.0" r="2.8"/><circle cx="370.3" cy="381.0" r="2.8"/><circle cx="360.3" cy="382.5" r="2.8"/><circle cx="364.1" cy="384.8" r="2.8"/><circle cx="370.3" cy="385.7" r="2.8"/><circle cx="361.3" cy="387.6" r="2.8"/><circle cx="362.2" cy="389.5" r="2.8"/><circle cx="366.0" cy="393.2" r="2.8"/><circle cx="368.8" cy="397.0" r="2.8"/><circle cx="363.5" cy="399.4" r="2.8"/><circle cx="367.8" cy="399.4" r="2.8"/><circle cx="396.9" cy="322.5" r="2.8"/><circle cx="418.5" cy="322.5" r="2.8"/><circle cx="429.4" cy="324.3" r="2.8"/><circle cx="426.0" cy="326.2" r="2.8"/><circle cx="387.2" cy="328.5" r="2.8"/><circle cx="392.2" cy="329.4" r="2.8"/><circle cx="398.4" cy="328.5" r="2.8"/><circle cx="405.4" cy="328.5" r="2.8"/><circle cx="409.7" cy="328.5" r="2.8"/><circle cx="420.4" cy="329.4" r="2.8"/><circle cx="427.4" cy="330.0" r="2.8"/><circle cx="390.9" cy="332.2" r="2.8"/><circle cx="407.8" cy="332.2" r="2.8"/><circle cx="412.9" cy="332.6" r="2.8"/><circle cx="401.3" cy="335.0" r="2.8"/><circle cx="422.9" cy="336.4" r="2.8"/><circle cx="390.4" cy="338.8" r="2.8"/><circle cx="427.9" cy="342.2" r="2.8"/><circle cx="386.2" cy="343.5" r="2.8"/><circle cx="387.6" cy="346.3" r="2.8"/><circle cx="395.1" cy="346.3" r="2.8"/><circle cx="424.2" cy="347.8" r="2.8"/><circle cx="390.0" cy="349.7" r="2.8"/><circle cx="421.3" cy="348.6" r="2.8"/><circle cx="403.1" cy="350.6" r="2.8"/><circle cx="409.7" cy="350.6" r="2.8"/><circle cx="416.3" cy="350.6" r="2.8"/><circle cx="396.6" cy="352.9" r="2.8"/><circle cx="415.3" cy="354.2" r="2.8"/><circle cx="383.4" cy="357.6" r="2.8"/><circle cx="402.2" cy="357.2" r="2.8"/><circle cx="414.4" cy="357.6" r="2.8"/><circle cx="399.8" cy="359.4" r="2.8"/><circle cx="385.3" cy="361.0" r="2.8"/><circle cx="413.5" cy="361.0" r="2.8"/><circle cx="408.8" cy="361.3" r="2.8"/><circle cx="390.0" cy="363.2" r="2.8"/><circle cx="395.6" cy="364.7" r="2.8"/><circle cx="405.4" cy="364.7" r="2.8"/><circle cx="411.0" cy="363.8" r="2.8"/><circle cx="419.1" cy="364.7" r="2.8"/><circle cx="424.5" cy="363.8" r="2.8"/><circle cx="389.4" cy="366.6" r="2.8"/><circle cx="385.7" cy="369.8" r="2.8"/><circle cx="399.8" cy="376.3" r="2.8"/><circle cx="410.1" cy="377.3" r="2.8"/><circle cx="423.2" cy="377.3" r="2.8"/><circle cx="389.4" cy="378.8" r="2.8"/><circle cx="420.4" cy="378.2" r="2.8"/><circle cx="393.2" cy="381.0" r="2.8"/><circle cx="389.4" cy="382.0" r="2.8"/><circle cx="404.4" cy="384.4" r="2.8"/><circle cx="384.4" cy="385.7" r="2.8"/><circle cx="411.6" cy="386.1" r="2.8"/><circle cx="399.4" cy="388.2" r="2.8"/><circle cx="417.6" cy="388.2" r="2.8"/><circle cx="383.8" cy="391.0" r="2.8"/><circle cx="430.7" cy="390.4" r="2.8"/><circle cx="402.6" cy="392.3" r="2.8"/><circle cx="388.5" cy="395.5" r="2.8"/><circle cx="393.2" cy="397.4" r="2.8"/><circle cx="383.4" cy="398.3" r="2.8"/><circle cx="406.3" cy="399.4" r="2.8"/><circle cx="416.3" cy="399.4" r="2.8"/><circle cx="358.9" cy="358.1" r="2.8"/><circle cx="366.7" cy="331.3" r="2.8"/><circle cx="363.1" cy="358.5" r="2.8"/><circle cx="366.5" cy="336.9" r="2.8"/><circle cx="366.1" cy="398.2" r="2.8"/><circle cx="365.0" cy="367.9" r="2.8"/><circle cx="362.7" cy="382.2" r="2.8"/><circle cx="359.9" cy="379.9" r="2.8"/></g><rect class="f" x="355.5" y="310.5" width="78.0" height="100.0"/>
<g fill="#1f77b4"><circle cx="461.3" cy="323.4" r="2.8"/><circle cx="462.7" cy="328.5" r="2.8"/><circle cx="456.6" cy="330.3" r="2.8"/><circle cx="454.2" cy="333.2" r="2.8"/><circle cx="459.8" cy="333.2" r="2.8"/><circle cx="457.0" cy="336.0" r="2.8"/><circle cx="464.2" cy="337.5" r="2.8"/><circle cx="454.2" cy="340.3" r="2.8"/><circle cx="458.0" cy="341.6" r="2.8"/><circle cx="455.1" cy="345.0" r="2.8"/><circle cx="462.3" cy="347.2" r="2.8"/><circle cx="458.0" cy="349.1" r="2.8"/><circle cx="454.2" cy="350.6" r="2.8"/><circle cx="460.8" cy="351.9" r="2.8"/><circle cx="456.6" cy="355.3" r="2.8"/><circle cx="464.2" cy="355.3" r="2.8"/><circle cx="454.2" cy="359.4" r="2.8"/><circle cx="458.9" cy="361.0" r="2.8"/><circle cx="462.7" cy="362.3" r="2.8"/><circle cx="458.0" cy="365.1" r="2.8"/><circle cx="462.3" cy="367.0" r="2.8"/><circle cx="458.9" cy="368.8" r="2.8"/><circle cx="458.0" cy="372.6" r="2.8"/><circle cx="455.1" cy="376.3" r="2.8"/><circle cx="463.2" cy="377.3" r="2.8"/><circle cx="461.7" cy="381.0" r="2.8"/><circle cx="459.8" cy="383.9" r="2.8"/><circle cx="456.1" cy="387.6" r="2.8"/><circle cx="460.8" cy="386.7" r="2.8"/><circle cx="454.2" cy="389.5" r="2.8"/><circle cx="458.0" cy="391.4" r="2.8"/><circle cx="462.3" cy="392.3" r="2.8"/><circle cx="455.1" cy="393.2" r="2.8"/><circle cx="459.8" cy="395.1" r="2.8"/><circle cx="458.0" cy="398.3" r="2.8"/><circle cx="486.7" cy="327.5" r="2.8"/><circle cx="493.6" cy="327.5" r="2.8"/><circle cx="508.3" cy="326.2" r="2.8"/><circle cx="511.1" cy="328.1" r="2.8"/><circle cx="520.5" cy="327.5" r="2.8"/><circle cx="481.4" cy="332.2" r="2.8"/><circle cx="478.2" cy="333.5" r="2.8"/><circle cx="519.5" cy="333.2" r="2.8"/><circle cx="501.7" cy="335.0" r="2.8"/><circle cx="494.2" cy="336.0" r="2.8"/><circle cx="517.7" cy="336.4" r="2.8"/><circle cx="481.1" cy="337.9" r="2.8"/><circle cx="507.3" cy="338.8" r="2.8"/><circle cx="513.3" cy="342.6" r="2.8"/><circle cx="499.3" cy="343.5" r="2.8"/><circle cx="486.1" cy="344.4" r="2.8"/><circle cx="522.4" cy="344.4" r="2.8"/><circle cx="489.5" cy="346.3" r="2.8"/><circle cx="478.2" cy="346.7" r="2.8"/><circle cx="500.2" cy="345.9" r="2.8"/><circle cx="518.6" cy="348.6" r="2.8"/><circle cx="488.0" cy="350.6" r="2.8"/><circle cx="497.0" cy="350.6" r="2.8"/><circle cx="521.4" cy="353.4" r="2.8"/><circle cx="515.8" cy="353.4" r="2.8"/><circle cx="489.9" cy="354.2" r="2.8"/><circle cx="500.8" cy="353.4" r="2.8"/><circle cx="503.6" cy="354.2" r="2.8"/><circle cx="513.3" cy="355.3" r="2.8"/><circle cx="477.7" cy="355.3" r="2.8"/><circle cx="493.6" cy="355.3" r="2.8"/><circle cx="484.2" cy="358.5" r="2.8"/><circle cx="489.5" cy="359.4" r="2.8"/><circle cx="504.9" cy="358.5" r="2.8"/><circle cx="479.6" cy="361.9" r="2.8"/><circle cx="485.2" cy="361.9" r="2.8"/><circle cx="489.9" cy="361.3" r="2.8"/><circle cx="510.2" cy="362.3" r="2.8"/><circle cx="512.0" cy="362.3" r="2.8"/><circle cx="483.9" cy="366.0" r="2.8"/><circle cx="490.4" cy="369.4" r="2.8"/><circle cx="515.2" cy="370.2" r="2.8"/><circle cx="524.6" cy="370.2" r="2.8"/><circle cx="480.1" cy="374.1" r="2.8"/><circle cx="478.2" cy="376.0" r="2.8"/><circle cx="493.3" cy="376.9" r="2.8"/><circle cx="503.6" cy="375.4" r="2.8"/><circle cx="509.6" cy="376.3" r="2.8"/><circle cx="501.1" cy="377.3" r="2.8"/><circle cx="523.3" cy="378.2" r="2.8"/><circle cx="485.7" cy="379.5" r="2.8"/><circle cx="494.2" cy="381.0" r="2.8"/><circle cx="505.5" cy="381.0" r="2.8"/><circle cx="483.9" cy="382.0" r="2.8"/><circle cx="521.4" cy="382.0" r="2.8"/><circle cx="510.2" cy="382.9" r="2.8"/><circle cx="496.1" cy="383.9" r="2.8"/><circle cx="506.4" cy="384.4" r="2.8"/><circle cx="483.3" cy="386.1" r="2.8"/><circle cx="491.4" cy="388.2" r="2.8"/><circle cx="497.4" cy="389.5" r="2.8"/><circle cx="507.3" cy="390.4" r="2.8"/><circle cx="479.6" cy="394.6" r="2.8"/><circle cx="516.7" cy="397.4" r="2.8"/><circle cx="487.6" cy="398.3" r="2.8"/><circle cx="499.3" cy="399.4" r="2.8"/><circle cx="455.6" cy="390.4" r="2.8"/><circle cx="457.5" cy="338.8" r="2.8"/><circle cx="461.2" cy="383.9" r="2.8"/><circle cx="454.7" cy="347.8" r="2.8"/><circle cx="456.8" cy="333.2" r="2.8"/><circle cx="457.0" cy="333.2" r="2.8"/><circle cx="456.6" cy="395.8" r="2.8"/><circle cx="461.5" cy="389.5" r="2.8"/></g><rect class="f" x="449.5" y="310.5" width="78.0" height="100.0"/>
<g fill="#1f77b4"><circle cx="551.3" cy="322.5" r="2.8"/><circle cx="558.4" cy="322.5" r="2.8"/><circle cx="550.9" cy="325.3" r="2.8"/><circle cx="555.6" cy="328.5" r="2.8"/><circle cx="549.0" cy="333.2" r="2.8"/><circle cx="548.1" cy="336.9" r="2.8"/><circle cx="553.7" cy="337.9" r="2.8"/><circle cx="548.1" cy="340.7" r="2.8"/><circle cx="558.0" cy="340.3" r="2.8"/><circle cx="556.5" cy="342.2" r="2.8"/><circle cx="548.1" cy="344.4" r="2.8"/><circle cx="549.0" cy="349.1" r="2.8"/><circle cx="554.3" cy="350.6" r="2.8"/><circle cx="548.1" cy="352.9" r="2.8"/><circle cx="551.8" cy="354.8" r="2.8"/><circle cx="556.2" cy="355.7" r="2.8"/><circle cx="549.0" cy="357.6" r="2.8"/><circle cx="553.7" cy="359.1" r="2.8"/><circle cx="556.5" cy="361.0" r="2.8"/><circle cx="551.8" cy="363.2" r="2.8"/><circle cx="553.7" cy="365.5" r="2.8"/><circle cx="550.9" cy="368.8" r="2.8"/><circle cx="552.8" cy="371.7" r="2.8"/><circle cx="549.0" cy="374.5" r="2.8"/><circle cx="553.7" cy="376.0" r="2.8"/><circle cx="557.5" cy="376.3" r="2.8"/><circle cx="548.1" cy="377.3" r="2.8"/><circle cx="551.8" cy="379.5" r="2.8"/><circle cx="549.4" cy="382.0" r="2.8"/><circle cx="554.7" cy="382.4" r="2.8"/><circle cx="548.1" cy="383.9" r="2.8"/><circle cx="552.8" cy="385.4" r="2.8"/><circle cx="557.5" cy="385.7" r="2.8"/><circle cx="550.0" cy="387.6" r="2.8"/><circle cx="555.6" cy="389.5" r="2.8"/><circle cx="551.8" cy="391.0" r="2.8"/><circle cx="549.0" cy="393.2" r="2.8"/><circle cx="558.0" cy="392.9" r="2.8"/><circle cx="553.7" cy="395.1" r="2.8"/><circle cx="549.4" cy="397.0" r="2.8"/><circle cx="558.4" cy="396.4" r="2.8"/><circle cx="551.3" cy="399.4" r="2.8"/><circle cx="582.8" cy="323.4" r="2.8"/><circle cx="587.5" cy="324.3" r="2.8"/><circle cx="575.3" cy="325.3" r="2.8"/><circle cx="613.4" cy="322.5" r="2.8"/><circle cx="611.5" cy="323.8" r="2.8"/><circle cx="572.5" cy="329.0" r="2.8"/><circle cx="589.4" cy="328.5" r="2.8"/><circle cx="593.1" cy="329.4" r="2.8"/><circle cx="616.2" cy="329.0" r="2.8"/><circle cx="607.8" cy="330.7" r="2.8"/><circle cx="611.9" cy="331.3" r="2.8"/><circle cx="573.4" cy="332.6" r="2.8"/><circle cx="582.8" cy="332.6" r="2.8"/><circle cx="609.7" cy="334.1" r="2.8"/><circle cx="584.7" cy="335.0" r="2.8"/><circle cx="590.9" cy="335.0" r="2.8"/><circle cx="574.0" cy="336.4" r="2.8"/><circle cx="598.8" cy="336.4" r="2.8"/><circle cx="589.4" cy="338.8" r="2.8"/><circle cx="574.9" cy="342.6" r="2.8"/><circle cx="594.6" cy="343.5" r="2.8"/><circle cx="576.2" cy="345.4" r="2.8"/><circle cx="618.5" cy="345.0" r="2.8"/><circle cx="615.3" cy="346.3" r="2.8"/><circle cx="577.8" cy="348.6" r="2.8"/><circle cx="581.9" cy="350.1" r="2.8"/><circle cx="601.6" cy="349.5" r="2.8"/><circle cx="607.8" cy="351.4" r="2.8"/><circle cx="611.5" cy="351.9" r="2.8"/><circle cx="593.7" cy="351.9" r="2.8"/><circle cx="600.7" cy="353.4" r="2.8"/><circle cx="572.5" cy="354.8" r="2.8"/><circle cx="590.9" cy="354.8" r="2.8"/><circle cx="616.2" cy="353.4" r="2.8"/><circle cx="580.0" cy="355.7" r="2.8"/><circle cx="585.3" cy="357.6" r="2.8"/><circle cx="607.2" cy="359.4" r="2.8"/><circle cx="580.6" cy="360.4" r="2.8"/><circle cx="577.8" cy="362.3" r="2.8"/><circle cx="588.1" cy="363.8" r="2.8"/><circle cx="584.3" cy="366.0" r="2.8"/><circle cx="596.5" cy="371.1" r="2.8"/><circle cx="605.4" cy="373.0" r="2.8"/><circle cx="618.1" cy="373.0" r="2.8"/><circle cx="578.1" cy="373.5" r="2.8"/><circle cx="613.4" cy="374.5" r="2.8"/><circle cx="586.2" cy="374.5" r="2.8"/><circle cx="583.8" cy="376.0" r="2.8"/><circle cx="578.7" cy="376.0" r="2.8"/><circle cx="592.2" cy="376.3" r="2.8"/><circle cx="604.4" cy="376.0" r="2.8"/><circle cx="615.3" cy="381.6" r="2.8"/><circle cx="599.3" cy="381.0" r="2.8"/><circle cx="595.6" cy="382.5" r="2.8"/><circle cx="602.5" cy="382.5" r="2.8"/><circle cx="573.4" cy="384.4" r="2.8"/><circle cx="604.0" cy="385.4" r="2.8"/><circle cx="605.4" cy="387.6" r="2.8"/><circle cx="606.9" cy="389.5" r="2.8"/><circle cx="581.5" cy="391.4" r="2.8"/><circle cx="579.1" cy="394.2" r="2.8"/><circle cx="597.5" cy="393.2" r="2.8"/><circle cx="596.5" cy="396.4" r="2.8"/><circle cx="571.6" cy="398.3" r="2.8"/><circle cx="589.4" cy="398.3" r="2.8"/><circle cx="602.5" cy="398.3" r="2.8"/><circle cx="599.3" cy="399.4" r="2.8"/><circle cx="577.2" cy="400.4" r="2.8"/><circle cx="549.5" cy="390.4" r="2.8"/><circle cx="550.9" cy="337.4" r="2.8"/><circle cx="551.4" cy="366.0" r="2.8"/><circle cx="552.3" cy="388.2" r="2.8"/><circle cx="550.0" cy="381.7" r="2.8"/><circle cx="553.2" cy="326.9" r="2.8"/><circle cx="549.7" cy="384.8" r="2.8"/><circle cx="550.9" cy="376.6" r="2.8"/></g><rect class="f" x="543.5" y="310.5" width="78.0" height="100.0"/>
<g fill="#1f77b4"><circle cx="643.3" cy="325.3" r="2.8"/><circle cx="644.8" cy="327.5" r="2.8"/><circle cx="648.0" cy="329.4" r="2.8"/><circle cx="649.8" cy="331.3" r="2.8"/><circle cx="641.4" cy="335.0" r="2.8"/><circle cx="645.1" cy="336.0" r="2.8"/><circle cx="645.5" cy="338.8" r="2.8"/><circle cx="650.8" cy="338.8" r="2.8"/><circle cx="652.3" cy="341.6" r="2.8"/><circle cx="649.8" cy="344.1" r="2.8"/><circle cx="645.1" cy="347.2" r="2.8"/><circle cx="650.8" cy="348.2" r="2.8"/><circle cx="646.1" cy="351.0" r="2.8"/><circle cx="644.2" cy="353.4" r="2.8"/><circle cx="648.5" cy="354.2" r="2.8"/><circle cx="646.1" cy="356.6" r="2.8"/><circle cx="652.3" cy="358.5" r="2.8"/><circle cx="648.0" cy="359.4" r="2.8"/><circle cx="643.3" cy="361.0" r="2.8"/><circle cx="650.4" cy="361.3" r="2.8"/><circle cx="641.4" cy="362.3" r="2.8"/><circle cx="646.1" cy="363.2" r="2.8"/><circle cx="641.4" cy="365.5" r="2.8"/><circle cx="645.1" cy="366.0" r="2.8"/><circle cx="648.9" cy="365.5" r="2.8"/><circle cx="652.3" cy="368.5" r="2.8"/><circle cx="642.3" cy="368.8" r="2.8"/><circle cx="648.9" cy="370.7" r="2.8"/><circle cx="646.1" cy="376.0" r="2.8"/><circle cx="644.2" cy="378.2" r="2.8"/><circle cx="642.9" cy="381.6" r="2.8"/><circle cx="646.1" cy="383.9" r="2.8"/><circle cx="650.4" cy="384.4" r="2.8"/><circle cx="642.3" cy="386.1" r="2.8"/><circle cx="642.3" cy="395.7" r="2.8"/><circle cx="647.0" cy="396.4" r="2.8"/><circle cx="645.1" cy="398.9" r="2.8"/><circle cx="647.0" cy="400.8" r="2.8"/><circle cx="677.6" cy="324.3" r="2.8"/><circle cx="684.6" cy="325.3" r="2.8"/><circle cx="710.5" cy="323.4" r="2.8"/><circle cx="697.3" cy="325.3" r="2.8"/><circle cx="701.1" cy="326.2" r="2.8"/><circle cx="665.4" cy="331.7" r="2.8"/><circle cx="672.4" cy="333.5" r="2.8"/><circle cx="687.4" cy="333.2" r="2.8"/><circle cx="667.3" cy="335.0" r="2.8"/><circle cx="704.3" cy="335.0" r="2.8"/><circle cx="689.3" cy="337.3" r="2.8"/><circle cx="680.4" cy="337.9" r="2.8"/><circle cx="678.6" cy="340.7" r="2.8"/><circle cx="712.4" cy="342.6" r="2.8"/><circle cx="689.3" cy="342.6" r="2.8"/><circle cx="699.2" cy="343.5" r="2.8"/><circle cx="695.8" cy="345.4" r="2.8"/><circle cx="674.2" cy="345.9" r="2.8"/><circle cx="678.9" cy="347.2" r="2.8"/><circle cx="671.4" cy="347.8" r="2.8"/><circle cx="666.7" cy="349.1" r="2.8"/><circle cx="702.4" cy="349.5" r="2.8"/><circle cx="711.4" cy="350.6" r="2.8"/><circle cx="695.5" cy="351.4" r="2.8"/><circle cx="665.4" cy="353.4" r="2.8"/><circle cx="675.6" cy="353.4" r="2.8"/><circle cx="681.4" cy="354.8" r="2.8"/><circle cx="674.2" cy="356.6" r="2.8"/><circle cx="687.4" cy="359.4" r="2.8"/><circle cx="684.6" cy="361.9" r="2.8"/><circle cx="699.6" cy="361.3" r="2.8"/><circle cx="709.5" cy="361.3" r="2.8"/><circle cx="686.4" cy="362.8" r="2.8"/><circle cx="691.7" cy="367.0" r="2.8"/><circle cx="696.8" cy="367.9" r="2.8"/><circle cx="709.5" cy="368.5" r="2.8"/><circle cx="675.2" cy="370.2" r="2.8"/><circle cx="680.4" cy="371.1" r="2.8"/><circle cx="666.4" cy="371.1" r="2.8"/><circle cx="693.0" cy="371.7" r="2.8"/><circle cx="701.5" cy="371.1" r="2.8"/><circle cx="693.6" cy="375.4" r="2.8"/><circle cx="669.6" cy="376.0" r="2.8"/><circle cx="707.7" cy="375.4" r="2.8"/><circle cx="678.9" cy="378.2" r="2.8"/><circle cx="706.2" cy="378.2" r="2.8"/><circle cx="686.4" cy="379.5" r="2.8"/><circle cx="677.6" cy="381.0" r="2.8"/><circle cx="676.7" cy="383.5" r="2.8"/><circle cx="705.8" cy="383.9" r="2.8"/><circle cx="691.7" cy="385.4" r="2.8"/><circle cx="708.6" cy="385.4" r="2.8"/><circle cx="698.3" cy="386.3" r="2.8"/><circle cx="682.7" cy="387.1" r="2.8"/><circle cx="704.9" cy="387.6" r="2.8"/><circle cx="687.4" cy="390.4" r="2.8"/><circle cx="666.7" cy="391.0" r="2.8"/><circle cx="671.4" cy="390.4" r="2.8"/><circle cx="676.1" cy="390.4" r="2.8"/><circle cx="707.7" cy="391.4" r="2.8"/><circle cx="703.3" cy="392.3" r="2.8"/><circle cx="668.6" cy="393.2" r="2.8"/><circle cx="674.2" cy="393.2" r="2.8"/><circle cx="682.3" cy="392.9" r="2.8"/><circle cx="683.3" cy="395.7" r="2.8"/><circle cx="671.4" cy="395.7" r="2.8"/><circle cx="676.7" cy="395.1" r="2.8"/><circle cx="672.4" cy="399.4" r="2.8"/><circle cx="648.0" cy="347.7" r="2.8"/><circle cx="650.4" cy="356.4" r="2.8"/><circle cx="647.5" cy="345.6" r="2.8"/><circle cx="646.1" cy="353.8" r="2.8"/><circle cx="643.5" cy="336.9" r="2.8"/><circle cx="648.4" cy="349.6" r="2.8"/><circle cx="645.1" cy="381.0" r="2.8"/><circle cx="647.5" cy="373.3" r="2.8"/></g><rect class="f" x="637.5" y="310.5" width="78.0" height="100.0"/>
<g fill="#1f77b4"><circle cx="744.3" cy="324.3" r="2.8"/><circle cx="738.6" cy="325.3" r="2.8"/><circle cx="740.9" cy="327.5" r="2.8"/><circle cx="737.1" cy="329.4" r="2.8"/><circle cx="746.2" cy="330.0" r="2.8"/><circle cx="740.0" cy="332.2" r="2.8"/><circle cx="743.7" cy="333.2" r="2.8"/><circle cx="735.8" cy="334.1" r="2.8"/><circle cx="739.0" cy="336.0" r="2.8"/><circle cx="742.8" cy="336.9" r="2.8"/><circle cx="736.2" cy="338.8" r="2.8"/><circle cx="740.0" cy="339.7" r="2.8"/><circle cx="745.2" cy="343.5" r="2.8"/><circle cx="736.2" cy="345.0" r="2.8"/><circle cx="739.0" cy="345.9" r="2.8"/><circle cx="738.1" cy="350.1" r="2.8"/><circle cx="740.0" cy="352.9" r="2.8"/><circle cx="736.8" cy="354.8" r="2.8"/><circle cx="741.5" cy="355.7" r="2.8"/><circle cx="735.8" cy="359.4" r="2.8"/><circle cx="739.0" cy="358.5" r="2.8"/><circle cx="744.3" cy="358.5" r="2.8"/><circle cx="745.2" cy="363.2" r="2.8"/><circle cx="736.8" cy="366.0" r="2.8"/><circle cx="744.3" cy="367.0" r="2.8"/><circle cx="740.9" cy="370.7" r="2.8"/><circle cx="745.2" cy="370.7" r="2.8"/><circle cx="736.2" cy="373.0" r="2.8"/><circle cx="744.3" cy="374.5" r="2.8"/><circle cx="745.2" cy="382.4" r="2.8"/><circle cx="739.6" cy="387.6" r="2.8"/><circle cx="743.3" cy="388.6" r="2.8"/><circle cx="738.1" cy="391.4" r="2.8"/><circle cx="745.2" cy="393.2" r="2.8"/><circle cx="739.0" cy="395.7" r="2.8"/><circle cx="740.9" cy="398.3" r="2.8"/><circle cx="736.8" cy="397.4" r="2.8"/><circle cx="776.2" cy="322.5" r="2.8"/><circle cx="785.6" cy="323.4" r="2.8"/><circle cx="761.2" cy="325.3" r="2.8"/><circle cx="782.2" cy="325.3" r="2.8"/><circle cx="789.7" cy="326.2" r="2.8"/><circle cx="764.0" cy="327.2" r="2.8"/><circle cx="781.8" cy="329.0" r="2.8"/><circle cx="800.6" cy="329.4" r="2.8"/><circle cx="772.4" cy="330.0" r="2.8"/><circle cx="806.6" cy="332.2" r="2.8"/><circle cx="778.1" cy="335.0" r="2.8"/><circle cx="768.7" cy="336.4" r="2.8"/><circle cx="765.3" cy="337.9" r="2.8"/><circle cx="776.2" cy="337.9" r="2.8"/><circle cx="761.6" cy="339.2" r="2.8"/><circle cx="796.9" cy="337.5" r="2.8"/><circle cx="802.5" cy="338.4" r="2.8"/><circle cx="775.3" cy="339.7" r="2.8"/><circle cx="795.0" cy="342.6" r="2.8"/><circle cx="771.5" cy="344.1" r="2.8"/><circle cx="794.0" cy="345.0" r="2.8"/><circle cx="804.4" cy="345.0" r="2.8"/><circle cx="801.5" cy="347.8" r="2.8"/><circle cx="760.2" cy="348.6" r="2.8"/><circle cx="769.6" cy="349.5" r="2.8"/><circle cx="763.4" cy="350.6" r="2.8"/><circle cx="792.2" cy="350.6" r="2.8"/><circle cx="792.2" cy="351.9" r="2.8"/><circle cx="761.2" cy="352.9" r="2.8"/><circle cx="770.9" cy="352.9" r="2.8"/><circle cx="778.5" cy="354.2" r="2.8"/><circle cx="791.2" cy="355.3" r="2.8"/><circle cx="766.2" cy="356.3" r="2.8"/><circle cx="770.6" cy="356.6" r="2.8"/><circle cx="789.3" cy="358.1" r="2.8"/><circle cx="798.2" cy="358.5" r="2.8"/><circle cx="787.5" cy="361.0" r="2.8"/><circle cx="761.2" cy="362.3" r="2.8"/><circle cx="784.6" cy="363.2" r="2.8"/><circle cx="788.8" cy="363.2" r="2.8"/><circle cx="759.7" cy="364.7" r="2.8"/><circle cx="781.8" cy="365.1" r="2.8"/><circle cx="765.3" cy="364.7" r="2.8"/><circle cx="805.7" cy="365.5" r="2.8"/><circle cx="773.4" cy="365.5" r="2.8"/><circle cx="778.1" cy="365.5" r="2.8"/><circle cx="761.6" cy="366.6" r="2.8"/><circle cx="766.2" cy="367.9" r="2.8"/><circle cx="768.1" cy="370.3" r="2.8"/><circle cx="781.3" cy="373.0" r="2.8"/><circle cx="789.3" cy="373.5" r="2.8"/><circle cx="791.2" cy="377.7" r="2.8"/><circle cx="804.4" cy="377.3" r="2.8"/><circle cx="774.3" cy="378.2" r="2.8"/><circle cx="801.5" cy="379.2" r="2.8"/><circle cx="798.7" cy="382.0" r="2.8"/><circle cx="764.0" cy="384.4" r="2.8"/><circle cx="796.9" cy="384.4" r="2.8"/><circle cx="776.2" cy="385.4" r="2.8"/><circle cx="772.8" cy="387.1" r="2.8"/><circle cx="795.3" cy="387.1" r="2.8"/><circle cx="782.2" cy="388.2" r="2.8"/><circle cx="762.1" cy="389.5" r="2.8"/><circle cx="794.0" cy="388.6" r="2.8"/><circle cx="786.9" cy="391.7" r="2.8"/><circle cx="798.2" cy="393.2" r="2.8"/><circle cx="776.2" cy="394.6" r="2.8"/><circle cx="784.1" cy="394.6" r="2.8"/><circle cx="786.0" cy="396.1" r="2.8"/><circle cx="771.5" cy="396.4" r="2.8"/><circle cx="803.4" cy="397.4" r="2.8"/><circle cx="768.7" cy="397.4" r="2.8"/><circle cx="767.2" cy="399.4" r="2.8"/><circle cx="739.5" cy="355.7" r="2.8"/><circle cx="741.5" cy="324.8" r="2.8"/><circle cx="743.5" cy="328.8" r="2.8"/><circle cx="741.4" cy="334.6" r="2.8"/><circle cx="741.4" cy="334.6" r="2.8"/><circle cx="745.2" cy="327.2" r="2.8"/><circle cx="740.7" cy="390.0" r="2.8"/><circle cx="737.1" cy="347.5" r="2.8"/></g><rect class="f" x="731.5" y="310.5" width="78.0" height="100.0"/>
<g fill="#1f77b4"><circle cx="836.3" cy="321.5" r="2.8"/><circle cx="839.5" cy="324.3" r="2.8"/><circle cx="834.4" cy="326.2" r="2.8"/><circle cx="830.1" cy="327.5" r="2.8"/><circle cx="838.2" cy="328.5" r="2.8"/><circle cx="833.8" cy="330.3" r="2.8"/><circle cx="840.4" cy="327.2" r="2.8"/><circle cx="831.0" cy="331.3" r="2.8"/><circle cx="835.7" cy="333.2" r="2.8"/><circle cx="838.5" cy="331.8" r="2.8"/><circle cx="832.0" cy="335.0" r="2.8"/><circle cx="834.8" cy="336.5" r="2.8"/><circle cx="831.0" cy="338.8" r="2.8"/><circle cx="832.9" cy="339.7" r="2.8"/><circle cx="840.4" cy="352.5" r="2.8"/><circle cx="831.0" cy="352.9" r="2.8"/><circle cx="833.8" cy="355.7" r="2.8"/><circle cx="834.8" cy="357.6" r="2.8"/><circle cx="832.9" cy="366.0" r="2.8"/><circle cx="838.5" cy="367.0" r="2.8"/><circle cx="830.1" cy="369.4" r="2.8"/><circle cx="835.7" cy="369.8" r="2.8"/><circle cx="832.9" cy="373.0" r="2.8"/><circle cx="838.2" cy="373.5" r="2.8"/><circle cx="831.0" cy="375.4" r="2.8"/><circle cx="835.7" cy="377.3" r="2.8"/><circle cx="832.0" cy="379.2" r="2.8"/><circle cx="836.7" cy="380.1" r="2.8"/><circle cx="840.4" cy="380.7" r="2.8"/><circle cx="831.0" cy="382.4" r="2.8"/><circle cx="834.4" cy="383.5" r="2.8"/><circle cx="829.1" cy="385.7" r="2.8"/><circle cx="832.9" cy="386.1" r="2.8"/><circle cx="830.1" cy="387.6" r="2.8"/><circle cx="837.6" cy="395.7" r="2.8"/><circle cx="830.1" cy="396.4" r="2.8"/><circle cx="834.8" cy="397.4" r="2.8"/><circle cx="832.5" cy="399.4" r="2.8"/><circle cx="853.6" cy="322.5" r="2.8"/><circle cx="856.9" cy="329.4" r="2.8"/><circle cx="862.6" cy="330.7" r="2.8"/><circle cx="875.7" cy="329.4" r="2.8"/><circle cx="878.0" cy="329.0" r="2.8"/><circle cx="898.6" cy="329.4" r="2.8"/><circle cx="855.4" cy="333.5" r="2.8"/><circle cx="892.0" cy="334.5" r="2.8"/><circle cx="870.5" cy="337.5" r="2.8"/><circle cx="883.6" cy="338.8" r="2.8"/><circle cx="860.1" cy="342.6" r="2.8"/><circle cx="856.4" cy="344.1" r="2.8"/><circle cx="887.0" cy="344.1" r="2.8"/><circle cx="895.4" cy="342.6" r="2.8"/><circle cx="899.2" cy="343.5" r="2.8"/><circle cx="892.6" cy="345.0" r="2.8"/><circle cx="865.4" cy="347.2" r="2.8"/><circle cx="888.9" cy="347.2" r="2.8"/><circle cx="854.5" cy="348.6" r="2.8"/><circle cx="878.5" cy="354.8" r="2.8"/><circle cx="894.5" cy="355.3" r="2.8"/><circle cx="861.6" cy="356.3" r="2.8"/><circle cx="867.3" cy="355.3" r="2.8"/><circle cx="875.1" cy="356.3" r="2.8"/><circle cx="869.5" cy="358.1" r="2.8"/><circle cx="890.7" cy="358.1" r="2.8"/><circle cx="889.2" cy="359.4" r="2.8"/><circle cx="864.8" cy="361.0" r="2.8"/><circle cx="872.9" cy="363.8" r="2.8"/><circle cx="860.1" cy="366.0" r="2.8"/><circle cx="853.6" cy="367.5" r="2.8"/><circle cx="858.2" cy="367.9" r="2.8"/><circle cx="875.7" cy="369.4" r="2.8"/><circle cx="860.7" cy="371.1" r="2.8"/><circle cx="892.0" cy="370.2" r="2.8"/><circle cx="888.3" cy="371.7" r="2.8"/><circle cx="885.5" cy="373.5" r="2.8"/><circle cx="866.3" cy="376.3" r="2.8"/><circle cx="871.4" cy="376.3" r="2.8"/><circle cx="876.1" cy="376.3" r="2.8"/><circle cx="882.7" cy="376.3" r="2.8"/><circle cx="900.5" cy="376.3" r="2.8"/><circle cx="880.8" cy="378.2" r="2.8"/><circle cx="885.5" cy="379.2" r="2.8"/><circle cx="896.4" cy="380.7" r="2.8"/><circle cx="869.5" cy="381.6" r="2.8"/><circle cx="873.3" cy="381.6" r="2.8"/><circle cx="877.6" cy="382.4" r="2.8"/><circle cx="883.6" cy="382.4" r="2.8"/><circle cx="856.4" cy="384.4" r="2.8"/><circle cx="898.2" cy="384.4" r="2.8"/><circle cx="881.3" cy="385.7" r="2.8"/><circle cx="866.7" cy="387.1" r="2.8"/><circle cx="865.4" cy="389.5" r="2.8"/><circle cx="860.1" cy="391.4" r="2.8"/><circle cx="879.8" cy="392.3" r="2.8"/><circle cx="889.8" cy="391.7" r="2.8"/><circle cx="893.0" cy="392.9" r="2.8"/><circle cx="894.9" cy="394.2" r="2.8"/><circle cx="896.4" cy="396.1" r="2.8"/><circle cx="897.3" cy="397.4" r="2.8"/><circle cx="863.5" cy="397.0" r="2.8"/><circle cx="871.4" cy="398.3" r="2.8"/><circle cx="854.5" cy="399.4" r="2.8"/><circle cx="877.6" cy="399.4" r="2.8"/><circle cx="835.7" cy="366.5" r="2.8"/><circle cx="831.8" cy="384.6" r="2.8"/><circle cx="832.9" cy="369.6" r="2.8"/><circle cx="838.1" cy="379.0" r="2.8"/><circle cx="832.2" cy="385.5" r="2.8"/><circle cx="836.9" cy="325.3" r="2.8"/><circle cx="832.9" cy="355.2" r="2.8"/><circle cx="836.7" cy="334.2" r="2.8"/></g><rect class="f" x="825.5" y="310.5" width="79.0" height="100.0"/>
<g fill="#1f77b4"><circle cx="926.2" cy="322.5" r="2.8"/><circle cx="930.0" cy="322.5" r="2.8"/><circle cx="924.3" cy="326.2" r="2.8"/><circle cx="926.8" cy="328.5" r="2.8"/><circle cx="933.3" cy="329.4" r="2.8"/><circle cx="932.4" cy="332.2" r="2.8"/><circle cx="934.3" cy="334.1" r="2.8"/><circle cx="929.0" cy="335.0" r="2.8"/><circle cx="931.8" cy="337.3" r="2.8"/><circle cx="928.1" cy="338.4" r="2.8"/><circle cx="923.4" cy="339.2" r="2.8"/><circle cx="932.4" cy="344.1" r="2.8"/><circle cx="934.3" cy="344.1" r="2.8"/><circle cx="924.3" cy="346.3" r="2.8"/><circle cx="926.2" cy="350.1" r="2.8"/><circle cx="931.8" cy="351.0" r="2.8"/><circle cx="924.3" cy="353.4" r="2.8"/><circle cx="929.0" cy="353.4" r="2.8"/><circle cx="934.3" cy="355.3" r="2.8"/><circle cx="926.2" cy="356.6" r="2.8"/><circle cx="930.9" cy="357.6" r="2.8"/><circle cx="923.4" cy="361.3" r="2.8"/><circle cx="929.0" cy="360.4" r="2.8"/><circle cx="925.3" cy="363.2" r="2.8"/><circle cx="928.1" cy="367.9" r="2.8"/><circle cx="923.4" cy="370.2" r="2.8"/><circle cx="933.3" cy="370.2" r="2.8"/><circle cx="928.6" cy="373.0" r="2.8"/><circle cx="928.6" cy="377.3" r="2.8"/><circle cx="931.5" cy="379.5" r="2.8"/><circle cx="927.5" cy="382.5" r="2.8"/><circle cx="926.2" cy="385.7" r="2.8"/><circle cx="934.3" cy="388.2" r="2.8"/><circle cx="927.1" cy="389.5" r="2.8"/><circle cx="926.2" cy="391.7" r="2.8"/><circle cx="932.8" cy="392.3" r="2.8"/><circle cx="923.4" cy="395.7" r="2.8"/><circle cx="930.5" cy="397.4" r="2.8"/><circle cx="955.3" cy="321.5" r="2.8"/><circle cx="954.4" cy="324.3" r="2.8"/><circle cx="971.3" cy="322.5" r="2.8"/><circle cx="975.6" cy="322.5" r="2.8"/><circle cx="984.4" cy="322.5" r="2.8"/><circle cx="987.8" cy="323.4" r="2.8"/><circle cx="973.7" cy="325.3" r="2.8"/><circle cx="967.1" cy="327.5" r="2.8"/><circle cx="978.4" cy="328.5" r="2.8"/><circle cx="987.2" cy="329.0" r="2.8"/><circle cx="947.4" cy="330.3" r="2.8"/><circle cx="956.2" cy="331.3" r="2.8"/><circle cx="950.6" cy="333.5" r="2.8"/><circle cx="959.6" cy="333.5" r="2.8"/><circle cx="963.8" cy="333.2" r="2.8"/><circle cx="990.0" cy="333.5" r="2.8"/><circle cx="969.0" cy="335.0" r="2.8"/><circle cx="962.4" cy="336.4" r="2.8"/><circle cx="988.7" cy="336.0" r="2.8"/><circle cx="968.1" cy="338.4" r="2.8"/><circle cx="980.3" cy="342.2" r="2.8"/><circle cx="993.4" cy="343.5" r="2.8"/><circle cx="950.2" cy="343.5" r="2.8"/><circle cx="949.3" cy="345.9" r="2.8"/><circle cx="960.0" cy="345.4" r="2.8"/><circle cx="959.1" cy="348.6" r="2.8"/><circle cx="974.1" cy="350.6" r="2.8"/><circle cx="970.0" cy="351.9" r="2.8"/><circle cx="994.4" cy="353.4" r="2.8"/><circle cx="960.9" cy="353.4" r="2.8"/><circle cx="957.7" cy="355.3" r="2.8"/><circle cx="985.3" cy="355.3" r="2.8"/><circle cx="973.1" cy="355.7" r="2.8"/><circle cx="991.5" cy="355.7" r="2.8"/><circle cx="990.0" cy="357.6" r="2.8"/><circle cx="975.0" cy="358.1" r="2.8"/><circle cx="981.2" cy="359.4" r="2.8"/><circle cx="964.3" cy="361.0" r="2.8"/><circle cx="967.1" cy="361.9" r="2.8"/><circle cx="948.4" cy="362.3" r="2.8"/><circle cx="976.5" cy="361.3" r="2.8"/><circle cx="976.0" cy="364.1" r="2.8"/><circle cx="965.6" cy="363.2" r="2.8"/><circle cx="979.3" cy="365.5" r="2.8"/><circle cx="971.3" cy="367.0" r="2.8"/><circle cx="984.4" cy="367.5" r="2.8"/><circle cx="991.5" cy="367.5" r="2.8"/><circle cx="989.7" cy="368.8" r="2.8"/><circle cx="964.3" cy="373.0" r="2.8"/><circle cx="970.3" cy="373.5" r="2.8"/><circle cx="949.7" cy="374.5" r="2.8"/><circle cx="952.5" cy="376.3" r="2.8"/><circle cx="983.5" cy="376.3" r="2.8"/><circle cx="957.7" cy="378.2" r="2.8"/><circle cx="960.6" cy="380.7" r="2.8"/><circle cx="986.3" cy="383.3" r="2.8"/><circle cx="948.4" cy="384.4" r="2.8"/><circle cx="963.4" cy="386.3" r="2.8"/><circle cx="953.1" cy="388.6" r="2.8"/><circle cx="958.1" cy="389.5" r="2.8"/><circle cx="948.4" cy="391.0" r="2.8"/><circle cx="972.2" cy="389.5" r="2.8"/><circle cx="982.2" cy="390.4" r="2.8"/><circle cx="951.6" cy="392.3" r="2.8"/><circle cx="977.5" cy="394.6" r="2.8"/><circle cx="953.1" cy="396.1" r="2.8"/><circle cx="956.8" cy="397.4" r="2.8"/><circle cx="968.1" cy="398.3" r="2.8"/><circle cx="950.2" cy="399.4" r="2.8"/><circle cx="926.2" cy="360.9" r="2.8"/><circle cx="929.0" cy="350.5" r="2.8"/><circle cx="930.7" cy="369.0" r="2.8"/><circle cx="931.6" cy="354.4" r="2.8"/><circle cx="931.6" cy="394.8" r="2.8"/><circle cx="931.0" cy="371.6" r="2.8"/><circle cx="924.8" cy="359.0" r="2.8"/><circle cx="926.7" cy="365.6" r="2.8"/></g><rect class="f" x="919.5" y="310.5" width="79.0" height="100.0"/>
<g fill="#1f77b4"><circle cx="1020.1" cy="322.5" r="2.8"/><circle cx="1023.5" cy="322.8" r="2.8"/><circle cx="1022.5" cy="325.7" r="2.8"/><circle cx="1025.3" cy="328.5" r="2.8"/><circle cx="1022.9" cy="331.3" r="2.8"/><circle cx="1026.3" cy="333.5" r="2.8"/><circle cx="1022.0" cy="336.0" r="2.8"/><circle cx="1018.2" cy="337.9" r="2.8"/><circle cx="1024.8" cy="338.4" r="2.8"/><circle cx="1027.2" cy="340.7" r="2.8"/><circle cx="1021.0" cy="341.6" r="2.8"/><circle cx="1017.8" cy="344.1" r="2.8"/><circle cx="1023.8" cy="344.4" r="2.8"/><circle cx="1021.0" cy="347.2" r="2.8"/><circle cx="1028.2" cy="350.6" r="2.8"/><circle cx="1022.0" cy="351.9" r="2.8"/><circle cx="1021.0" cy="354.8" r="2.8"/><circle cx="1026.3" cy="355.7" r="2.8"/><circle cx="1022.9" cy="358.1" r="2.8"/><circle cx="1018.2" cy="361.3" r="2.8"/><circle cx="1021.0" cy="361.0" r="2.8"/><circle cx="1028.2" cy="365.5" r="2.8"/><circle cx="1023.5" cy="366.6" r="2.8"/><circle cx="1017.3" cy="370.2" r="2.8"/><circle cx="1027.2" cy="370.2" r="2.8"/><circle cx="1022.5" cy="373.5" r="2.8"/><circle cx="1018.2" cy="377.3" r="2.8"/><circle cx="1020.1" cy="380.7" r="2.8"/><circle cx="1022.0" cy="383.9" r="2.8"/><circle cx="1021.0" cy="386.7" r="2.8"/><circle cx="1022.9" cy="388.6" r="2.8"/><circle cx="1018.2" cy="389.5" r="2.8"/><circle cx="1025.7" cy="392.3" r="2.8"/><circle cx="1028.2" cy="393.2" r="2.8"/><circle cx="1027.2" cy="394.7" r="2.8"/><circle cx="1041.3" cy="323.4" r="2.8"/><circle cx="1052.0" cy="322.5" r="2.8"/><circle cx="1055.4" cy="322.8" r="2.8"/><circle cx="1058.2" cy="323.8" r="2.8"/><circle cx="1070.4" cy="323.4" r="2.8"/><circle cx="1064.8" cy="324.3" r="2.8"/><circle cx="1083.5" cy="325.3" r="2.8"/><circle cx="1067.6" cy="326.2" r="2.8"/><circle cx="1044.1" cy="333.5" r="2.8"/><circle cx="1058.2" cy="334.1" r="2.8"/><circle cx="1073.6" cy="334.1" r="2.8"/><circle cx="1082.6" cy="334.5" r="2.8"/><circle cx="1076.0" cy="337.3" r="2.8"/><circle cx="1062.3" cy="337.3" r="2.8"/><circle cx="1063.3" cy="340.7" r="2.8"/><circle cx="1052.6" cy="341.2" r="2.8"/><circle cx="1084.5" cy="342.6" r="2.8"/><circle cx="1048.2" cy="345.0" r="2.8"/><circle cx="1080.2" cy="345.4" r="2.8"/><circle cx="1065.1" cy="346.3" r="2.8"/><circle cx="1078.3" cy="348.2" r="2.8"/><circle cx="1053.5" cy="350.6" r="2.8"/><circle cx="1061.0" cy="350.6" r="2.8"/><circle cx="1051.6" cy="352.5" r="2.8"/><circle cx="1062.9" cy="353.4" r="2.8"/><circle cx="1072.3" cy="353.4" r="2.8"/><circle cx="1079.8" cy="353.4" r="2.8"/><circle cx="1084.5" cy="354.8" r="2.8"/><circle cx="1064.2" cy="356.1" r="2.8"/><circle cx="1051.1" cy="356.6" r="2.8"/><circle cx="1045.1" cy="360.0" r="2.8"/><circle cx="1041.3" cy="361.3" r="2.8"/><circle cx="1069.5" cy="361.9" r="2.8"/><circle cx="1074.2" cy="367.0" r="2.8"/><circle cx="1051.6" cy="367.5" r="2.8"/><circle cx="1049.2" cy="368.8" r="2.8"/><circle cx="1085.4" cy="367.0" r="2.8"/><circle cx="1086.4" cy="370.2" r="2.8"/><circle cx="1058.6" cy="371.1" r="2.8"/><circle cx="1043.2" cy="373.5" r="2.8"/><circle cx="1055.8" cy="375.4" r="2.8"/><circle cx="1077.3" cy="376.3" r="2.8"/><circle cx="1087.3" cy="377.3" r="2.8"/><circle cx="1045.1" cy="381.0" r="2.8"/><circle cx="1066.6" cy="380.7" r="2.8"/><circle cx="1075.1" cy="381.0" r="2.8"/><circle cx="1054.4" cy="382.9" r="2.8"/><circle cx="1059.5" cy="382.9" r="2.8"/><circle cx="1077.0" cy="382.4" r="2.8"/><circle cx="1081.7" cy="385.4" r="2.8"/><circle cx="1068.9" cy="384.8" r="2.8"/><circle cx="1043.6" cy="385.7" r="2.8"/><circle cx="1047.3" cy="387.1" r="2.8"/><circle cx="1064.2" cy="388.2" r="2.8"/><circle cx="1088.2" cy="390.1" r="2.8"/><circle cx="1052.9" cy="390.8" r="2.8"/><circle cx="1061.0" cy="390.4" r="2.8"/><circle cx="1072.7" cy="389.5" r="2.8"/><circle cx="1042.2" cy="392.3" r="2.8"/><circle cx="1058.2" cy="394.6" r="2.8"/><circle cx="1048.2" cy="394.2" r="2.8"/><circle cx="1081.7" cy="395.7" r="2.8"/><circle cx="1045.4" cy="397.4" r="2.8"/><circle cx="1047.3" cy="396.4" r="2.8"/><circle cx="1067.0" cy="399.4" r="2.8"/><circle cx="1021.5" cy="338.8" r="2.8"/><circle cx="1020.4" cy="375.4" r="2.8"/><circle cx="1024.1" cy="353.8" r="2.8"/><circle cx="1020.6" cy="359.7" r="2.8"/><circle cx="1022.7" cy="328.5" r="2.8"/><circle cx="1021.0" cy="344.4" r="2.8"/><circle cx="1024.9" cy="371.8" r="2.8"/><circle cx="1024.4" cy="325.7" r="2.8"/></g><rect class="f" x="1013.5" y="310.5" width="79.0" height="100.0"/>
<g fill="#1f77b4"><circle cx="1115.3" cy="324.3" r="2.8"/><circle cx="1112.6" cy="327.2" r="2.8"/><circle cx="1119.6" cy="328.5" r="2.8"/><circle cx="1119.6" cy="333.2" r="2.8"/><circle cx="1115.8" cy="334.5" r="2.8"/><circle cx="1112.1" cy="335.0" r="2.8"/><circle cx="1118.7" cy="336.9" r="2.8"/><circle cx="1114.0" cy="338.4" r="2.8"/><circle cx="1117.7" cy="340.3" r="2.8"/><circle cx="1123.4" cy="340.3" r="2.8"/><circle cx="1120.5" cy="342.6" r="2.8"/><circle cx="1117.7" cy="345.0" r="2.8"/><circle cx="1115.8" cy="347.2" r="2.8"/><circle cx="1112.1" cy="350.6" r="2.8"/><circle cx="1122.0" cy="352.5" r="2.8"/><circle cx="1112.6" cy="354.8" r="2.8"/><circle cx="1120.5" cy="361.3" r="2.8"/><circle cx="1115.3" cy="365.1" r="2.8"/><circle cx="1121.5" cy="366.6" r="2.8"/><circle cx="1114.0" cy="367.9" r="2.8"/><circle cx="1116.4" cy="370.7" r="2.8"/><circle cx="1117.7" cy="373.0" r="2.8"/><circle cx="1113.4" cy="375.0" r="2.8"/><circle cx="1122.4" cy="376.3" r="2.8"/><circle cx="1112.1" cy="377.9" r="2.8"/><circle cx="1115.8" cy="378.6" r="2.8"/><circle cx="1114.0" cy="382.5" r="2.8"/><circle cx="1113.0" cy="387.6" r="2.8"/><circle cx="1117.7" cy="391.0" r="2.8"/><circle cx="1121.5" cy="391.0" r="2.8"/><circle cx="1115.8" cy="392.9" r="2.8"/><circle cx="1120.2" cy="393.2" r="2.8"/><circle cx="1113.4" cy="395.1" r="2.8"/><circle cx="1118.7" cy="395.7" r="2.8"/><circle cx="1122.4" cy="394.7" r="2.8"/><circle cx="1116.8" cy="397.9" r="2.8"/><circle cx="1178.4" cy="322.5" r="2.8"/><circle cx="1177.8" cy="323.8" r="2.8"/><circle cx="1143.6" cy="325.3" r="2.8"/><circle cx="1153.4" cy="324.3" r="2.8"/><circle cx="1149.3" cy="325.3" r="2.8"/><circle cx="1160.5" cy="324.3" r="2.8"/><circle cx="1137.4" cy="327.5" r="2.8"/><circle cx="1169.4" cy="327.5" r="2.8"/><circle cx="1160.0" cy="327.5" r="2.8"/><circle cx="1148.3" cy="328.5" r="2.8"/><circle cx="1135.6" cy="332.6" r="2.8"/><circle cx="1158.6" cy="332.6" r="2.8"/><circle cx="1179.3" cy="333.5" r="2.8"/><circle cx="1141.2" cy="333.5" r="2.8"/><circle cx="1144.0" cy="334.5" r="2.8"/><circle cx="1164.3" cy="335.0" r="2.8"/><circle cx="1172.7" cy="334.1" r="2.8"/><circle cx="1157.7" cy="337.3" r="2.8"/><circle cx="1150.2" cy="338.8" r="2.8"/><circle cx="1167.1" cy="338.4" r="2.8"/><circle cx="1154.3" cy="339.7" r="2.8"/><circle cx="1157.7" cy="339.7" r="2.8"/><circle cx="1181.6" cy="340.3" r="2.8"/><circle cx="1145.5" cy="343.5" r="2.8"/><circle cx="1148.3" cy="343.5" r="2.8"/><circle cx="1156.2" cy="343.5" r="2.8"/><circle cx="1175.5" cy="344.4" r="2.8"/><circle cx="1155.3" cy="346.7" r="2.8"/><circle cx="1182.5" cy="346.7" r="2.8"/><circle cx="1162.4" cy="352.5" r="2.8"/><circle cx="1136.1" cy="353.4" r="2.8"/><circle cx="1139.9" cy="355.3" r="2.8"/><circle cx="1156.2" cy="355.3" r="2.8"/><circle cx="1137.4" cy="356.6" r="2.8"/><circle cx="1140.2" cy="359.4" r="2.8"/><circle cx="1150.2" cy="360.4" r="2.8"/><circle cx="1171.2" cy="361.0" r="2.8"/><circle cx="1135.6" cy="363.2" r="2.8"/><circle cx="1144.0" cy="365.1" r="2.8"/><circle cx="1146.8" cy="366.0" r="2.8"/><circle cx="1138.4" cy="369.4" r="2.8"/><circle cx="1148.7" cy="369.4" r="2.8"/><circle cx="1152.5" cy="370.7" r="2.8"/><circle cx="1173.7" cy="371.1" r="2.8"/><circle cx="1153.4" cy="373.5" r="2.8"/><circle cx="1163.3" cy="374.5" r="2.8"/><circle cx="1143.6" cy="376.3" r="2.8"/><circle cx="1169.4" cy="376.3" r="2.8"/><circle cx="1151.5" cy="377.3" r="2.8"/><circle cx="1168.0" cy="379.2" r="2.8"/><circle cx="1166.5" cy="380.7" r="2.8"/><circle cx="1137.4" cy="383.3" r="2.8"/><circle cx="1161.5" cy="385.4" r="2.8"/><circle cx="1153.0" cy="385.7" r="2.8"/><circle cx="1177.4" cy="387.1" r="2.8"/><circle cx="1163.3" cy="387.6" r="2.8"/><circle cx="1148.7" cy="388.2" r="2.8"/><circle cx="1146.8" cy="389.5" r="2.8"/><circle cx="1136.5" cy="389.5" r="2.8"/><circle cx="1170.3" cy="388.9" r="2.8"/><circle cx="1174.6" cy="389.5" r="2.8"/><circle cx="1164.7" cy="390.4" r="2.8"/><circle cx="1140.2" cy="391.4" r="2.8"/><circle cx="1167.5" cy="391.7" r="2.8"/><circle cx="1180.2" cy="391.7" r="2.8"/><circle cx="1156.2" cy="392.3" r="2.8"/><circle cx="1181.6" cy="393.8" r="2.8"/><circle cx="1176.5" cy="395.7" r="2.8"/><circle cx="1172.7" cy="397.0" r="2.8"/><circle cx="1142.1" cy="397.0" r="2.8"/><circle cx="1144.9" cy="398.3" r="2.8"/><circle cx="1165.2" cy="398.3" r="2.8"/><circle cx="1115.8" cy="367.9" r="2.8"/><circle cx="1120.5" cy="340.3" r="2.8"/><circle cx="1120.1" cy="374.7" r="2.8"/><circle cx="1118.5" cy="395.6" r="2.8"/><circle cx="1115.4" cy="389.3" r="2.8"/><circle cx="1121.0" cy="338.6" r="2.8"/><circle cx="1120.1" cy="393.3" r="2.8"/><circle cx="1118.7" cy="391.9" r="2.8"/></g><rect class="f" x="1107.5" y="310.5" width="79.0" height="100.0"/>
<g fill="#1f77b4"><circle cx="1209.5" cy="321.5" r="2.8"/><circle cx="1214.4" cy="324.3" r="2.8"/><circle cx="1208.8" cy="327.5" r="2.8"/><circle cx="1210.1" cy="329.4" r="2.8"/><circle cx="1207.6" cy="331.3" r="2.8"/><circle cx="1211.0" cy="333.2" r="2.8"/><circle cx="1216.3" cy="334.5" r="2.8"/><circle cx="1213.8" cy="336.5" r="2.8"/><circle cx="1209.1" cy="337.9" r="2.8"/><circle cx="1205.4" cy="339.7" r="2.8"/><circle cx="1210.6" cy="340.7" r="2.8"/><circle cx="1207.3" cy="343.1" r="2.8"/><circle cx="1209.1" cy="345.0" r="2.8"/><circle cx="1216.3" cy="346.3" r="2.8"/><circle cx="1206.3" cy="347.8" r="2.8"/><circle cx="1213.8" cy="348.6" r="2.8"/><circle cx="1212.0" cy="351.0" r="2.8"/><circle cx="1210.1" cy="353.4" r="2.8"/><circle cx="1208.2" cy="355.7" r="2.8"/><circle cx="1214.8" cy="356.1" r="2.8"/><circle cx="1212.0" cy="358.5" r="2.8"/><circle cx="1216.3" cy="361.0" r="2.8"/><circle cx="1212.9" cy="361.3" r="2.8"/><circle cx="1214.8" cy="363.8" r="2.8"/><circle cx="1211.0" cy="369.4" r="2.8"/><circle cx="1213.5" cy="369.4" r="2.8"/><circle cx="1207.3" cy="377.3" r="2.8"/><circle cx="1205.4" cy="379.5" r="2.8"/><circle cx="1206.3" cy="380.7" r="2.8"/><circle cx="1212.5" cy="381.0" r="2.8"/><circle cx="1213.8" cy="384.4" r="2.8"/><circle cx="1217.6" cy="384.4" r="2.8"/><circle cx="1210.1" cy="392.3" r="2.8"/><circle cx="1212.0" cy="396.1" r="2.8"/><circle cx="1210.1" cy="397.4" r="2.8"/><circle cx="1229.4" cy="321.5" r="2.8"/><circle cx="1233.6" cy="322.5" r="2.8"/><circle cx="1237.3" cy="321.5" r="2.8"/><circle cx="1252.3" cy="322.8" r="2.8"/><circle cx="1257.0" cy="322.5" r="2.8"/><circle cx="1231.7" cy="325.3" r="2.8"/><circle cx="1240.7" cy="324.3" r="2.8"/><circle cx="1245.4" cy="325.3" r="2.8"/><circle cx="1270.7" cy="325.3" r="2.8"/><circle cx="1231.3" cy="328.5" r="2.8"/><circle cx="1267.3" cy="328.5" r="2.8"/><circle cx="1265.1" cy="330.0" r="2.8"/><circle cx="1232.6" cy="330.3" r="2.8"/><circle cx="1235.4" cy="332.2" r="2.8"/><circle cx="1237.3" cy="333.2" r="2.8"/><circle cx="1274.5" cy="335.0" r="2.8"/><circle cx="1243.5" cy="337.3" r="2.8"/><circle cx="1245.4" cy="337.3" r="2.8"/><circle cx="1260.8" cy="339.2" r="2.8"/><circle cx="1263.6" cy="338.8" r="2.8"/><circle cx="1273.5" cy="339.2" r="2.8"/><circle cx="1238.8" cy="340.3" r="2.8"/><circle cx="1244.4" cy="344.4" r="2.8"/><circle cx="1236.4" cy="347.8" r="2.8"/><circle cx="1242.0" cy="348.6" r="2.8"/><circle cx="1256.1" cy="348.6" r="2.8"/><circle cx="1260.8" cy="349.5" r="2.8"/><circle cx="1272.0" cy="348.6" r="2.8"/><circle cx="1238.2" cy="350.1" r="2.8"/><circle cx="1258.9" cy="351.4" r="2.8"/><circle cx="1263.6" cy="350.6" r="2.8"/><circle cx="1270.7" cy="351.0" r="2.8"/><circle cx="1243.9" cy="351.9" r="2.8"/><circle cx="1235.4" cy="352.5" r="2.8"/><circle cx="1232.6" cy="354.8" r="2.8"/><circle cx="1242.6" cy="354.8" r="2.8"/><circle cx="1249.1" cy="353.8" r="2.8"/><circle cx="1269.8" cy="354.8" r="2.8"/><circle cx="1275.4" cy="355.3" r="2.8"/><circle cx="1253.3" cy="359.4" r="2.8"/><circle cx="1250.4" cy="361.0" r="2.8"/><circle cx="1272.6" cy="361.3" r="2.8"/><circle cx="1248.6" cy="363.8" r="2.8"/><circle cx="1250.4" cy="366.0" r="2.8"/><circle cx="1233.2" cy="367.5" r="2.8"/><circle cx="1276.4" cy="367.5" r="2.8"/><circle cx="1252.3" cy="368.5" r="2.8"/><circle cx="1231.7" cy="370.7" r="2.8"/><circle cx="1258.5" cy="370.3" r="2.8"/><circle cx="1247.3" cy="371.1" r="2.8"/><circle cx="1234.5" cy="372.0" r="2.8"/><circle cx="1239.2" cy="374.1" r="2.8"/><circle cx="1251.4" cy="374.5" r="2.8"/><circle cx="1254.8" cy="376.0" r="2.8"/><circle cx="1229.4" cy="377.3" r="2.8"/><circle cx="1235.4" cy="376.3" r="2.8"/><circle cx="1240.1" cy="377.3" r="2.8"/><circle cx="1261.3" cy="377.3" r="2.8"/><circle cx="1263.6" cy="377.3" r="2.8"/><circle cx="1275.4" cy="377.3" r="2.8"/><circle cx="1230.7" cy="379.5" r="2.8"/><circle cx="1239.7" cy="379.5" r="2.8"/><circle cx="1248.2" cy="379.5" r="2.8"/><circle cx="1246.3" cy="381.0" r="2.8"/><circle cx="1268.3" cy="381.0" r="2.8"/><circle cx="1234.5" cy="383.3" r="2.8"/><circle cx="1239.7" cy="383.3" r="2.8"/><circle cx="1267.0" cy="383.3" r="2.8"/><circle cx="1266.4" cy="385.4" r="2.8"/><circle cx="1230.4" cy="389.5" r="2.8"/><circle cx="1256.1" cy="391.4" r="2.8"/><circle cx="1254.8" cy="392.3" r="2.8"/><circle cx="1241.6" cy="395.1" r="2.8"/><circle cx="1256.6" cy="396.1" r="2.8"/><circle cx="1259.5" cy="399.4" r="2.8"/><circle cx="1242.6" cy="400.4" r="2.8"/><circle cx="1212.0" cy="322.9" r="2.8"/><circle cx="1214.1" cy="366.6" r="2.8"/><circle cx="1213.4" cy="353.5" r="2.8"/><circle cx="1213.8" cy="358.7" r="2.8"/><circle cx="1208.2" cy="340.5" r="2.8"/><circle cx="1211.5" cy="346.8" r="2.8"/><circle cx="1213.4" cy="361.1" r="2.8"/><circle cx="1213.6" cy="333.8" r="2.8"/></g><rect class="f" x="1201.5" y="310.5" width="79.0" height="100.0"/>
<rect class="f" x="1295.5" y="310.5" width="79.0" height="100.0"/>
<rect class="f" x="1389.5" y="310.5" width="79.0" height="100.0"/>
<g fill="#1f77b4"><circle cx="77.4" cy="443.5" r="2.8"/><circle cx="87.3" cy="442.5" r="2.8"/><circle cx="83.0" cy="444.8" r="2.8"/><circle cx="86.4" cy="447.2" r="2.8"/><circle cx="88.3" cy="450.0" r="2.8"/><circle cx="81.1" cy="451.3" r="2.8"/><circle cx="84.0" cy="452.3" r="2.8"/><circle cx="81.1" cy="455.5" r="2.8"/><circle cx="85.8" cy="459.4" r="2.8"/><circle cx="80.8" cy="463.6" r="2.8"/><circle cx="84.5" cy="462.6" r="2.8"/><circle cx="88.3" cy="466.4" r="2.8"/><circle cx="84.5" cy="467.3" r="2.8"/><circle cx="80.2" cy="468.8" r="2.8"/><circle cx="77.4" cy="470.5" r="2.8"/><circle cx="82.1" cy="472.0" r="2.8"/><circle cx="87.3" cy="476.3" r="2.8"/><circle cx="77.4" cy="480.4" r="2.8"/><circle cx="81.1" cy="480.4" r="2.8"/><circle cx="84.5" cy="482.0" r="2.8"/><circle cx="88.3" cy="482.3" r="2.8"/><circle cx="78.3" cy="483.3" r="2.8"/><circle cx="82.1" cy="484.8" r="2.8"/><circle cx="79.3" cy="486.5" r="2.8"/><circle cx="85.8" cy="486.5" r="2.8"/><circle cx="80.2" cy="488.3" r="2.8"/><circle cx="76.4" cy="494.5" r="2.8"/><circle cx="82.1" cy="495.1" r="2.8"/><circle cx="85.5" cy="494.5" r="2.8"/><circle cx="83.0" cy="506.7" r="2.8"/><circle cx="78.3" cy="508.1" r="2.8"/><circle cx="79.3" cy="511.4" r="2.8"/><circle cx="78.3" cy="512.7" r="2.8"/><circle cx="81.1" cy="514.2" r="2.8"/><circle cx="79.3" cy="518.4" r="2.8"/><circle cx="86.4" cy="520.4" r="2.8"/><circle cx="113.6" cy="442.5" r="2.8"/><circle cx="133.3" cy="442.5" r="2.8"/><circle cx="100.3" cy="444.4" r="2.8"/><circle cx="105.2" cy="444.4" r="2.8"/><circle cx="117.8" cy="444.4" r="2.8"/><circle cx="121.1" cy="444.8" r="2.8"/><circle cx="146.5" cy="446.3" r="2.8"/><circle cx="112.7" cy="445.3" r="2.8"/><circle cx="123.4" cy="447.2" r="2.8"/><circle cx="128.1" cy="448.5" r="2.8"/><circle cx="101.4" cy="450.4" r="2.8"/><circle cx="117.8" cy="450.4" r="2.8"/><circle cx="103.7" cy="454.2" r="2.8"/><circle cx="108.9" cy="454.5" r="2.8"/><circle cx="114.9" cy="454.5" r="2.8"/><circle cx="124.0" cy="454.5" r="2.8"/><circle cx="108.9" cy="457.0" r="2.8"/><circle cx="138.4" cy="455.5" r="2.8"/><circle cx="144.0" cy="456.4" r="2.8"/><circle cx="132.4" cy="457.4" r="2.8"/><circle cx="124.3" cy="457.9" r="2.8"/><circle cx="127.1" cy="459.8" r="2.8"/><circle cx="106.5" cy="461.3" r="2.8"/><circle cx="140.9" cy="460.2" r="2.8"/><circle cx="111.6" cy="463.2" r="2.8"/><circle cx="131.5" cy="463.6" r="2.8"/><circle cx="120.2" cy="465.4" r="2.8"/><circle cx="128.1" cy="465.4" r="2.8"/><circle cx="125.8" cy="466.9" r="2.8"/><circle cx="148.4" cy="466.0" r="2.8"/><circle cx="140.3" cy="467.3" r="2.8"/><circle cx="121.1" cy="469.6" r="2.8"/><circle cx="103.3" cy="471.1" r="2.8"/><circle cx="145.5" cy="471.1" r="2.8"/><circle cx="114.0" cy="472.4" r="2.8"/><circle cx="129.6" cy="472.0" r="2.8"/><circle cx="114.9" cy="475.2" r="2.8"/><circle cx="117.8" cy="477.6" r="2.8"/><circle cx="120.2" cy="479.5" r="2.8"/><circle cx="137.5" cy="479.5" r="2.8"/><circle cx="122.8" cy="481.4" r="2.8"/><circle cx="109.3" cy="481.4" r="2.8"/><circle cx="128.5" cy="484.6" r="2.8"/><circle cx="112.7" cy="488.9" r="2.8"/><circle cx="147.4" cy="490.4" r="2.8"/><circle cx="105.6" cy="490.8" r="2.8"/><circle cx="135.6" cy="489.8" r="2.8"/><circle cx="130.5" cy="491.3" r="2.8"/><circle cx="110.8" cy="493.0" r="2.8"/><circle cx="135.2" cy="493.0" r="2.8"/><circle cx="125.3" cy="495.5" r="2.8"/><circle cx="141.8" cy="496.4" r="2.8"/><circle cx="124.3" cy="499.2" r="2.8"/><circle cx="107.4" cy="500.5" r="2.8"/><circle cx="102.4" cy="501.7" r="2.8"/><circle cx="104.2" cy="503.9" r="2.8"/><circle cx="101.4" cy="505.4" r="2.8"/><circle cx="106.5" cy="505.4" r="2.8"/><circle cx="139.3" cy="505.4" r="2.8"/><circle cx="121.5" cy="507.3" r="2.8"/><circle cx="105.2" cy="508.1" r="2.8"/><circle cx="143.7" cy="508.1" r="2.8"/><circle cx="104.2" cy="510.5" r="2.8"/><circle cx="136.2" cy="510.5" r="2.8"/><circle cx="132.8" cy="511.4" r="2.8"/><circle cx="110.8" cy="512.4" r="2.8"/><circle cx="145.0" cy="512.4" r="2.8"/><circle cx="142.7" cy="515.2" r="2.8"/><circle cx="102.4" cy="516.5" r="2.8"/><circle cx="117.4" cy="516.5" r="2.8"/><circle cx="105.6" cy="518.0" r="2.8"/><circle cx="108.4" cy="519.3" r="2.8"/><circle cx="78.8" cy="515.6" r="2.8"/><circle cx="79.3" cy="494.8" r="2.8"/><circle cx="85.2" cy="449.8" r="2.8"/><circle cx="80.2" cy="444.1" r="2.8"/><circle cx="83.0" cy="487.4" r="2.8"/><circle cx="79.3" cy="485.8" r="2.8"/><circle cx="81.1" cy="509.1" r="2.8"/><circle cx="87.8" cy="479.3" r="2.8"/></g><rect class="f" x="73.5" y="431.5" width="78.0" height="100.0"/><line x1="102.5" y1="531.5" x2="102.5" y2="536.5"/><text transform="translate(102.69,553.00) scale(1.000,1.000)" font-size="13.89" text-anchor="middle">2.50</text><line x1="148.5" y1="531.5" x2="148.5" y2="536.5"/><text transform="translate(148.49,553.00) scale(1.000,1.000)" font-size="13.89" text-anchor="middle">5.00</text><line x1="68.5" y1="449.5" x2="73.5" y2="449.5"/><text transform="translate(63.30,455.00) scale(1.000,1.000)" font-size="13.89" text-anchor="end">2.5</text><line x1="68.5" y1="481.5" x2="73.5" y2="481.5"/><text transform="translate(63.30,487.00) scale(1.000,1.000)" font-size="13.89" text-anchor="end">0.0</text><line x1="68.5" y1="512.5" x2="73.5" y2="512.5"/><text transform="translate(63.30,518.00) scale(1.000,1.000)" font-size="13.89" text-anchor="end">−2.5</text><text transform="translate(20.00,483.00) rotate(-90) scale(1.000,1.000)" font-size="13.89" text-anchor="middle">YX Phase</text>
<rect class="f" x="167.5" y="431.5" width="78.0" height="100.0"/><line x1="170.5" y1="531.5" x2="170.5" y2="536.5"/><text transform="translate(170.99,553.00) scale(1.000,1.000)" font-size="13.89" text-anchor="middle">-0.05</text><line x1="206.5" y1="531.5" x2="206.5" y2="536.5"/><text transform="translate(206.61,553.00) scale(1.000,1.000)" font-size="13.89" text-anchor="middle">0.00</text><line x1="242.5" y1="531.5" x2="242.5" y2="536.5"/><text transform="translate(242.22,553.00) scale(1.000,1.000)" font-size="13.89" text-anchor="middle">0.05</text>
<g fill="#1f77b4"><circle cx="267.4" cy="446.3" r="2.8"/><circle cx="276.4" cy="449.5" r="2.8"/><circle cx="269.8" cy="451.3" r="2.8"/><circle cx="274.2" cy="454.2" r="2.8"/><circle cx="266.1" cy="456.0" r="2.8"/><circle cx="270.8" cy="457.0" r="2.8"/><circle cx="267.0" cy="459.8" r="2.8"/><circle cx="271.7" cy="460.7" r="2.8"/><circle cx="275.5" cy="460.7" r="2.8"/><circle cx="264.2" cy="464.5" r="2.8"/><circle cx="268.9" cy="463.6" r="2.8"/><circle cx="273.6" cy="464.5" r="2.8"/><circle cx="270.8" cy="466.0" r="2.8"/><circle cx="276.4" cy="466.4" r="2.8"/><circle cx="275.5" cy="471.1" r="2.8"/><circle cx="269.8" cy="479.5" r="2.8"/><circle cx="266.1" cy="481.4" r="2.8"/><circle cx="276.4" cy="481.4" r="2.8"/><circle cx="268.9" cy="483.3" r="2.8"/><circle cx="269.8" cy="486.1" r="2.8"/><circle cx="274.2" cy="488.0" r="2.8"/><circle cx="268.0" cy="492.1" r="2.8"/><circle cx="272.7" cy="491.7" r="2.8"/><circle cx="269.8" cy="494.5" r="2.8"/><circle cx="271.7" cy="497.0" r="2.8"/><circle cx="268.9" cy="498.3" r="2.8"/><circle cx="273.6" cy="499.2" r="2.8"/><circle cx="270.8" cy="501.1" r="2.8"/><circle cx="274.5" cy="503.0" r="2.8"/><circle cx="269.8" cy="503.9" r="2.8"/><circle cx="274.2" cy="505.4" r="2.8"/><circle cx="266.1" cy="507.3" r="2.8"/><circle cx="268.9" cy="509.6" r="2.8"/><circle cx="266.1" cy="513.9" r="2.8"/><circle cx="269.8" cy="514.2" r="2.8"/><circle cx="267.0" cy="516.7" r="2.8"/><circle cx="274.5" cy="517.4" r="2.8"/><circle cx="269.8" cy="518.0" r="2.8"/><circle cx="293.3" cy="441.0" r="2.8"/><circle cx="323.4" cy="442.5" r="2.8"/><circle cx="325.2" cy="442.5" r="2.8"/><circle cx="289.6" cy="445.3" r="2.8"/><circle cx="310.2" cy="445.3" r="2.8"/><circle cx="330.5" cy="446.3" r="2.8"/><circle cx="306.5" cy="448.5" r="2.8"/><circle cx="298.6" cy="448.5" r="2.8"/><circle cx="312.6" cy="449.5" r="2.8"/><circle cx="318.3" cy="449.5" r="2.8"/><circle cx="288.6" cy="451.3" r="2.8"/><circle cx="298.0" cy="451.3" r="2.8"/><circle cx="318.7" cy="451.3" r="2.8"/><circle cx="325.2" cy="452.3" r="2.8"/><circle cx="300.8" cy="454.2" r="2.8"/><circle cx="311.7" cy="454.2" r="2.8"/><circle cx="320.5" cy="454.2" r="2.8"/><circle cx="290.1" cy="455.5" r="2.8"/><circle cx="302.7" cy="457.4" r="2.8"/><circle cx="305.5" cy="458.9" r="2.8"/><circle cx="291.4" cy="459.4" r="2.8"/><circle cx="318.7" cy="462.2" r="2.8"/><circle cx="321.5" cy="462.2" r="2.8"/><circle cx="334.2" cy="465.4" r="2.8"/><circle cx="296.1" cy="469.6" r="2.8"/><circle cx="290.5" cy="470.5" r="2.8"/><circle cx="298.0" cy="471.6" r="2.8"/><circle cx="333.3" cy="473.5" r="2.8"/><circle cx="311.7" cy="476.3" r="2.8"/><circle cx="321.5" cy="477.3" r="2.8"/><circle cx="292.4" cy="478.2" r="2.8"/><circle cx="309.3" cy="478.6" r="2.8"/><circle cx="314.9" cy="480.4" r="2.8"/><circle cx="307.4" cy="481.4" r="2.8"/><circle cx="306.1" cy="482.9" r="2.8"/><circle cx="326.2" cy="482.9" r="2.8"/><circle cx="294.2" cy="484.8" r="2.8"/><circle cx="327.1" cy="487.0" r="2.8"/><circle cx="298.9" cy="489.3" r="2.8"/><circle cx="308.3" cy="489.8" r="2.8"/><circle cx="322.4" cy="489.5" r="2.8"/><circle cx="329.9" cy="489.8" r="2.8"/><circle cx="290.5" cy="491.3" r="2.8"/><circle cx="308.9" cy="492.7" r="2.8"/><circle cx="330.9" cy="492.7" r="2.8"/><circle cx="335.6" cy="493.0" r="2.8"/><circle cx="297.1" cy="493.6" r="2.8"/><circle cx="299.9" cy="494.0" r="2.8"/><circle cx="310.2" cy="494.5" r="2.8"/><circle cx="327.1" cy="496.4" r="2.8"/><circle cx="314.5" cy="496.4" r="2.8"/><circle cx="336.5" cy="500.5" r="2.8"/><circle cx="298.9" cy="500.5" r="2.8"/><circle cx="295.2" cy="503.0" r="2.8"/><circle cx="309.3" cy="503.0" r="2.8"/><circle cx="319.6" cy="504.3" r="2.8"/><circle cx="324.3" cy="504.3" r="2.8"/><circle cx="292.0" cy="506.4" r="2.8"/><circle cx="305.1" cy="509.2" r="2.8"/><circle cx="304.2" cy="511.4" r="2.8"/><circle cx="316.8" cy="511.4" r="2.8"/><circle cx="314.0" cy="512.4" r="2.8"/><circle cx="333.3" cy="513.3" r="2.8"/><circle cx="303.6" cy="514.2" r="2.8"/><circle cx="296.1" cy="516.7" r="2.8"/><circle cx="294.2" cy="517.4" r="2.8"/><circle cx="302.7" cy="518.0" r="2.8"/><circle cx="307.4" cy="518.0" r="2.8"/><circle cx="329.9" cy="518.0" r="2.8"/><circle cx="316.4" cy="519.3" r="2.8"/><circle cx="328.0" cy="519.3" r="2.8"/><circle cx="269.4" cy="501.1" r="2.8"/><circle cx="269.4" cy="506.7" r="2.8"/><circle cx="270.3" cy="454.2" r="2.8"/><circle cx="275.9" cy="463.6" r="2.8"/><circle cx="272.2" cy="515.8" r="2.8"/><circle cx="273.6" cy="466.2" r="2.8"/><circle cx="268.6" cy="448.8" r="2.8"/><circle cx="268.0" cy="515.9" r="2.8"/></g><rect class="f" x="261.5" y="431.5" width="78.0" height="100.0"/><line x1="290.5" y1="531.5" x2="290.5" y2="536.5"/><text transform="translate(290.76,553.00) scale(1.000,1.000)" font-size="13.89" text-anchor="middle">2.50</text><line x1="336.5" y1="531.5" x2="336.5" y2="536.5"/><text transform="translate(336.56,553.00) scale(1.000,1.000)" font-size="13.89" text-anchor="middle">5.00</text>
<g fill="#1f77b4"><circle cx="366.5" cy="442.5" r="2.8"/><circle cx="364.6" cy="445.3" r="2.8"/><circle cx="360.3" cy="448.5" r="2.8"/><circle cx="367.8" cy="449.5" r="2.8"/><circle cx="361.3" cy="452.3" r="2.8"/><circle cx="359.4" cy="454.2" r="2.8"/><circle cx="369.3" cy="456.4" r="2.8"/><circle cx="365.0" cy="462.2" r="2.8"/><circle cx="366.9" cy="465.1" r="2.8"/><circle cx="362.2" cy="476.3" r="2.8"/><circle cx="367.5" cy="476.3" r="2.8"/><circle cx="360.3" cy="479.1" r="2.8"/><circle cx="370.3" cy="480.4" r="2.8"/><circle cx="363.1" cy="481.4" r="2.8"/><circle cx="359.4" cy="483.3" r="2.8"/><circle cx="364.6" cy="484.2" r="2.8"/><circle cx="362.2" cy="486.5" r="2.8"/><circle cx="358.4" cy="488.0" r="2.8"/><circle cx="365.0" cy="488.9" r="2.8"/><circle cx="363.1" cy="491.7" r="2.8"/><circle cx="366.5" cy="494.5" r="2.8"/><circle cx="361.3" cy="496.4" r="2.8"/><circle cx="368.4" cy="497.3" r="2.8"/><circle cx="364.1" cy="498.3" r="2.8"/><circle cx="359.4" cy="501.7" r="2.8"/><circle cx="366.0" cy="501.7" r="2.8"/><circle cx="369.3" cy="503.5" r="2.8"/><circle cx="361.3" cy="504.9" r="2.8"/><circle cx="360.3" cy="508.6" r="2.8"/><circle cx="365.0" cy="509.2" r="2.8"/><circle cx="359.4" cy="511.4" r="2.8"/><circle cx="363.1" cy="512.4" r="2.8"/><circle cx="370.3" cy="512.4" r="2.8"/><circle cx="366.0" cy="513.9" r="2.8"/><circle cx="360.3" cy="518.4" r="2.8"/><circle cx="364.1" cy="517.4" r="2.8"/><circle cx="370.3" cy="516.7" r="2.8"/><circle cx="401.6" cy="443.5" r="2.8"/><circle cx="418.2" cy="442.5" r="2.8"/><circle cx="415.3" cy="444.4" r="2.8"/><circle cx="410.1" cy="445.3" r="2.8"/><circle cx="393.6" cy="447.2" r="2.8"/><circle cx="410.6" cy="451.3" r="2.8"/><circle cx="390.4" cy="451.7" r="2.8"/><circle cx="428.5" cy="452.3" r="2.8"/><circle cx="395.1" cy="454.5" r="2.8"/><circle cx="424.2" cy="454.5" r="2.8"/><circle cx="391.3" cy="456.0" r="2.8"/><circle cx="425.7" cy="457.9" r="2.8"/><circle cx="403.1" cy="459.4" r="2.8"/><circle cx="416.7" cy="458.9" r="2.8"/><circle cx="413.8" cy="460.7" r="2.8"/><circle cx="386.6" cy="460.7" r="2.8"/><circle cx="428.5" cy="461.1" r="2.8"/><circle cx="430.7" cy="461.7" r="2.8"/><circle cx="384.4" cy="463.2" r="2.8"/><circle cx="408.8" cy="462.2" r="2.8"/><circle cx="425.7" cy="463.6" r="2.8"/><circle cx="392.8" cy="466.0" r="2.8"/><circle cx="413.8" cy="466.0" r="2.8"/><circle cx="416.3" cy="466.0" r="2.8"/><circle cx="405.4" cy="467.3" r="2.8"/><circle cx="400.7" cy="468.8" r="2.8"/><circle cx="385.3" cy="471.1" r="2.8"/><circle cx="396.9" cy="474.4" r="2.8"/><circle cx="411.6" cy="474.4" r="2.8"/><circle cx="384.4" cy="475.8" r="2.8"/><circle cx="388.1" cy="475.8" r="2.8"/><circle cx="392.2" cy="478.6" r="2.8"/><circle cx="420.4" cy="479.1" r="2.8"/><circle cx="390.0" cy="482.0" r="2.8"/><circle cx="396.0" cy="481.4" r="2.8"/><circle cx="406.9" cy="482.0" r="2.8"/><circle cx="409.7" cy="484.2" r="2.8"/><circle cx="405.4" cy="486.5" r="2.8"/><circle cx="389.4" cy="486.5" r="2.8"/><circle cx="403.1" cy="487.6" r="2.8"/><circle cx="422.3" cy="488.9" r="2.8"/><circle cx="393.7" cy="490.4" r="2.8"/><circle cx="429.4" cy="490.4" r="2.8"/><circle cx="401.6" cy="492.1" r="2.8"/><circle cx="395.6" cy="493.2" r="2.8"/><circle cx="409.7" cy="493.2" r="2.8"/><circle cx="426.0" cy="494.0" r="2.8"/><circle cx="417.2" cy="496.4" r="2.8"/><circle cx="385.7" cy="496.4" r="2.8"/><circle cx="423.8" cy="497.3" r="2.8"/><circle cx="389.4" cy="498.3" r="2.8"/><circle cx="405.4" cy="498.3" r="2.8"/><circle cx="389.4" cy="501.1" r="2.8"/><circle cx="385.7" cy="504.3" r="2.8"/><circle cx="403.1" cy="505.4" r="2.8"/><circle cx="419.5" cy="506.4" r="2.8"/><circle cx="399.8" cy="507.1" r="2.8"/><circle cx="396.9" cy="509.2" r="2.8"/><circle cx="427.5" cy="509.2" r="2.8"/><circle cx="383.4" cy="512.4" r="2.8"/><circle cx="419.5" cy="514.2" r="2.8"/><circle cx="396.9" cy="515.6" r="2.8"/><circle cx="394.1" cy="517.4" r="2.8"/><circle cx="412.5" cy="518.4" r="2.8"/><circle cx="398.4" cy="519.3" r="2.8"/><circle cx="359.9" cy="451.3" r="2.8"/><circle cx="363.1" cy="507.0" r="2.8"/><circle cx="363.6" cy="503.3" r="2.8"/><circle cx="361.7" cy="500.0" r="2.8"/><circle cx="360.3" cy="499.0" r="2.8"/><circle cx="363.9" cy="495.5" r="2.8"/><circle cx="365.8" cy="491.7" r="2.8"/><circle cx="360.8" cy="489.8" r="2.8"/></g><rect class="f" x="355.5" y="431.5" width="78.0" height="100.0"/><line x1="384.5" y1="531.5" x2="384.5" y2="536.5"/><text transform="translate(384.80,553.00) scale(1.000,1.000)" font-size="13.89" text-anchor="middle">2.50</text><line x1="430.5" y1="531.5" x2="430.5" y2="536.5"/><text transform="translate(430.60,553.00) scale(1.000,1.000)" font-size="13.89" text-anchor="middle">5.00</text>
<g fill="#1f77b4"><circle cx="461.3" cy="444.4" r="2.8"/><circle cx="457.0" cy="445.3" r="2.8"/><circle cx="458.9" cy="448.5" r="2.8"/><circle cx="460.8" cy="452.3" r="2.8"/><circle cx="455.1" cy="454.5" r="2.8"/><circle cx="453.3" cy="462.2" r="2.8"/><circle cx="458.0" cy="466.0" r="2.8"/><circle cx="463.2" cy="466.9" r="2.8"/><circle cx="459.8" cy="468.8" r="2.8"/><circle cx="457.0" cy="471.1" r="2.8"/><circle cx="461.7" cy="472.0" r="2.8"/><circle cx="455.1" cy="474.4" r="2.8"/><circle cx="458.9" cy="475.8" r="2.8"/><circle cx="456.6" cy="477.6" r="2.8"/><circle cx="458.0" cy="480.4" r="2.8"/><circle cx="464.2" cy="484.8" r="2.8"/><circle cx="457.0" cy="487.6" r="2.8"/><circle cx="456.1" cy="489.8" r="2.8"/><circle cx="464.2" cy="491.2" r="2.8"/><circle cx="454.2" cy="493.2" r="2.8"/><circle cx="459.8" cy="494.5" r="2.8"/><circle cx="453.3" cy="496.4" r="2.8"/><circle cx="456.1" cy="498.3" r="2.8"/><circle cx="464.2" cy="497.0" r="2.8"/><circle cx="460.8" cy="499.2" r="2.8"/><circle cx="454.2" cy="501.1" r="2.8"/><circle cx="464.2" cy="501.1" r="2.8"/><circle cx="458.0" cy="503.0" r="2.8"/><circle cx="462.7" cy="504.9" r="2.8"/><circle cx="455.1" cy="506.4" r="2.8"/><circle cx="459.8" cy="508.1" r="2.8"/><circle cx="457.0" cy="509.6" r="2.8"/><circle cx="463.2" cy="511.4" r="2.8"/><circle cx="455.1" cy="512.0" r="2.8"/><circle cx="454.2" cy="514.2" r="2.8"/><circle cx="459.8" cy="517.4" r="2.8"/><circle cx="453.3" cy="519.3" r="2.8"/><circle cx="456.1" cy="519.3" r="2.8"/><circle cx="478.2" cy="442.5" r="2.8"/><circle cx="487.6" cy="443.5" r="2.8"/><circle cx="499.8" cy="442.5" r="2.8"/><circle cx="503.0" cy="444.4" r="2.8"/><circle cx="493.3" cy="445.3" r="2.8"/><circle cx="521.4" cy="446.3" r="2.8"/><circle cx="515.8" cy="448.5" r="2.8"/><circle cx="477.3" cy="449.5" r="2.8"/><circle cx="493.3" cy="450.4" r="2.8"/><circle cx="507.7" cy="451.3" r="2.8"/><circle cx="509.2" cy="453.6" r="2.8"/><circle cx="515.8" cy="454.2" r="2.8"/><circle cx="488.6" cy="456.0" r="2.8"/><circle cx="506.4" cy="458.5" r="2.8"/><circle cx="483.3" cy="460.2" r="2.8"/><circle cx="489.5" cy="460.2" r="2.8"/><circle cx="513.0" cy="461.1" r="2.8"/><circle cx="490.4" cy="465.1" r="2.8"/><circle cx="478.2" cy="466.0" r="2.8"/><circle cx="511.1" cy="463.6" r="2.8"/><circle cx="518.6" cy="468.2" r="2.8"/><circle cx="504.5" cy="468.2" r="2.8"/><circle cx="510.2" cy="470.5" r="2.8"/><circle cx="491.4" cy="472.4" r="2.8"/><circle cx="495.5" cy="472.0" r="2.8"/><circle cx="487.6" cy="474.4" r="2.8"/><circle cx="480.5" cy="475.2" r="2.8"/><circle cx="482.4" cy="477.6" r="2.8"/><circle cx="505.5" cy="476.7" r="2.8"/><circle cx="500.8" cy="478.6" r="2.8"/><circle cx="492.3" cy="479.5" r="2.8"/><circle cx="480.5" cy="482.0" r="2.8"/><circle cx="499.3" cy="482.0" r="2.8"/><circle cx="514.9" cy="482.9" r="2.8"/><circle cx="486.1" cy="482.9" r="2.8"/><circle cx="498.9" cy="485.1" r="2.8"/><circle cx="517.7" cy="486.1" r="2.8"/><circle cx="482.4" cy="486.5" r="2.8"/><circle cx="499.3" cy="487.0" r="2.8"/><circle cx="520.5" cy="488.9" r="2.8"/><circle cx="488.6" cy="489.5" r="2.8"/><circle cx="522.4" cy="491.2" r="2.8"/><circle cx="481.4" cy="491.3" r="2.8"/><circle cx="496.5" cy="491.7" r="2.8"/><circle cx="496.5" cy="494.5" r="2.8"/><circle cx="495.5" cy="497.0" r="2.8"/><circle cx="501.7" cy="497.9" r="2.8"/><circle cx="481.1" cy="497.9" r="2.8"/><circle cx="494.2" cy="499.2" r="2.8"/><circle cx="491.8" cy="501.1" r="2.8"/><circle cx="484.2" cy="502.0" r="2.8"/><circle cx="486.1" cy="502.6" r="2.8"/><circle cx="497.4" cy="502.0" r="2.8"/><circle cx="523.7" cy="502.6" r="2.8"/><circle cx="495.5" cy="505.4" r="2.8"/><circle cx="522.4" cy="506.7" r="2.8"/><circle cx="479.2" cy="507.1" r="2.8"/><circle cx="477.7" cy="509.9" r="2.8"/><circle cx="503.6" cy="510.5" r="2.8"/><circle cx="507.3" cy="512.4" r="2.8"/><circle cx="513.3" cy="512.4" r="2.8"/><circle cx="520.5" cy="517.4" r="2.8"/><circle cx="489.5" cy="518.0" r="2.8"/><circle cx="479.6" cy="519.3" r="2.8"/><circle cx="486.7" cy="519.3" r="2.8"/><circle cx="484.2" cy="520.4" r="2.8"/><circle cx="455.1" cy="509.2" r="2.8"/><circle cx="457.0" cy="493.9" r="2.8"/><circle cx="464.2" cy="494.1" r="2.8"/><circle cx="462.0" cy="492.8" r="2.8"/><circle cx="455.6" cy="511.9" r="2.8"/><circle cx="461.7" cy="502.0" r="2.8"/><circle cx="455.1" cy="495.8" r="2.8"/><circle cx="455.1" cy="516.8" r="2.8"/></g><rect class="f" x="449.5" y="431.5" width="78.0" height="100.0"/><line x1="478.5" y1="531.5" x2="478.5" y2="536.5"/><text transform="translate(478.83,553.00) scale(1.000,1.000)" font-size="13.89" text-anchor="middle">2.50</text><line x1="524.5" y1="531.5" x2="524.5" y2="536.5"/><text transform="translate(524.63,553.00) scale(1.000,1.000)" font-size="13.89" text-anchor="middle">5.00</text>
<g fill="#1f77b4"><circle cx="557.5" cy="443.5" r="2.8"/><circle cx="549.4" cy="446.3" r="2.8"/><circle cx="558.0" cy="450.0" r="2.8"/><circle cx="555.6" cy="452.3" r="2.8"/><circle cx="553.7" cy="455.1" r="2.8"/><circle cx="552.4" cy="457.9" r="2.8"/><circle cx="548.1" cy="460.2" r="2.8"/><circle cx="556.5" cy="460.2" r="2.8"/><circle cx="550.0" cy="462.6" r="2.8"/><circle cx="548.1" cy="465.4" r="2.8"/><circle cx="553.7" cy="467.3" r="2.8"/><circle cx="549.0" cy="470.1" r="2.8"/><circle cx="552.8" cy="471.6" r="2.8"/><circle cx="556.5" cy="473.5" r="2.8"/><circle cx="553.7" cy="476.7" r="2.8"/><circle cx="551.8" cy="479.5" r="2.8"/><circle cx="555.6" cy="481.4" r="2.8"/><circle cx="550.0" cy="482.3" r="2.8"/><circle cx="553.7" cy="484.2" r="2.8"/><circle cx="549.0" cy="486.5" r="2.8"/><circle cx="556.5" cy="487.0" r="2.8"/><circle cx="551.8" cy="488.9" r="2.8"/><circle cx="548.1" cy="490.4" r="2.8"/><circle cx="553.7" cy="491.7" r="2.8"/><circle cx="550.9" cy="494.0" r="2.8"/><circle cx="554.7" cy="495.5" r="2.8"/><circle cx="548.1" cy="501.7" r="2.8"/><circle cx="550.9" cy="502.0" r="2.8"/><circle cx="558.0" cy="501.1" r="2.8"/><circle cx="549.0" cy="504.9" r="2.8"/><circle cx="553.7" cy="505.8" r="2.8"/><circle cx="558.0" cy="506.7" r="2.8"/><circle cx="548.1" cy="508.6" r="2.8"/><circle cx="551.8" cy="509.9" r="2.8"/><circle cx="550.0" cy="513.3" r="2.8"/><circle cx="552.8" cy="514.2" r="2.8"/><circle cx="550.0" cy="517.4" r="2.8"/><circle cx="550.9" cy="520.4" r="2.8"/><circle cx="584.3" cy="441.0" r="2.8"/><circle cx="571.6" cy="443.5" r="2.8"/><circle cx="592.8" cy="443.5" r="2.8"/><circle cx="611.5" cy="444.4" r="2.8"/><circle cx="607.8" cy="448.5" r="2.8"/><circle cx="573.4" cy="449.5" r="2.8"/><circle cx="578.7" cy="449.1" r="2.8"/><circle cx="611.0" cy="451.7" r="2.8"/><circle cx="613.8" cy="452.3" r="2.8"/><circle cx="593.7" cy="452.3" r="2.8"/><circle cx="575.3" cy="452.3" r="2.8"/><circle cx="593.7" cy="455.5" r="2.8"/><circle cx="587.5" cy="456.4" r="2.8"/><circle cx="605.4" cy="457.4" r="2.8"/><circle cx="583.4" cy="460.2" r="2.8"/><circle cx="601.6" cy="461.1" r="2.8"/><circle cx="586.2" cy="462.2" r="2.8"/><circle cx="579.6" cy="463.2" r="2.8"/><circle cx="600.7" cy="465.1" r="2.8"/><circle cx="577.8" cy="465.4" r="2.8"/><circle cx="589.4" cy="466.0" r="2.8"/><circle cx="609.1" cy="466.0" r="2.8"/><circle cx="618.5" cy="466.0" r="2.8"/><circle cx="583.8" cy="468.2" r="2.8"/><circle cx="591.8" cy="468.8" r="2.8"/><circle cx="596.5" cy="470.5" r="2.8"/><circle cx="604.4" cy="471.1" r="2.8"/><circle cx="613.4" cy="472.4" r="2.8"/><circle cx="595.0" cy="475.2" r="2.8"/><circle cx="597.5" cy="481.4" r="2.8"/><circle cx="618.1" cy="483.3" r="2.8"/><circle cx="572.5" cy="486.1" r="2.8"/><circle cx="607.8" cy="487.0" r="2.8"/><circle cx="584.3" cy="487.0" r="2.8"/><circle cx="580.0" cy="488.0" r="2.8"/><circle cx="609.7" cy="489.3" r="2.8"/><circle cx="574.0" cy="490.4" r="2.8"/><circle cx="590.3" cy="490.4" r="2.8"/><circle cx="598.8" cy="490.8" r="2.8"/><circle cx="578.1" cy="491.7" r="2.8"/><circle cx="601.6" cy="493.6" r="2.8"/><circle cx="604.4" cy="495.5" r="2.8"/><circle cx="586.6" cy="497.3" r="2.8"/><circle cx="596.5" cy="497.3" r="2.8"/><circle cx="600.7" cy="498.7" r="2.8"/><circle cx="603.5" cy="500.5" r="2.8"/><circle cx="615.3" cy="500.5" r="2.8"/><circle cx="590.9" cy="502.0" r="2.8"/><circle cx="576.2" cy="502.0" r="2.8"/><circle cx="599.3" cy="503.0" r="2.8"/><circle cx="611.5" cy="504.3" r="2.8"/><circle cx="616.2" cy="505.8" r="2.8"/><circle cx="616.6" cy="508.1" r="2.8"/><circle cx="578.7" cy="508.1" r="2.8"/><circle cx="573.1" cy="509.9" r="2.8"/><circle cx="586.6" cy="511.4" r="2.8"/><circle cx="576.2" cy="511.4" r="2.8"/><circle cx="580.6" cy="512.0" r="2.8"/><circle cx="574.4" cy="513.3" r="2.8"/><circle cx="587.5" cy="514.2" r="2.8"/><circle cx="589.0" cy="517.4" r="2.8"/><circle cx="602.5" cy="517.4" r="2.8"/><circle cx="606.3" cy="516.7" r="2.8"/><circle cx="612.5" cy="517.4" r="2.8"/><circle cx="583.4" cy="518.4" r="2.8"/><circle cx="580.9" cy="519.3" r="2.8"/><circle cx="592.2" cy="519.3" r="2.8"/><circle cx="571.6" cy="520.4" r="2.8"/><circle cx="552.8" cy="481.9" r="2.8"/><circle cx="556.1" cy="484.2" r="2.8"/><circle cx="558.0" cy="503.9" r="2.8"/><circle cx="550.9" cy="491.1" r="2.8"/><circle cx="550.4" cy="507.4" r="2.8"/><circle cx="555.1" cy="457.6" r="2.8"/><circle cx="555.1" cy="489.4" r="2.8"/><circle cx="551.4" cy="468.7" r="2.8"/></g><rect class="f" x="543.5" y="431.5" width="78.0" height="100.0"/><line x1="572.5" y1="531.5" x2="572.5" y2="536.5"/><text transform="translate(572.87,553.00) scale(1.000,1.000)" font-size="13.89" text-anchor="middle">2.50</text><line x1="618.5" y1="531.5" x2="618.5" y2="536.5"/><text transform="translate(618.67,553.00) scale(1.000,1.000)" font-size="13.89" text-anchor="middle">5.00</text>
<g fill="#1f77b4"><circle cx="641.4" cy="441.6" r="2.8"/><circle cx="644.2" cy="444.4" r="2.8"/><circle cx="649.5" cy="445.7" r="2.8"/><circle cx="646.1" cy="447.2" r="2.8"/><circle cx="648.9" cy="450.0" r="2.8"/><circle cx="647.0" cy="452.3" r="2.8"/><circle cx="648.5" cy="454.5" r="2.8"/><circle cx="645.1" cy="457.0" r="2.8"/><circle cx="643.3" cy="459.8" r="2.8"/><circle cx="646.1" cy="461.3" r="2.8"/><circle cx="641.4" cy="463.6" r="2.8"/><circle cx="648.9" cy="465.1" r="2.8"/><circle cx="645.1" cy="466.4" r="2.8"/><circle cx="650.4" cy="468.8" r="2.8"/><circle cx="644.2" cy="471.1" r="2.8"/><circle cx="648.0" cy="472.0" r="2.8"/><circle cx="644.2" cy="474.4" r="2.8"/><circle cx="648.0" cy="475.8" r="2.8"/><circle cx="645.1" cy="477.6" r="2.8"/><circle cx="649.8" cy="480.4" r="2.8"/><circle cx="646.6" cy="482.3" r="2.8"/><circle cx="642.3" cy="486.5" r="2.8"/><circle cx="648.9" cy="486.1" r="2.8"/><circle cx="652.3" cy="487.6" r="2.8"/><circle cx="643.3" cy="492.1" r="2.8"/><circle cx="649.8" cy="492.7" r="2.8"/><circle cx="641.4" cy="494.5" r="2.8"/><circle cx="646.1" cy="495.5" r="2.8"/><circle cx="650.8" cy="496.4" r="2.8"/><circle cx="652.3" cy="498.3" r="2.8"/><circle cx="643.3" cy="500.2" r="2.8"/><circle cx="646.6" cy="500.2" r="2.8"/><circle cx="652.3" cy="506.7" r="2.8"/><circle cx="651.7" cy="510.5" r="2.8"/><circle cx="641.4" cy="513.3" r="2.8"/><circle cx="651.3" cy="514.2" r="2.8"/><circle cx="643.3" cy="516.7" r="2.8"/><circle cx="651.7" cy="517.4" r="2.8"/><circle cx="645.1" cy="519.3" r="2.8"/><circle cx="644.2" cy="520.4" r="2.8"/><circle cx="668.6" cy="441.6" r="2.8"/><circle cx="711.4" cy="442.5" r="2.8"/><circle cx="691.7" cy="442.9" r="2.8"/><circle cx="694.5" cy="444.4" r="2.8"/><circle cx="706.7" cy="443.5" r="2.8"/><circle cx="703.3" cy="445.3" r="2.8"/><circle cx="675.2" cy="446.3" r="2.8"/><circle cx="674.2" cy="449.5" r="2.8"/><circle cx="671.1" cy="450.0" r="2.8"/><circle cx="687.4" cy="449.5" r="2.8"/><circle cx="684.2" cy="450.4" r="2.8"/><circle cx="707.7" cy="451.0" r="2.8"/><circle cx="680.4" cy="453.6" r="2.8"/><circle cx="710.5" cy="453.2" r="2.8"/><circle cx="690.8" cy="454.2" r="2.8"/><circle cx="698.3" cy="454.5" r="2.8"/><circle cx="712.7" cy="455.5" r="2.8"/><circle cx="666.4" cy="456.4" r="2.8"/><circle cx="677.6" cy="457.4" r="2.8"/><circle cx="689.8" cy="456.0" r="2.8"/><circle cx="692.6" cy="457.9" r="2.8"/><circle cx="676.1" cy="460.7" r="2.8"/><circle cx="672.0" cy="461.3" r="2.8"/><circle cx="665.4" cy="462.2" r="2.8"/><circle cx="697.3" cy="460.4" r="2.8"/><circle cx="695.8" cy="462.6" r="2.8"/><circle cx="682.3" cy="466.9" r="2.8"/><circle cx="686.4" cy="466.9" r="2.8"/><circle cx="674.2" cy="468.2" r="2.8"/><circle cx="678.0" cy="467.3" r="2.8"/><circle cx="701.1" cy="468.2" r="2.8"/><circle cx="708.6" cy="469.6" r="2.8"/><circle cx="688.9" cy="470.5" r="2.8"/><circle cx="672.4" cy="472.0" r="2.8"/><circle cx="676.1" cy="474.8" r="2.8"/><circle cx="667.3" cy="475.8" r="2.8"/><circle cx="678.6" cy="476.3" r="2.8"/><circle cx="688.0" cy="476.3" r="2.8"/><circle cx="690.8" cy="476.3" r="2.8"/><circle cx="702.4" cy="474.4" r="2.8"/><circle cx="669.6" cy="478.6" r="2.8"/><circle cx="682.3" cy="481.4" r="2.8"/><circle cx="671.1" cy="482.3" r="2.8"/><circle cx="705.2" cy="481.0" r="2.8"/><circle cx="700.5" cy="482.3" r="2.8"/><circle cx="684.6" cy="484.8" r="2.8"/><circle cx="692.6" cy="486.5" r="2.8"/><circle cx="682.7" cy="488.9" r="2.8"/><circle cx="687.4" cy="489.3" r="2.8"/><circle cx="666.4" cy="492.1" r="2.8"/><circle cx="710.5" cy="492.1" r="2.8"/><circle cx="674.2" cy="493.0" r="2.8"/><circle cx="678.9" cy="494.5" r="2.8"/><circle cx="682.3" cy="498.3" r="2.8"/><circle cx="681.4" cy="501.1" r="2.8"/><circle cx="693.6" cy="501.7" r="2.8"/><circle cx="704.3" cy="501.7" r="2.8"/><circle cx="710.5" cy="501.7" r="2.8"/><circle cx="684.2" cy="503.0" r="2.8"/><circle cx="686.4" cy="504.5" r="2.8"/><circle cx="665.4" cy="506.4" r="2.8"/><circle cx="681.4" cy="506.4" r="2.8"/><circle cx="697.3" cy="507.3" r="2.8"/><circle cx="699.6" cy="509.2" r="2.8"/><circle cx="668.6" cy="511.4" r="2.8"/><circle cx="702.4" cy="510.5" r="2.8"/><circle cx="705.8" cy="512.0" r="2.8"/><circle cx="673.3" cy="513.3" r="2.8"/><circle cx="695.5" cy="514.2" r="2.8"/><circle cx="707.1" cy="515.6" r="2.8"/><circle cx="666.7" cy="517.4" r="2.8"/><circle cx="670.5" cy="517.4" r="2.8"/><circle cx="649.4" cy="483.3" r="2.8"/><circle cx="642.8" cy="489.3" r="2.8"/><circle cx="651.1" cy="490.1" r="2.8"/><circle cx="647.8" cy="467.6" r="2.8"/><circle cx="648.7" cy="498.3" r="2.8"/><circle cx="647.5" cy="479.0" r="2.8"/><circle cx="644.7" cy="497.8" r="2.8"/><circle cx="642.3" cy="497.3" r="2.8"/></g><rect class="f" x="637.5" y="431.5" width="78.0" height="100.0"/><line x1="666.5" y1="531.5" x2="666.5" y2="536.5"/><text transform="translate(666.90,553.00) scale(1.000,1.000)" font-size="13.89" text-anchor="middle">2.50</text><line x1="712.5" y1="531.5" x2="712.5" y2="536.5"/><text transform="translate(712.70,553.00) scale(1.000,1.000)" font-size="13.89" text-anchor="middle">5.00</text>
<g fill="#1f77b4"><circle cx="737.1" cy="443.5" r="2.8"/><circle cx="741.5" cy="445.3" r="2.8"/><circle cx="735.8" cy="447.2" r="2.8"/><circle cx="740.0" cy="448.5" r="2.8"/><circle cx="742.8" cy="450.0" r="2.8"/><circle cx="736.2" cy="451.3" r="2.8"/><circle cx="740.0" cy="453.2" r="2.8"/><circle cx="735.8" cy="455.5" r="2.8"/><circle cx="740.9" cy="456.0" r="2.8"/><circle cx="739.0" cy="458.9" r="2.8"/><circle cx="735.3" cy="459.8" r="2.8"/><circle cx="741.8" cy="460.7" r="2.8"/><circle cx="735.3" cy="465.4" r="2.8"/><circle cx="743.3" cy="468.2" r="2.8"/><circle cx="739.0" cy="470.1" r="2.8"/><circle cx="745.2" cy="471.1" r="2.8"/><circle cx="740.9" cy="472.6" r="2.8"/><circle cx="746.2" cy="474.4" r="2.8"/><circle cx="742.8" cy="475.8" r="2.8"/><circle cx="739.0" cy="476.7" r="2.8"/><circle cx="744.3" cy="487.0" r="2.8"/><circle cx="741.8" cy="488.0" r="2.8"/><circle cx="737.1" cy="490.4" r="2.8"/><circle cx="739.0" cy="491.7" r="2.8"/><circle cx="746.2" cy="498.3" r="2.8"/><circle cx="740.9" cy="502.0" r="2.8"/><circle cx="744.3" cy="503.5" r="2.8"/><circle cx="740.0" cy="505.4" r="2.8"/><circle cx="746.2" cy="505.4" r="2.8"/><circle cx="739.0" cy="508.1" r="2.8"/><circle cx="741.5" cy="509.2" r="2.8"/><circle cx="745.2" cy="512.4" r="2.8"/><circle cx="743.7" cy="514.2" r="2.8"/><circle cx="737.1" cy="518.0" r="2.8"/><circle cx="743.3" cy="518.0" r="2.8"/><circle cx="740.9" cy="520.4" r="2.8"/><circle cx="766.2" cy="442.5" r="2.8"/><circle cx="792.2" cy="441.6" r="2.8"/><circle cx="795.3" cy="443.5" r="2.8"/><circle cx="801.5" cy="444.4" r="2.8"/><circle cx="759.3" cy="446.3" r="2.8"/><circle cx="767.2" cy="447.2" r="2.8"/><circle cx="778.5" cy="447.2" r="2.8"/><circle cx="772.8" cy="449.5" r="2.8"/><circle cx="775.6" cy="450.4" r="2.8"/><circle cx="798.7" cy="448.5" r="2.8"/><circle cx="802.5" cy="449.5" r="2.8"/><circle cx="804.4" cy="448.5" r="2.8"/><circle cx="777.5" cy="452.3" r="2.8"/><circle cx="783.7" cy="452.8" r="2.8"/><circle cx="794.4" cy="453.6" r="2.8"/><circle cx="786.0" cy="457.0" r="2.8"/><circle cx="762.5" cy="456.4" r="2.8"/><circle cx="780.3" cy="458.3" r="2.8"/><circle cx="780.3" cy="460.7" r="2.8"/><circle cx="797.2" cy="459.4" r="2.8"/><circle cx="803.4" cy="460.7" r="2.8"/><circle cx="774.3" cy="461.3" r="2.8"/><circle cx="762.5" cy="462.2" r="2.8"/><circle cx="772.4" cy="464.1" r="2.8"/><circle cx="770.6" cy="466.9" r="2.8"/><circle cx="802.5" cy="468.2" r="2.8"/><circle cx="793.5" cy="468.2" r="2.8"/><circle cx="788.4" cy="470.5" r="2.8"/><circle cx="763.4" cy="472.0" r="2.8"/><circle cx="770.0" cy="472.0" r="2.8"/><circle cx="766.2" cy="475.2" r="2.8"/><circle cx="782.2" cy="475.8" r="2.8"/><circle cx="786.9" cy="475.8" r="2.8"/><circle cx="800.6" cy="474.4" r="2.8"/><circle cx="791.6" cy="477.3" r="2.8"/><circle cx="805.3" cy="480.4" r="2.8"/><circle cx="762.1" cy="481.4" r="2.8"/><circle cx="765.9" cy="481.4" r="2.8"/><circle cx="771.5" cy="482.3" r="2.8"/><circle cx="789.7" cy="482.0" r="2.8"/><circle cx="798.2" cy="482.0" r="2.8"/><circle cx="783.7" cy="483.3" r="2.8"/><circle cx="761.6" cy="485.7" r="2.8"/><circle cx="796.3" cy="484.2" r="2.8"/><circle cx="789.3" cy="485.1" r="2.8"/><circle cx="806.6" cy="486.1" r="2.8"/><circle cx="792.5" cy="488.9" r="2.8"/><circle cx="789.3" cy="489.8" r="2.8"/><circle cx="770.9" cy="490.4" r="2.8"/><circle cx="774.3" cy="491.2" r="2.8"/><circle cx="760.2" cy="492.1" r="2.8"/><circle cx="804.4" cy="494.5" r="2.8"/><circle cx="763.1" cy="494.5" r="2.8"/><circle cx="781.8" cy="495.5" r="2.8"/><circle cx="769.6" cy="496.4" r="2.8"/><circle cx="784.1" cy="497.3" r="2.8"/><circle cx="781.8" cy="499.2" r="2.8"/><circle cx="759.3" cy="501.7" r="2.8"/><circle cx="773.4" cy="502.0" r="2.8"/><circle cx="790.3" cy="501.1" r="2.8"/><circle cx="796.3" cy="504.3" r="2.8"/><circle cx="770.9" cy="507.1" r="2.8"/><circle cx="768.7" cy="509.9" r="2.8"/><circle cx="765.3" cy="512.4" r="2.8"/><circle cx="775.3" cy="513.9" r="2.8"/><circle cx="764.4" cy="513.3" r="2.8"/><circle cx="779.4" cy="515.2" r="2.8"/><circle cx="768.1" cy="515.6" r="2.8"/><circle cx="760.2" cy="519.3" r="2.8"/><circle cx="787.5" cy="520.4" r="2.8"/><circle cx="739.5" cy="456.0" r="2.8"/><circle cx="735.3" cy="462.6" r="2.8"/><circle cx="738.6" cy="446.0" r="2.8"/><circle cx="745.2" cy="500.9" r="2.8"/><circle cx="743.5" cy="473.5" r="2.8"/><circle cx="742.6" cy="511.7" r="2.8"/><circle cx="738.6" cy="446.3" r="2.8"/><circle cx="744.3" cy="515.2" r="2.8"/></g><rect class="f" x="731.5" y="431.5" width="78.0" height="100.0"/><line x1="760.5" y1="531.5" x2="760.5" y2="536.5"/><text transform="translate(760.94,553.00) scale(1.000,1.000)" font-size="13.89" text-anchor="middle">2.50</text><line x1="806.5" y1="531.5" x2="806.5" y2="536.5"/><text transform="translate(806.74,553.00) scale(1.000,1.000)" font-size="13.89" text-anchor="middle">5.00</text>
<g fill="#1f77b4"><circle cx="839.5" cy="442.5" r="2.8"/><circle cx="832.0" cy="444.4" r="2.8"/><circle cx="836.7" cy="446.3" r="2.8"/><circle cx="834.4" cy="448.2" r="2.8"/><circle cx="832.0" cy="451.3" r="2.8"/><circle cx="838.5" cy="452.3" r="2.8"/><circle cx="830.1" cy="460.2" r="2.8"/><circle cx="830.6" cy="463.6" r="2.8"/><circle cx="840.0" cy="465.1" r="2.8"/><circle cx="831.0" cy="466.0" r="2.8"/><circle cx="838.5" cy="467.3" r="2.8"/><circle cx="829.1" cy="469.6" r="2.8"/><circle cx="832.9" cy="471.1" r="2.8"/><circle cx="840.0" cy="471.1" r="2.8"/><circle cx="834.8" cy="472.9" r="2.8"/><circle cx="832.9" cy="476.3" r="2.8"/><circle cx="840.0" cy="477.3" r="2.8"/><circle cx="836.3" cy="481.4" r="2.8"/><circle cx="832.0" cy="483.3" r="2.8"/><circle cx="836.7" cy="487.0" r="2.8"/><circle cx="834.4" cy="488.9" r="2.8"/><circle cx="832.9" cy="490.8" r="2.8"/><circle cx="840.4" cy="491.2" r="2.8"/><circle cx="832.0" cy="493.6" r="2.8"/><circle cx="830.6" cy="495.8" r="2.8"/><circle cx="829.1" cy="498.3" r="2.8"/><circle cx="839.1" cy="497.3" r="2.8"/><circle cx="832.9" cy="500.2" r="2.8"/><circle cx="837.6" cy="503.0" r="2.8"/><circle cx="830.6" cy="505.8" r="2.8"/><circle cx="836.7" cy="505.8" r="2.8"/><circle cx="839.5" cy="507.1" r="2.8"/><circle cx="832.0" cy="509.6" r="2.8"/><circle cx="829.1" cy="511.4" r="2.8"/><circle cx="833.8" cy="512.0" r="2.8"/><circle cx="835.7" cy="516.1" r="2.8"/><circle cx="839.1" cy="518.0" r="2.8"/><circle cx="838.2" cy="519.3" r="2.8"/><circle cx="881.3" cy="443.5" r="2.8"/><circle cx="860.1" cy="444.4" r="2.8"/><circle cx="861.1" cy="446.3" r="2.8"/><circle cx="890.7" cy="446.3" r="2.8"/><circle cx="864.4" cy="449.5" r="2.8"/><circle cx="872.9" cy="450.0" r="2.8"/><circle cx="894.5" cy="450.0" r="2.8"/><circle cx="875.7" cy="451.7" r="2.8"/><circle cx="859.8" cy="453.6" r="2.8"/><circle cx="874.2" cy="456.0" r="2.8"/><circle cx="886.0" cy="457.0" r="2.8"/><circle cx="872.3" cy="458.3" r="2.8"/><circle cx="870.5" cy="460.7" r="2.8"/><circle cx="886.4" cy="460.2" r="2.8"/><circle cx="858.2" cy="461.3" r="2.8"/><circle cx="865.8" cy="462.2" r="2.8"/><circle cx="885.1" cy="461.3" r="2.8"/><circle cx="854.5" cy="464.5" r="2.8"/><circle cx="862.0" cy="465.1" r="2.8"/><circle cx="889.2" cy="464.5" r="2.8"/><circle cx="900.5" cy="464.5" r="2.8"/><circle cx="860.1" cy="466.0" r="2.8"/><circle cx="867.6" cy="466.0" r="2.8"/><circle cx="876.1" cy="467.3" r="2.8"/><circle cx="871.0" cy="469.2" r="2.8"/><circle cx="866.7" cy="471.1" r="2.8"/><circle cx="853.6" cy="471.6" r="2.8"/><circle cx="864.4" cy="472.4" r="2.8"/><circle cx="853.6" cy="476.3" r="2.8"/><circle cx="887.0" cy="477.6" r="2.8"/><circle cx="869.5" cy="478.6" r="2.8"/><circle cx="862.0" cy="479.5" r="2.8"/><circle cx="858.2" cy="480.4" r="2.8"/><circle cx="856.0" cy="481.4" r="2.8"/><circle cx="885.5" cy="481.4" r="2.8"/><circle cx="900.1" cy="482.3" r="2.8"/><circle cx="884.2" cy="483.3" r="2.8"/><circle cx="855.1" cy="484.6" r="2.8"/><circle cx="863.5" cy="485.5" r="2.8"/><circle cx="898.6" cy="486.5" r="2.8"/><circle cx="879.8" cy="487.0" r="2.8"/><circle cx="869.5" cy="488.5" r="2.8"/><circle cx="854.5" cy="489.3" r="2.8"/><circle cx="871.4" cy="491.2" r="2.8"/><circle cx="882.3" cy="492.1" r="2.8"/><circle cx="888.3" cy="492.1" r="2.8"/><circle cx="867.3" cy="493.6" r="2.8"/><circle cx="896.4" cy="494.5" r="2.8"/><circle cx="855.4" cy="496.4" r="2.8"/><circle cx="865.8" cy="497.3" r="2.8"/><circle cx="856.0" cy="499.2" r="2.8"/><circle cx="892.6" cy="499.2" r="2.8"/><circle cx="863.9" cy="501.1" r="2.8"/><circle cx="897.3" cy="502.0" r="2.8"/><circle cx="873.8" cy="503.5" r="2.8"/><circle cx="875.7" cy="504.3" r="2.8"/><circle cx="878.5" cy="505.4" r="2.8"/><circle cx="898.6" cy="505.4" r="2.8"/><circle cx="881.7" cy="506.7" r="2.8"/><circle cx="890.7" cy="506.7" r="2.8"/><circle cx="883.6" cy="508.1" r="2.8"/><circle cx="888.3" cy="508.1" r="2.8"/><circle cx="870.5" cy="510.5" r="2.8"/><circle cx="857.3" cy="512.4" r="2.8"/><circle cx="858.8" cy="514.2" r="2.8"/><circle cx="861.6" cy="516.7" r="2.8"/><circle cx="883.6" cy="516.7" r="2.8"/><circle cx="879.5" cy="517.4" r="2.8"/><circle cx="894.5" cy="518.4" r="2.8"/><circle cx="892.0" cy="519.3" r="2.8"/><circle cx="877.6" cy="520.4" r="2.8"/><circle cx="836.5" cy="484.2" r="2.8"/><circle cx="838.5" cy="489.1" r="2.8"/><circle cx="838.2" cy="479.3" r="2.8"/><circle cx="837.4" cy="472.0" r="2.8"/><circle cx="838.3" cy="500.2" r="2.8"/><circle cx="829.9" cy="508.6" r="2.8"/><circle cx="836.5" cy="450.2" r="2.8"/><circle cx="831.8" cy="493.3" r="2.8"/></g><rect class="f" x="825.5" y="431.5" width="79.0" height="100.0"/><line x1="854.5" y1="531.5" x2="854.5" y2="536.5"/><text transform="translate(854.97,553.00) scale(1.000,1.000)" font-size="13.89" text-anchor="middle">2.50</text><line x1="900.5" y1="531.5" x2="900.5" y2="536.5"/><text transform="translate(900.77,553.00) scale(1.000,1.000)" font-size="13.89" text-anchor="middle">5.00</text>
<g fill="#1f77b4"><circle cx="923.4" cy="447.2" r="2.8"/><circle cx="928.6" cy="446.3" r="2.8"/><circle cx="933.3" cy="447.2" r="2.8"/><circle cx="929.0" cy="450.0" r="2.8"/><circle cx="924.3" cy="453.6" r="2.8"/><circle cx="932.4" cy="455.1" r="2.8"/><circle cx="930.5" cy="458.3" r="2.8"/><circle cx="926.2" cy="459.8" r="2.8"/><circle cx="933.3" cy="462.2" r="2.8"/><circle cx="928.6" cy="463.6" r="2.8"/><circle cx="924.3" cy="466.0" r="2.8"/><circle cx="926.2" cy="468.2" r="2.8"/><circle cx="923.4" cy="470.5" r="2.8"/><circle cx="928.1" cy="471.6" r="2.8"/><circle cx="926.2" cy="474.4" r="2.8"/><circle cx="931.8" cy="476.3" r="2.8"/><circle cx="927.1" cy="478.2" r="2.8"/><circle cx="934.3" cy="481.4" r="2.8"/><circle cx="926.2" cy="482.3" r="2.8"/><circle cx="930.5" cy="483.8" r="2.8"/><circle cx="923.4" cy="484.8" r="2.8"/><circle cx="928.1" cy="486.1" r="2.8"/><circle cx="925.3" cy="488.0" r="2.8"/><circle cx="930.9" cy="488.9" r="2.8"/><circle cx="934.3" cy="490.4" r="2.8"/><circle cx="929.0" cy="492.1" r="2.8"/><circle cx="932.8" cy="494.0" r="2.8"/><circle cx="923.4" cy="497.9" r="2.8"/><circle cx="934.3" cy="496.4" r="2.8"/><circle cx="929.0" cy="501.1" r="2.8"/><circle cx="925.3" cy="506.4" r="2.8"/><circle cx="928.1" cy="507.3" r="2.8"/><circle cx="931.5" cy="508.6" r="2.8"/><circle cx="927.1" cy="510.5" r="2.8"/><circle cx="929.0" cy="512.7" r="2.8"/><circle cx="928.1" cy="515.6" r="2.8"/><circle cx="934.3" cy="517.4" r="2.8"/><circle cx="929.6" cy="519.3" r="2.8"/><circle cx="949.3" cy="445.3" r="2.8"/><circle cx="952.5" cy="444.4" r="2.8"/><circle cx="978.4" cy="446.3" r="2.8"/><circle cx="992.5" cy="446.3" r="2.8"/><circle cx="957.6" cy="447.2" r="2.8"/><circle cx="991.5" cy="449.1" r="2.8"/><circle cx="964.3" cy="451.0" r="2.8"/><circle cx="984.0" cy="451.0" r="2.8"/><circle cx="956.8" cy="454.5" r="2.8"/><circle cx="959.6" cy="454.2" r="2.8"/><circle cx="983.1" cy="454.2" r="2.8"/><circle cx="980.3" cy="456.4" r="2.8"/><circle cx="984.4" cy="459.8" r="2.8"/><circle cx="948.4" cy="460.2" r="2.8"/><circle cx="955.3" cy="461.1" r="2.8"/><circle cx="987.8" cy="460.7" r="2.8"/><circle cx="990.0" cy="461.7" r="2.8"/><circle cx="967.1" cy="463.2" r="2.8"/><circle cx="953.4" cy="465.4" r="2.8"/><circle cx="950.2" cy="466.4" r="2.8"/><circle cx="961.5" cy="466.4" r="2.8"/><circle cx="970.0" cy="466.0" r="2.8"/><circle cx="973.7" cy="466.4" r="2.8"/><circle cx="949.3" cy="472.9" r="2.8"/><circle cx="959.6" cy="476.7" r="2.8"/><circle cx="963.4" cy="477.3" r="2.8"/><circle cx="986.3" cy="477.3" r="2.8"/><circle cx="977.5" cy="478.2" r="2.8"/><circle cx="952.1" cy="479.5" r="2.8"/><circle cx="965.6" cy="479.1" r="2.8"/><circle cx="990.0" cy="480.4" r="2.8"/><circle cx="950.2" cy="482.0" r="2.8"/><circle cx="974.1" cy="482.3" r="2.8"/><circle cx="994.4" cy="485.1" r="2.8"/><circle cx="947.4" cy="484.8" r="2.8"/><circle cx="968.4" cy="485.7" r="2.8"/><circle cx="953.4" cy="486.1" r="2.8"/><circle cx="947.8" cy="487.6" r="2.8"/><circle cx="970.3" cy="488.5" r="2.8"/><circle cx="975.6" cy="488.5" r="2.8"/><circle cx="981.2" cy="489.3" r="2.8"/><circle cx="952.5" cy="490.4" r="2.8"/><circle cx="988.7" cy="490.4" r="2.8"/><circle cx="951.2" cy="492.1" r="2.8"/><circle cx="957.2" cy="492.1" r="2.8"/><circle cx="963.4" cy="491.2" r="2.8"/><circle cx="989.1" cy="492.7" r="2.8"/><circle cx="985.3" cy="494.0" r="2.8"/><circle cx="972.2" cy="495.5" r="2.8"/><circle cx="955.3" cy="496.4" r="2.8"/><circle cx="959.1" cy="497.3" r="2.8"/><circle cx="950.6" cy="499.2" r="2.8"/><circle cx="978.4" cy="499.2" r="2.8"/><circle cx="959.6" cy="501.1" r="2.8"/><circle cx="993.4" cy="501.1" r="2.8"/><circle cx="965.3" cy="505.4" r="2.8"/><circle cx="973.7" cy="506.4" r="2.8"/><circle cx="962.4" cy="508.1" r="2.8"/><circle cx="975.6" cy="508.1" r="2.8"/><circle cx="987.2" cy="507.3" r="2.8"/><circle cx="961.5" cy="511.4" r="2.8"/><circle cx="968.1" cy="512.0" r="2.8"/><circle cx="971.8" cy="512.0" r="2.8"/><circle cx="959.6" cy="513.9" r="2.8"/><circle cx="979.3" cy="513.3" r="2.8"/><circle cx="958.1" cy="516.7" r="2.8"/><circle cx="956.2" cy="519.3" r="2.8"/><circle cx="963.4" cy="519.3" r="2.8"/><circle cx="969.0" cy="519.3" r="2.8"/><circle cx="970.9" cy="518.4" r="2.8"/><circle cx="976.5" cy="518.4" r="2.8"/><circle cx="992.5" cy="519.3" r="2.8"/><circle cx="925.7" cy="485.1" r="2.8"/><circle cx="928.1" cy="488.4" r="2.8"/><circle cx="933.1" cy="478.9" r="2.8"/><circle cx="929.6" cy="460.9" r="2.8"/><circle cx="927.1" cy="490.0" r="2.8"/><circle cx="928.6" cy="510.0" r="2.8"/><circle cx="931.6" cy="491.2" r="2.8"/><circle cx="926.7" cy="451.8" r="2.8"/></g><rect class="f" x="919.5" y="431.5" width="79.0" height="100.0"/><line x1="949.5" y1="531.5" x2="949.5" y2="536.5"/><text transform="translate(949.01,553.00) scale(1.000,1.000)" font-size="13.89" text-anchor="middle">2.50</text><line x1="994.5" y1="531.5" x2="994.5" y2="536.5"/><text transform="translate(994.81,553.00) scale(1.000,1.000)" font-size="13.89" text-anchor="middle">5.00</text>
<g fill="#1f77b4"><circle cx="1018.2" cy="443.5" r="2.8"/><circle cx="1021.0" cy="443.5" r="2.8"/><circle cx="1022.9" cy="445.3" r="2.8"/><circle cx="1019.7" cy="449.1" r="2.8"/><circle cx="1026.3" cy="450.0" r="2.8"/><circle cx="1023.8" cy="452.3" r="2.8"/><circle cx="1020.6" cy="454.5" r="2.8"/><circle cx="1028.2" cy="454.5" r="2.8"/><circle cx="1018.2" cy="459.8" r="2.8"/><circle cx="1027.2" cy="465.1" r="2.8"/><circle cx="1017.3" cy="466.4" r="2.8"/><circle cx="1028.2" cy="466.9" r="2.8"/><circle cx="1019.1" cy="472.4" r="2.8"/><circle cx="1022.5" cy="472.9" r="2.8"/><circle cx="1024.4" cy="477.3" r="2.8"/><circle cx="1022.5" cy="482.3" r="2.8"/><circle cx="1026.3" cy="485.7" r="2.8"/><circle cx="1023.5" cy="487.6" r="2.8"/><circle cx="1019.1" cy="491.2" r="2.8"/><circle cx="1022.0" cy="490.8" r="2.8"/><circle cx="1018.2" cy="493.2" r="2.8"/><circle cx="1022.5" cy="498.3" r="2.8"/><circle cx="1018.2" cy="501.1" r="2.8"/><circle cx="1023.5" cy="502.0" r="2.8"/><circle cx="1020.6" cy="503.9" r="2.8"/><circle cx="1028.2" cy="506.7" r="2.8"/><circle cx="1019.1" cy="508.1" r="2.8"/><circle cx="1024.8" cy="508.6" r="2.8"/><circle cx="1027.2" cy="509.9" r="2.8"/><circle cx="1022.9" cy="511.4" r="2.8"/><circle cx="1018.2" cy="512.4" r="2.8"/><circle cx="1026.7" cy="514.2" r="2.8"/><circle cx="1022.0" cy="516.7" r="2.8"/><circle cx="1018.2" cy="518.0" r="2.8"/><circle cx="1026.3" cy="518.4" r="2.8"/><circle cx="1049.7" cy="444.4" r="2.8"/><circle cx="1052.9" cy="444.4" r="2.8"/><circle cx="1057.6" cy="445.3" r="2.8"/><circle cx="1061.4" cy="445.3" r="2.8"/><circle cx="1067.6" cy="444.4" r="2.8"/><circle cx="1086.4" cy="445.3" r="2.8"/><circle cx="1053.9" cy="448.5" r="2.8"/><circle cx="1058.6" cy="449.5" r="2.8"/><circle cx="1049.7" cy="452.3" r="2.8"/><circle cx="1056.3" cy="452.3" r="2.8"/><circle cx="1078.9" cy="452.3" r="2.8"/><circle cx="1087.3" cy="452.8" r="2.8"/><circle cx="1071.3" cy="454.2" r="2.8"/><circle cx="1068.9" cy="455.5" r="2.8"/><circle cx="1058.2" cy="456.0" r="2.8"/><circle cx="1055.4" cy="457.9" r="2.8"/><circle cx="1085.4" cy="457.9" r="2.8"/><circle cx="1041.3" cy="460.2" r="2.8"/><circle cx="1083.5" cy="460.2" r="2.8"/><circle cx="1050.7" cy="462.2" r="2.8"/><circle cx="1062.3" cy="462.2" r="2.8"/><circle cx="1077.3" cy="463.6" r="2.8"/><circle cx="1074.5" cy="466.0" r="2.8"/><circle cx="1046.4" cy="467.3" r="2.8"/><circle cx="1053.5" cy="467.3" r="2.8"/><circle cx="1084.5" cy="467.3" r="2.8"/><circle cx="1071.3" cy="468.2" r="2.8"/><circle cx="1088.6" cy="469.6" r="2.8"/><circle cx="1068.5" cy="470.5" r="2.8"/><circle cx="1072.3" cy="470.5" r="2.8"/><circle cx="1061.4" cy="471.6" r="2.8"/><circle cx="1065.1" cy="471.6" r="2.8"/><circle cx="1042.2" cy="471.6" r="2.8"/><circle cx="1041.3" cy="473.5" r="2.8"/><circle cx="1047.9" cy="472.9" r="2.8"/><circle cx="1047.3" cy="475.2" r="2.8"/><circle cx="1057.3" cy="477.3" r="2.8"/><circle cx="1076.0" cy="477.6" r="2.8"/><circle cx="1044.5" cy="479.5" r="2.8"/><circle cx="1078.9" cy="480.4" r="2.8"/><circle cx="1081.7" cy="482.0" r="2.8"/><circle cx="1043.6" cy="484.8" r="2.8"/><circle cx="1073.6" cy="484.8" r="2.8"/><circle cx="1045.4" cy="488.0" r="2.8"/><circle cx="1048.8" cy="488.5" r="2.8"/><circle cx="1052.6" cy="489.5" r="2.8"/><circle cx="1073.6" cy="492.1" r="2.8"/><circle cx="1061.0" cy="494.5" r="2.8"/><circle cx="1064.8" cy="494.0" r="2.8"/><circle cx="1043.6" cy="495.1" r="2.8"/><circle cx="1076.0" cy="494.5" r="2.8"/><circle cx="1068.9" cy="496.4" r="2.8"/><circle cx="1045.1" cy="497.3" r="2.8"/><circle cx="1050.1" cy="497.3" r="2.8"/><circle cx="1064.2" cy="497.9" r="2.8"/><circle cx="1065.1" cy="502.0" r="2.8"/><circle cx="1045.1" cy="503.4" r="2.8"/><circle cx="1079.2" cy="502.0" r="2.8"/><circle cx="1087.3" cy="503.4" r="2.8"/><circle cx="1081.7" cy="510.5" r="2.8"/><circle cx="1042.2" cy="511.4" r="2.8"/><circle cx="1051.6" cy="512.0" r="2.8"/><circle cx="1056.3" cy="512.4" r="2.8"/><circle cx="1053.9" cy="513.9" r="2.8"/><circle cx="1064.2" cy="514.2" r="2.8"/><circle cx="1062.3" cy="518.0" r="2.8"/><circle cx="1051.6" cy="520.4" r="2.8"/><circle cx="1068.5" cy="520.4" r="2.8"/><circle cx="1080.7" cy="520.4" r="2.8"/><circle cx="1020.1" cy="514.5" r="2.8"/><circle cx="1022.0" cy="508.3" r="2.8"/><circle cx="1018.2" cy="515.2" r="2.8"/><circle cx="1024.6" cy="447.7" r="2.8"/><circle cx="1020.4" cy="446.3" r="2.8"/><circle cx="1019.4" cy="457.2" r="2.8"/><circle cx="1021.3" cy="489.4" r="2.8"/><circle cx="1019.0" cy="446.3" r="2.8"/></g><rect class="f" x="1013.5" y="431.5" width="79.0" height="100.0"/><line x1="1043.5" y1="531.5" x2="1043.5" y2="536.5"/><text transform="translate(1043.04,553.00) scale(1.000,1.000)" font-size="13.89" text-anchor="middle">2.50</text><line x1="1088.5" y1="531.5" x2="1088.5" y2="536.5"/><text transform="translate(1088.84,553.00) scale(1.000,1.000)" font-size="13.89" text-anchor="middle">5.00</text>
<g fill="#1f77b4"><circle cx="1112.6" cy="446.3" r="2.8"/><circle cx="1114.9" cy="446.7" r="2.8"/><circle cx="1118.3" cy="449.5" r="2.8"/><circle cx="1114.0" cy="451.3" r="2.8"/><circle cx="1112.1" cy="454.5" r="2.8"/><circle cx="1120.5" cy="457.0" r="2.8"/><circle cx="1111.1" cy="459.4" r="2.8"/><circle cx="1117.7" cy="459.8" r="2.8"/><circle cx="1121.5" cy="461.3" r="2.8"/><circle cx="1119.6" cy="463.6" r="2.8"/><circle cx="1116.4" cy="464.5" r="2.8"/><circle cx="1112.1" cy="470.1" r="2.8"/><circle cx="1115.8" cy="471.1" r="2.8"/><circle cx="1120.5" cy="470.1" r="2.8"/><circle cx="1113.0" cy="472.9" r="2.8"/><circle cx="1117.7" cy="473.5" r="2.8"/><circle cx="1122.4" cy="475.4" r="2.8"/><circle cx="1111.1" cy="475.8" r="2.8"/><circle cx="1114.9" cy="476.7" r="2.8"/><circle cx="1119.6" cy="478.6" r="2.8"/><circle cx="1112.6" cy="480.4" r="2.8"/><circle cx="1121.5" cy="480.4" r="2.8"/><circle cx="1117.7" cy="486.1" r="2.8"/><circle cx="1114.9" cy="488.9" r="2.8"/><circle cx="1113.0" cy="491.7" r="2.8"/><circle cx="1122.0" cy="492.1" r="2.8"/><circle cx="1114.0" cy="494.5" r="2.8"/><circle cx="1114.5" cy="498.3" r="2.8"/><circle cx="1115.8" cy="500.2" r="2.8"/><circle cx="1120.5" cy="502.6" r="2.8"/><circle cx="1116.4" cy="505.8" r="2.8"/><circle cx="1117.7" cy="508.1" r="2.8"/><circle cx="1123.4" cy="509.2" r="2.8"/><circle cx="1115.8" cy="512.0" r="2.8"/><circle cx="1115.8" cy="515.6" r="2.8"/><circle cx="1115.5" cy="519.3" r="2.8"/><circle cx="1139.3" cy="442.5" r="2.8"/><circle cx="1178.4" cy="443.5" r="2.8"/><circle cx="1148.7" cy="444.4" r="2.8"/><circle cx="1151.5" cy="445.3" r="2.8"/><circle cx="1178.4" cy="445.7" r="2.8"/><circle cx="1164.3" cy="447.2" r="2.8"/><circle cx="1180.2" cy="449.1" r="2.8"/><circle cx="1147.4" cy="448.2" r="2.8"/><circle cx="1156.2" cy="450.0" r="2.8"/><circle cx="1142.1" cy="450.4" r="2.8"/><circle cx="1162.8" cy="450.0" r="2.8"/><circle cx="1168.4" cy="451.3" r="2.8"/><circle cx="1181.6" cy="452.3" r="2.8"/><circle cx="1182.5" cy="454.5" r="2.8"/><circle cx="1164.7" cy="455.1" r="2.8"/><circle cx="1147.8" cy="456.0" r="2.8"/><circle cx="1174.0" cy="457.4" r="2.8"/><circle cx="1141.8" cy="458.3" r="2.8"/><circle cx="1151.5" cy="460.7" r="2.8"/><circle cx="1135.6" cy="462.2" r="2.8"/><circle cx="1151.1" cy="464.5" r="2.8"/><circle cx="1138.0" cy="466.4" r="2.8"/><circle cx="1144.0" cy="466.9" r="2.8"/><circle cx="1158.1" cy="466.0" r="2.8"/><circle cx="1150.2" cy="468.2" r="2.8"/><circle cx="1158.6" cy="468.8" r="2.8"/><circle cx="1144.6" cy="475.4" r="2.8"/><circle cx="1160.5" cy="474.4" r="2.8"/><circle cx="1169.0" cy="475.8" r="2.8"/><circle cx="1172.2" cy="474.8" r="2.8"/><circle cx="1175.9" cy="476.3" r="2.8"/><circle cx="1181.6" cy="477.3" r="2.8"/><circle cx="1160.0" cy="479.1" r="2.8"/><circle cx="1175.5" cy="485.7" r="2.8"/><circle cx="1153.0" cy="487.0" r="2.8"/><circle cx="1140.2" cy="488.5" r="2.8"/><circle cx="1137.4" cy="490.4" r="2.8"/><circle cx="1166.5" cy="490.4" r="2.8"/><circle cx="1154.0" cy="491.2" r="2.8"/><circle cx="1181.6" cy="491.2" r="2.8"/><circle cx="1143.1" cy="493.0" r="2.8"/><circle cx="1170.9" cy="494.5" r="2.8"/><circle cx="1146.4" cy="497.0" r="2.8"/><circle cx="1157.1" cy="499.2" r="2.8"/><circle cx="1145.9" cy="500.2" r="2.8"/><circle cx="1139.9" cy="501.7" r="2.8"/><circle cx="1175.5" cy="501.7" r="2.8"/><circle cx="1150.2" cy="503.0" r="2.8"/><circle cx="1136.5" cy="505.4" r="2.8"/><circle cx="1141.8" cy="507.3" r="2.8"/><circle cx="1155.3" cy="506.7" r="2.8"/><circle cx="1138.0" cy="508.6" r="2.8"/><circle cx="1137.4" cy="512.4" r="2.8"/><circle cx="1152.5" cy="512.4" r="2.8"/><circle cx="1160.9" cy="512.4" r="2.8"/><circle cx="1173.7" cy="512.4" r="2.8"/><circle cx="1148.7" cy="514.2" r="2.8"/><circle cx="1165.2" cy="513.9" r="2.8"/><circle cx="1163.3" cy="517.4" r="2.8"/><circle cx="1178.4" cy="517.4" r="2.8"/><circle cx="1135.6" cy="518.0" r="2.8"/><circle cx="1139.9" cy="519.3" r="2.8"/><circle cx="1172.7" cy="519.3" r="2.8"/><circle cx="1156.8" cy="520.4" r="2.8"/><circle cx="1114.4" cy="491.7" r="2.8"/><circle cx="1111.6" cy="472.9" r="2.8"/><circle cx="1115.4" cy="473.9" r="2.8"/><circle cx="1116.1" cy="503.0" r="2.8"/><circle cx="1120.5" cy="508.6" r="2.8"/><circle cx="1121.5" cy="472.8" r="2.8"/><circle cx="1114.9" cy="497.3" r="2.8"/><circle cx="1118.9" cy="462.9" r="2.8"/></g><rect class="f" x="1107.5" y="431.5" width="79.0" height="100.0"/><line x1="1137.5" y1="531.5" x2="1137.5" y2="536.5"/><text transform="translate(1137.08,553.00) scale(1.000,1.000)" font-size="13.89" text-anchor="middle">2.50</text><line x1="1182.5" y1="531.5" x2="1182.5" y2="536.5"/><text transform="translate(1182.88,553.00) scale(1.000,1.000)" font-size="13.89" text-anchor="middle">5.00</text>
<g fill="#1f77b4"><circle cx="1208.2" cy="442.5" r="2.8"/><circle cx="1212.0" cy="443.5" r="2.8"/><circle cx="1216.3" cy="445.3" r="2.8"/><circle cx="1209.1" cy="445.7" r="2.8"/><circle cx="1206.9" cy="451.7" r="2.8"/><circle cx="1210.6" cy="451.0" r="2.8"/><circle cx="1215.3" cy="453.6" r="2.8"/><circle cx="1206.3" cy="456.0" r="2.8"/><circle cx="1210.1" cy="455.5" r="2.8"/><circle cx="1213.8" cy="461.7" r="2.8"/><circle cx="1208.8" cy="463.6" r="2.8"/><circle cx="1216.3" cy="466.4" r="2.8"/><circle cx="1212.9" cy="469.2" r="2.8"/><circle cx="1214.8" cy="472.9" r="2.8"/><circle cx="1206.3" cy="475.8" r="2.8"/><circle cx="1210.1" cy="477.6" r="2.8"/><circle cx="1212.0" cy="481.4" r="2.8"/><circle cx="1215.3" cy="483.8" r="2.8"/><circle cx="1206.3" cy="487.0" r="2.8"/><circle cx="1208.2" cy="488.9" r="2.8"/><circle cx="1211.0" cy="490.4" r="2.8"/><circle cx="1214.4" cy="492.1" r="2.8"/><circle cx="1207.3" cy="493.2" r="2.8"/><circle cx="1212.0" cy="494.5" r="2.8"/><circle cx="1209.1" cy="497.0" r="2.8"/><circle cx="1205.4" cy="500.5" r="2.8"/><circle cx="1211.0" cy="500.5" r="2.8"/><circle cx="1214.8" cy="501.1" r="2.8"/><circle cx="1209.1" cy="503.0" r="2.8"/><circle cx="1216.3" cy="504.3" r="2.8"/><circle cx="1212.0" cy="505.8" r="2.8"/><circle cx="1209.1" cy="508.1" r="2.8"/><circle cx="1214.8" cy="508.6" r="2.8"/><circle cx="1212.0" cy="510.5" r="2.8"/><circle cx="1216.3" cy="512.0" r="2.8"/><circle cx="1210.1" cy="512.7" r="2.8"/><circle cx="1206.3" cy="516.7" r="2.8"/><circle cx="1217.6" cy="518.4" r="2.8"/><circle cx="1208.2" cy="519.3" r="2.8"/><circle cx="1229.4" cy="443.5" r="2.8"/><circle cx="1246.3" cy="446.3" r="2.8"/><circle cx="1269.2" cy="448.5" r="2.8"/><circle cx="1236.4" cy="449.5" r="2.8"/><circle cx="1256.1" cy="450.4" r="2.8"/><circle cx="1259.8" cy="450.4" r="2.8"/><circle cx="1248.6" cy="453.6" r="2.8"/><circle cx="1230.4" cy="455.5" r="2.8"/><circle cx="1272.0" cy="455.5" r="2.8"/><circle cx="1233.2" cy="457.0" r="2.8"/><circle cx="1276.4" cy="460.2" r="2.8"/><circle cx="1237.3" cy="460.2" r="2.8"/><circle cx="1246.3" cy="460.7" r="2.8"/><circle cx="1235.4" cy="463.2" r="2.8"/><circle cx="1252.9" cy="463.6" r="2.8"/><circle cx="1244.8" cy="464.5" r="2.8"/><circle cx="1269.2" cy="465.4" r="2.8"/><circle cx="1240.1" cy="466.0" r="2.8"/><circle cx="1263.2" cy="467.3" r="2.8"/><circle cx="1242.9" cy="467.3" r="2.8"/><circle cx="1231.3" cy="468.8" r="2.8"/><circle cx="1275.4" cy="468.8" r="2.8"/><circle cx="1241.1" cy="469.2" r="2.8"/><circle cx="1236.4" cy="474.8" r="2.8"/><circle cx="1244.4" cy="474.4" r="2.8"/><circle cx="1275.4" cy="474.4" r="2.8"/><circle cx="1243.5" cy="476.7" r="2.8"/><circle cx="1244.4" cy="482.0" r="2.8"/><circle cx="1250.4" cy="485.7" r="2.8"/><circle cx="1260.4" cy="485.7" r="2.8"/><circle cx="1271.7" cy="484.8" r="2.8"/><circle cx="1273.5" cy="488.5" r="2.8"/><circle cx="1258.5" cy="491.2" r="2.8"/><circle cx="1268.9" cy="491.2" r="2.8"/><circle cx="1229.4" cy="493.2" r="2.8"/><circle cx="1237.3" cy="495.5" r="2.8"/><circle cx="1252.0" cy="495.5" r="2.8"/><circle cx="1232.2" cy="497.0" r="2.8"/><circle cx="1264.2" cy="497.3" r="2.8"/><circle cx="1254.8" cy="498.3" r="2.8"/><circle cx="1235.1" cy="499.2" r="2.8"/><circle cx="1259.5" cy="499.6" r="2.8"/><circle cx="1251.0" cy="501.1" r="2.8"/><circle cx="1241.1" cy="502.6" r="2.8"/><circle cx="1261.7" cy="500.5" r="2.8"/><circle cx="1274.5" cy="502.4" r="2.8"/><circle cx="1267.0" cy="503.4" r="2.8"/><circle cx="1232.6" cy="504.3" r="2.8"/><circle cx="1238.2" cy="504.3" r="2.8"/><circle cx="1249.5" cy="503.9" r="2.8"/><circle cx="1247.6" cy="506.7" r="2.8"/><circle cx="1252.3" cy="507.3" r="2.8"/><circle cx="1248.6" cy="509.2" r="2.8"/><circle cx="1262.3" cy="509.2" r="2.8"/><circle cx="1238.2" cy="508.1" r="2.8"/><circle cx="1232.2" cy="510.5" r="2.8"/><circle cx="1236.0" cy="510.5" r="2.8"/><circle cx="1241.6" cy="510.5" r="2.8"/><circle cx="1252.3" cy="514.2" r="2.8"/><circle cx="1270.2" cy="515.6" r="2.8"/><circle cx="1266.4" cy="516.1" r="2.8"/><circle cx="1254.8" cy="517.1" r="2.8"/><circle cx="1230.4" cy="518.4" r="2.8"/><circle cx="1233.2" cy="517.4" r="2.8"/><circle cx="1257.6" cy="518.0" r="2.8"/><circle cx="1264.5" cy="518.0" r="2.8"/><circle cx="1234.5" cy="519.3" r="2.8"/><circle cx="1239.2" cy="519.3" r="2.8"/><circle cx="1241.6" cy="519.3" r="2.8"/><circle cx="1260.4" cy="519.3" r="2.8"/><circle cx="1212.0" cy="508.3" r="2.8"/><circle cx="1208.2" cy="500.5" r="2.8"/><circle cx="1208.7" cy="488.7" r="2.8"/><circle cx="1212.7" cy="454.5" r="2.8"/><circle cx="1213.4" cy="503.5" r="2.8"/><circle cx="1209.9" cy="448.3" r="2.8"/><circle cx="1212.0" cy="502.0" r="2.8"/><circle cx="1208.2" cy="514.7" r="2.8"/></g><rect class="f" x="1201.5" y="431.5" width="79.0" height="100.0"/><line x1="1231.5" y1="531.5" x2="1231.5" y2="536.5"/><text transform="translate(1231.11,553.00) scale(1.000,1.000)" font-size="13.89" text-anchor="middle">2.50</text><line x1="1276.5" y1="531.5" x2="1276.5" y2="536.5"/><text transform="translate(1276.91,553.00) scale(1.000,1.000)" font-size="13.89" text-anchor="middle">5.00</text>
<rect class="f" x="1295.5" y="431.5" width="79.0" height="100.0"/><line x1="1299.5" y1="531.5" x2="1299.5" y2="536.5"/><text transform="translate(1299.41,553.00) scale(1.000,1.000)" font-size="13.89" text-anchor="middle">-0.05</text><line x1="1335.5" y1="531.5" x2="1335.5" y2="536.5"/><text transform="translate(1335.03,553.00) scale(1.000,1.000)" font-size="13.89" text-anchor="middle">0.00</text><line x1="1370.5" y1="531.5" x2="1370.5" y2="536.5"/><text transform="translate(1370.64,553.00) scale(1.000,1.000)" font-size="13.89" text-anchor="middle">0.05</text>
<rect class="f" x="1389.5" y="431.5" width="79.0" height="100.0"/><line x1="1393.5" y1="531.5" x2="1393.5" y2="536.5"/><text transform="translate(1393.44,553.00) scale(1.000,1.000)" font-size="13.89" text-anchor="middle">-0.05</text><line x1="1429.5" y1="531.5" x2="1429.5" y2="536.5"/><text transform="translate(1429.06,553.00) scale(1.000,1.000)" font-size="13.89" text-anchor="middle">0.00</text><line x1="1464.5" y1="531.5" x2="1464.5" y2="536.5"/><text transform="translate(1464.68,553.00) scale(1.000,1.000)" font-size="13.89" text-anchor="middle">0.05</text>
</svg></body></html>
